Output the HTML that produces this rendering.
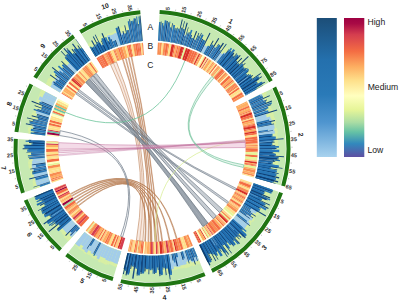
<!DOCTYPE html>
<html><head><meta charset="utf-8"><style>
html,body{margin:0;padding:0;background:#fff;width:400px;height:303px;overflow:hidden}
svg{display:block}
text{font-family:"Liberation Sans",sans-serif}
.tk{font-size:5.6px;font-weight:bold;fill:#333;dominant-baseline:central}
.cl{font-size:6.8px;font-weight:bold;fill:#222;text-anchor:middle;dominant-baseline:central}
.cb{font-size:8.6px;fill:#222}
.tl{font-size:8.5px;fill:#222}
</style></head><body>
<svg width="400" height="303" viewBox="0 0 400 303">
<defs>
<linearGradient id="gb" x1="0" y1="0" x2="0" y2="1">
<stop offset="0" stop-color="#1c4e78"/>
<stop offset="0.3" stop-color="#2470ad"/>
<stop offset="0.55" stop-color="#2a7ab8"/>
<stop offset="0.75" stop-color="#4f95cf"/>
<stop offset="1" stop-color="#a8d2ee"/>
</linearGradient>
<linearGradient id="gs" x1="0" y1="0" x2="0" y2="1">
<stop offset="0" stop-color="#9e0142"/>
<stop offset="0.04" stop-color="#a80a45"/>
<stop offset="0.12" stop-color="#d53e4f"/>
<stop offset="0.24" stop-color="#f46d43"/>
<stop offset="0.35" stop-color="#fdae61"/>
<stop offset="0.45" stop-color="#fee08b"/>
<stop offset="0.56" stop-color="#ffffbf"/>
<stop offset="0.66" stop-color="#e6f598"/>
<stop offset="0.75" stop-color="#abdda4"/>
<stop offset="0.82" stop-color="#66c2a5"/>
<stop offset="0.905" stop-color="#3288bd"/>
<stop offset="1" stop-color="#5e4fa2"/>
</linearGradient>
</defs>
<rect x="316.8" y="18" width="20" height="139" fill="url(#gb)"/>
<rect x="344" y="18" width="20.3" height="139" fill="url(#gs)"/>
<text x="367.5" y="25.4" class="cb">High</text>
<text x="367.7" y="89.5" class="cb">Medium</text>
<text x="367.4" y="153" class="cb">Low</text>
<path d="M159.47,14.51A133.9,133.9 0 0 1 268.66,82.47L245.74,95.38A107.6,107.6 0 0 0 158.01,40.77Z" fill="#c6e9b2"/>
<path d="M159.02,22.6A125.8,125.8 0 0 1 161.92,22.8L160.48,40.93A107.6,107.6 0 0 0 158.01,40.77Z" fill="#d8efa3"/>
<path d="M161.78,23.65A124.93,124.93 0 0 1 164.32,23.88L162.61,41.12A107.6,107.6 0 0 0 160.43,40.93Z" fill="#d8efa3"/>
<path d="M164.25,23.88A124.92,124.92 0 0 1 167.75,24.28L165.57,41.46A107.6,107.6 0 0 0 162.55,41.12Z" fill="#d8efa3"/>
<path d="M167.64,24.64A124.55,124.55 0 0 1 170,24.96L167.55,41.73A107.6,107.6 0 0 0 165.51,41.45Z" fill="#d8efa3"/>
<path d="M170.1,23.82A125.69,125.69 0 0 1 173.37,24.34L170.3,42.17A107.6,107.6 0 0 0 167.49,41.72Z" fill="#d8efa3"/>
<path d="M173.42,23.67A126.36,126.36 0 0 1 176.37,24.21L172.75,42.62A107.6,107.6 0 0 0 170.24,42.16Z" fill="#d8efa3"/>
<path d="M176.15,24.97A125.58,125.58 0 0 1 178.48,25.44L174.69,43.02A107.6,107.6 0 0 0 172.7,42.61Z" fill="#d8efa3"/>
<path d="M178.24,26.25A124.74,124.74 0 0 1 181.39,26.97L177.35,43.63A107.6,107.6 0 0 0 174.63,43.01Z" fill="#d8efa3"/>
<path d="M181.54,26.07A125.65,125.65 0 0 1 183.81,26.64L179.24,44.1A107.6,107.6 0 0 0 177.3,43.62Z" fill="#d8efa3"/>
<path d="M183.86,26.18A126.11,126.11 0 0 1 186.87,27L181.75,44.8A107.6,107.6 0 0 0 179.18,44.09Z" fill="#d8efa3"/>
<path d="M186.5,28.08A124.98,124.98 0 0 1 188.78,28.76L183.67,45.37A107.6,107.6 0 0 0 181.7,44.78Z" fill="#d8efa3"/>
<path d="M188.6,29.12A124.58,124.58 0 0 1 190.91,29.85L185.6,45.98A107.6,107.6 0 0 0 183.61,45.35Z" fill="#d8efa3"/>
<path d="M190.45,31.04A123.31,123.31 0 0 1 193.32,32.02L188.06,46.82A107.6,107.6 0 0 0 185.55,45.96Z" fill="#d8efa3"/>
<path d="M193.29,31.92A123.39,123.39 0 0 1 196.87,33.25L191.13,47.97A107.6,107.6 0 0 0 188,46.8Z" fill="#d8efa3"/>
<path d="M196.64,33.65A122.94,122.94 0 0 1 198.92,34.57L193.06,48.74A107.6,107.6 0 0 0 191.07,47.95Z" fill="#d8efa3"/>
<path d="M198.93,34.36A123.14,123.14 0 0 1 201.37,35.39L195.14,49.63A107.6,107.6 0 0 0 193.01,48.72Z" fill="#d8efa3"/>
<path d="M201.33,35.31A123.2,123.2 0 0 1 204.46,36.73L197.81,50.84A107.6,107.6 0 0 0 195.09,49.6Z" fill="#d8efa3"/>
<path d="M204.53,36.41A123.52,123.52 0 0 1 208.18,38.2L200.94,52.37A107.6,107.6 0 0 0 197.76,50.82Z" fill="#d8efa3"/>
<path d="M207.89,38.63A123,123 0 0 1 210.83,40.18L203.46,53.7A107.6,107.6 0 0 0 200.89,52.35Z" fill="#d8efa3"/>
<path d="M211.02,39.7A123.51,123.51 0 0 1 213.62,41.16L205.69,54.95A107.6,107.6 0 0 0 203.41,53.68Z" fill="#d8efa3"/>
<path d="M214.05,40.29A124.47,124.47 0 0 1 217.61,42.42L208.71,56.76A107.6,107.6 0 0 0 205.64,54.92Z" fill="#d8efa3"/>
<path d="M217.44,42.57A124.26,124.26 0 0 1 219.4,43.81L210.37,57.81A107.6,107.6 0 0 0 208.67,56.73Z" fill="#d8efa3"/>
<path d="M219.66,43.3A124.82,124.82 0 0 1 222.92,45.48L213.14,59.65A107.6,107.6 0 0 0 210.32,57.78Z" fill="#d8efa3"/>
<path d="M222.43,46.07A124.06,124.06 0 0 1 224.72,47.68L215.07,61.02A107.6,107.6 0 0 0 213.09,59.62Z" fill="#d8efa3"/>
<path d="M225.18,46.93A124.94,124.94 0 0 1 227.22,48.43L216.78,62.28A107.6,107.6 0 0 0 215.02,60.99Z" fill="#d8efa3"/>
<path d="M227.47,47.99A125.45,125.45 0 0 1 229.44,49.5L218.42,63.55A107.6,107.6 0 0 0 216.73,62.25Z" fill="#d8efa3"/>
<path d="M229.02,49.94A124.85,124.85 0 0 1 231.24,51.72L220.29,65.05A107.6,107.6 0 0 0 218.38,63.51Z" fill="#d8efa3"/>
<path d="M231.79,50.95A125.8,125.8 0 0 1 234.75,53.45L222.78,67.16A107.6,107.6 0 0 0 220.25,65.01Z" fill="#d8efa3"/>
<path d="M234.56,53.56A125.59,125.59 0 0 1 236.52,55.3L224.41,68.61A107.6,107.6 0 0 0 222.74,67.12Z" fill="#d8efa3"/>
<path d="M236.28,55.46A125.32,125.32 0 0 1 238.77,57.78L226.5,70.56A107.6,107.6 0 0 0 224.37,68.57Z" fill="#d8efa3"/>
<path d="M238.27,58.2A124.67,124.67 0 0 1 240.76,60.65L228.6,72.64A107.6,107.6 0 0 0 226.46,70.52Z" fill="#d8efa3"/>
<path d="M241.24,60.09A125.41,125.41 0 0 1 243.31,62.24L230.34,74.44A107.6,107.6 0 0 0 228.56,72.6Z" fill="#d8efa3"/>
<path d="M243.52,61.95A125.76,125.76 0 0 1 245.78,64.41L232.24,76.51A107.6,107.6 0 0 0 230.31,74.4Z" fill="#d8efa3"/>
<path d="M245.18,64.86A125.01,125.01 0 0 1 246.75,66.64L233.55,78A107.6,107.6 0 0 0 232.2,76.47Z" fill="#d8efa3"/>
<path d="M246.75,66.55A125.08,125.08 0 0 1 248.28,68.36L234.82,79.51A107.6,107.6 0 0 0 233.51,77.96Z" fill="#d8efa3"/>
<path d="M249.05,67.63A126.13,126.13 0 0 1 250.73,69.71L236.23,81.24A107.6,107.6 0 0 0 234.79,79.47Z" fill="#d8efa3"/>
<path d="M249.65,70.49A124.8,124.8 0 0 1 251.83,73.32L238.08,83.64A107.6,107.6 0 0 0 236.19,81.2Z" fill="#d8efa3"/>
<path d="M252.03,73.09A125.08,125.08 0 0 1 253.85,75.59L239.61,85.74A107.6,107.6 0 0 0 238.04,83.59Z" fill="#d8efa3"/>
<path d="M254.46,75.07A125.88,125.88 0 0 1 256.11,77.44L240.99,87.71A107.6,107.6 0 0 0 239.58,85.69Z" fill="#d8efa3"/>
<path d="M255.92,77.49A125.7,125.7 0 0 1 257.8,80.34L242.57,90.11A107.6,107.6 0 0 0 240.96,87.67Z" fill="#d8efa3"/>
<path d="M257.69,80.33A125.6,125.6 0 0 1 259.36,83L243.97,92.35A107.6,107.6 0 0 0 242.54,90.06Z" fill="#d8efa3"/>
<path d="M260.07,82.5A126.47,126.47 0 0 1 261.53,84.97L245.19,94.4A107.6,107.6 0 0 0 243.94,92.3Z" fill="#d8efa3"/>
<path d="M261.88,84.69A126.91,126.91 0 0 1 262.6,85.96L245.77,95.43A107.6,107.6 0 0 0 245.16,94.35Z" fill="#d8efa3"/>
<path d="M158.9,24.73A123.66,123.66 0 0 1 161.75,24.92L160.48,40.93A107.6,107.6 0 0 0 158.01,40.77Z" fill="#a3cdea"/>
<path d="M161.51,27.13A121.45,121.45 0 0 1 163.97,27.35L162.61,41.12A107.6,107.6 0 0 0 160.43,40.93Z" fill="#a3cdea"/>
<path d="M164.26,23.79A125.01,125.01 0 0 1 167.76,24.19L165.57,41.46A107.6,107.6 0 0 0 162.55,41.12Z" fill="#a3cdea"/>
<path d="M167.58,25.1A124.08,124.08 0 0 1 169.93,25.42L167.55,41.73A107.6,107.6 0 0 0 165.51,41.45Z" fill="#a3cdea"/>
<path d="M169.3,29.32A120.13,120.13 0 0 1 172.43,29.82L170.3,42.17A107.6,107.6 0 0 0 167.49,41.72Z" fill="#a3cdea"/>
<path d="M172.46,29.25A120.7,120.7 0 0 1 175.28,29.77L172.75,42.62A107.6,107.6 0 0 0 170.24,42.16Z" fill="#a3cdea"/>
<path d="M175.1,30.32A120.12,120.12 0 0 1 177.33,30.78L174.69,43.02A107.6,107.6 0 0 0 172.7,42.61Z" fill="#a3cdea"/>
<path d="M177.3,30.61A120.28,120.28 0 0 1 180.34,31.3L177.35,43.63A107.6,107.6 0 0 0 174.63,43.01Z" fill="#a3cdea"/>
<path d="M180.63,29.83A121.79,121.79 0 0 1 182.83,30.38L179.24,44.1A107.6,107.6 0 0 0 177.3,43.62Z" fill="#a3cdea"/>
<path d="M182.65,30.8A121.34,121.34 0 0 1 185.55,31.59L181.75,44.8A107.6,107.6 0 0 0 179.18,44.09Z" fill="#a3cdea"/>
<path d="M184.65,34.52A118.28,118.28 0 0 1 186.81,35.16L183.67,45.37A107.6,107.6 0 0 0 181.7,44.78Z" fill="#a3cdea"/>
<path d="M187.26,33.49A120,120 0 0 1 189.48,34.2L185.6,45.98A107.6,107.6 0 0 0 183.61,45.35Z" fill="#a3cdea"/>
<path d="M189.34,34.42A119.75,119.75 0 0 1 192.13,35.38L188.06,46.82A107.6,107.6 0 0 0 185.55,45.96Z" fill="#a3cdea"/>
<path d="M190.81,38.91A115.98,115.98 0 0 1 194.17,40.16L191.13,47.97A107.6,107.6 0 0 0 188,46.8Z" fill="#a3cdea"/>
<path d="M194.52,39.09A117.1,117.1 0 0 1 196.69,39.96L193.06,48.74A107.6,107.6 0 0 0 191.07,47.95Z" fill="#a3cdea"/>
<path d="M197.77,37.17A120.09,120.09 0 0 1 200.15,38.18L195.14,49.63A107.6,107.6 0 0 0 193.01,48.72Z" fill="#a3cdea"/>
<path d="M199.44,39.64A118.48,118.48 0 0 1 202.45,41L197.81,50.84A107.6,107.6 0 0 0 195.09,49.6Z" fill="#a3cdea"/>
<path d="M202.2,41.38A118.03,118.03 0 0 1 205.68,43.09L200.94,52.37A107.6,107.6 0 0 0 197.76,50.82Z" fill="#a3cdea"/>
<path d="M204.52,45.22A115.6,115.6 0 0 1 207.29,46.68L203.46,53.7A107.6,107.6 0 0 0 200.89,52.35Z" fill="#a3cdea"/>
<path d="M207.51,46.14A116.18,116.18 0 0 1 209.97,47.51L205.69,54.95A107.6,107.6 0 0 0 203.41,53.68Z" fill="#a3cdea"/>
<path d="M211.21,45.22A118.79,118.79 0 0 1 214.61,47.25L208.71,56.76A107.6,107.6 0 0 0 205.64,54.92Z" fill="#a3cdea"/>
<path d="M214.76,46.89A119.18,119.18 0 0 1 216.65,48.08L210.37,57.81A107.6,107.6 0 0 0 208.67,56.73Z" fill="#a3cdea"/>
<path d="M217.61,46.47A121.05,121.05 0 0 1 220.78,48.59L213.14,59.65A107.6,107.6 0 0 0 210.32,57.78Z" fill="#a3cdea"/>
<path d="M218.74,51.43A117.55,117.55 0 0 1 220.9,52.96L215.07,61.02A107.6,107.6 0 0 0 213.09,59.62Z" fill="#a3cdea"/>
<path d="M220.88,52.88A117.61,117.61 0 0 1 222.8,54.29L216.78,62.28A107.6,107.6 0 0 0 215.02,60.99Z" fill="#a3cdea"/>
<path d="M224.2,52.33A120.01,120.01 0 0 1 226.08,53.78L218.42,63.55A107.6,107.6 0 0 0 216.73,62.25Z" fill="#a3cdea"/>
<path d="M224.26,56.01A117.13,117.13 0 0 1 226.34,57.69L220.29,65.05A107.6,107.6 0 0 0 218.38,63.51Z" fill="#a3cdea"/>
<path d="M224.67,59.62A114.58,114.58 0 0 1 227.37,61.9L222.78,67.16A107.6,107.6 0 0 0 220.25,65.01Z" fill="#a3cdea"/>
<path d="M227.61,61.53A115.02,115.02 0 0 1 229.4,63.12L224.41,68.61A107.6,107.6 0 0 0 222.74,67.12Z" fill="#a3cdea"/>
<path d="M230.07,62.3A116.08,116.08 0 0 1 232.37,64.45L226.5,70.56A107.6,107.6 0 0 0 224.37,68.57Z" fill="#a3cdea"/>
<path d="M233.97,62.68A118.46,118.46 0 0 1 236.33,65.01L228.6,72.64A107.6,107.6 0 0 0 226.46,70.52Z" fill="#a3cdea"/>
<path d="M234.42,66.81A115.83,115.83 0 0 1 236.34,68.8L230.34,74.44A107.6,107.6 0 0 0 228.56,72.6Z" fill="#a3cdea"/>
<path d="M236.9,68.18A116.67,116.67 0 0 1 239,70.47L232.24,76.51A107.6,107.6 0 0 0 230.31,74.4Z" fill="#a3cdea"/>
<path d="M237.99,71.29A115.37,115.37 0 0 1 239.43,72.93L233.55,78A107.6,107.6 0 0 0 232.2,76.47Z" fill="#a3cdea"/>
<path d="M238.96,73.26A114.8,114.8 0 0 1 240.36,74.92L234.82,79.51A107.6,107.6 0 0 0 233.51,77.96Z" fill="#a3cdea"/>
<path d="M241.38,74A116.17,116.17 0 0 1 242.93,75.91L236.23,81.24A107.6,107.6 0 0 0 234.79,79.47Z" fill="#a3cdea"/>
<path d="M242.97,75.81A116.26,116.26 0 0 1 245.01,78.44L238.08,83.64A107.6,107.6 0 0 0 236.19,81.2Z" fill="#a3cdea"/>
<path d="M246.05,77.58A117.61,117.61 0 0 1 247.76,79.93L239.61,85.74A107.6,107.6 0 0 0 238.04,83.59Z" fill="#a3cdea"/>
<path d="M245.34,81.58A114.68,114.68 0 0 1 246.84,83.74L240.99,87.71A107.6,107.6 0 0 0 239.58,85.69Z" fill="#a3cdea"/>
<path d="M248.59,82.47A116.83,116.83 0 0 1 250.34,85.12L242.57,90.11A107.6,107.6 0 0 0 240.96,87.67Z" fill="#a3cdea"/>
<path d="M250.11,85.2A116.6,116.6 0 0 1 251.66,87.68L243.97,92.35A107.6,107.6 0 0 0 242.54,90.06Z" fill="#a3cdea"/>
<path d="M252.39,87.17A117.49,117.49 0 0 1 253.75,89.46L245.19,94.4A107.6,107.6 0 0 0 243.94,92.3Z" fill="#a3cdea"/>
<path d="M254.29,89.07A118.15,118.15 0 0 1 254.97,90.25L245.77,95.43A107.6,107.6 0 0 0 245.16,94.35Z" fill="#a3cdea"/>
<path d="M159.15,21.9A126.5,126.5 0 0 1 160.61,21.99L159.32,40.85A107.6,107.6 0 0 0 158.08,40.77Z" fill="#2472b3"/>
<path d="M160.82,21.38A127.12,127.12 0 0 1 161.57,21.44L160.1,40.91A107.6,107.6 0 0 0 159.47,40.86Z" fill="#123f70"/>
<path d="M161.91,23.05A125.54,125.54 0 0 1 163.42,23.18L161.79,41.05A107.6,107.6 0 0 0 160.49,40.94Z" fill="#2675b5"/>
<path d="M163.37,25.4A123.33,123.33 0 0 1 164.04,25.46L162.51,41.11A107.6,107.6 0 0 0 161.92,41.06Z" fill="#123f70"/>
<path d="M164.72,20.19A128.64,128.64 0 0 1 166.48,20.38L164.11,41.28A107.6,107.6 0 0 0 162.64,41.13Z" fill="#2675b5"/>
<path d="M166.62,20.95A128.08,128.08 0 0 1 167.81,21.1L165.28,41.42A107.6,107.6 0 0 0 164.29,41.3Z" fill="#0f447c"/>
<path d="M168.01,22.23A126.99,126.99 0 0 1 169.43,22.41L166.77,41.62A107.6,107.6 0 0 0 165.57,41.46Z" fill="#2472b3"/>
<path d="M169.69,21.58A127.85,127.85 0 0 1 170.35,21.67L167.44,41.71A107.6,107.6 0 0 0 166.89,41.63Z" fill="#174a82"/>
<path d="M169.71,27.14A122.34,122.34 0 0 1 171.27,27.38L168.95,41.94A107.6,107.6 0 0 0 167.57,41.73Z" fill="#2675b5"/>
<path d="M172.13,23.23A126.58,126.58 0 0 1 172.96,23.36L169.82,42.09A107.6,107.6 0 0 0 169.11,41.97Z" fill="#174a82"/>
<path d="M173.32,24.78A125.25,125.25 0 0 1 175.18,25.11L171.91,42.46A107.6,107.6 0 0 0 170.32,42.17Z" fill="#2a7abb"/>
<path d="M174.83,27.87A122.48,122.48 0 0 1 175.5,28L172.65,42.6A107.6,107.6 0 0 0 172.06,42.49Z" fill="#0f447c"/>
<path d="M175.6,28.17A122.33,122.33 0 0 1 176.77,28.41L173.79,42.83A107.6,107.6 0 0 0 172.75,42.62Z" fill="#2472b3"/>
<path d="M177.08,27.6A123.18,123.18 0 0 1 177.77,27.75L174.51,42.98A107.6,107.6 0 0 0 173.91,42.85Z" fill="#0d3f75"/>
<path d="M177.86,28.44A122.52,122.52 0 0 1 179.48,28.8L176.13,43.34A107.6,107.6 0 0 0 174.71,43.02Z" fill="#2a7abb"/>
<path d="M181.85,19.39A132.23,132.23 0 0 1 182.78,19.61L177.05,43.56A107.6,107.6 0 0 0 176.29,43.38Z" fill="#0d3f75"/>
<path d="M181.29,27.41A124.29,124.29 0 0 1 182.46,27.7L178.37,43.88A107.6,107.6 0 0 0 177.36,43.63Z" fill="#216eb0"/>
<path d="M184.26,21.16A131.07,131.07 0 0 1 184.93,21.33L179.03,44.05A107.6,107.6 0 0 0 178.48,43.91Z" fill="#0d3f75"/>
<path d="M183.25,28.85A123.38,123.38 0 0 1 184.67,29.23L180.49,44.44A107.6,107.6 0 0 0 179.26,44.11Z" fill="#2675b5"/>
<path d="M186.69,22.59A130.31,130.31 0 0 1 187.72,22.88L181.49,44.72A107.6,107.6 0 0 0 180.64,44.48Z" fill="#0d3f75"/>
<path d="M184.31,35.92A116.84,116.84 0 0 1 185.32,36.21L182.69,45.07A107.6,107.6 0 0 0 181.76,44.8Z" fill="#216eb0"/>
<path d="M188.11,27.34A126.14,126.14 0 0 1 188.65,27.5L183.27,45.24A107.6,107.6 0 0 0 182.8,45.1Z" fill="#0f447c"/>
<path d="M187.74,32.16A121.41,121.41 0 0 1 188.87,32.52L184.68,45.68A107.6,107.6 0 0 0 183.67,45.37Z" fill="#2675b5"/>
<path d="M189.11,32.22A121.78,121.78 0 0 1 189.82,32.44L185.41,45.92A107.6,107.6 0 0 0 184.79,45.72Z" fill="#123f70"/>
<path d="M190.94,29.82A124.62,124.62 0 0 1 192.49,30.34L186.96,46.44A107.6,107.6 0 0 0 185.62,45.99Z" fill="#2a7abb"/>
<path d="M191.12,34.85A119.91,119.91 0 0 1 191.97,35.15L187.87,46.75A107.6,107.6 0 0 0 187.11,46.49Z" fill="#0d3f75"/>
<path d="M191.37,37.64A117.36,117.36 0 0 1 193.12,38.28L189.7,47.42A107.6,107.6 0 0 0 188.1,46.84Z" fill="#2675b5"/>
<path d="M196.07,31.04A125.17,125.17 0 0 1 197.07,31.43L190.75,47.82A107.6,107.6 0 0 0 189.88,47.49Z" fill="#0d3f75"/>
<path d="M194.48,39.39A116.81,116.81 0 0 1 195.57,39.82L192.14,48.37A107.6,107.6 0 0 0 191.13,47.97Z" fill="#2472b3"/>
<path d="M198.58,32.72A124.52,124.52 0 0 1 199.26,33L192.84,48.65A107.6,107.6 0 0 0 192.25,48.41Z" fill="#123f70"/>
<path d="M198.68,35.16A122.3,122.3 0 0 1 199.83,35.65L194.08,49.17A107.6,107.6 0 0 0 193.07,48.75Z" fill="#2675b5"/>
<path d="M201.2,32.82A125.43,125.43 0 0 1 201.8,33.08L194.72,49.44A107.6,107.6 0 0 0 194.21,49.22Z" fill="#0d3f75"/>
<path d="M201.91,34.25A124.4,124.4 0 0 1 203.62,35.02L196.65,50.3A107.6,107.6 0 0 0 195.17,49.64Z" fill="#216eb0"/>
<path d="M202.14,38.74A120.39,120.39 0 0 1 203.15,39.21L197.71,50.79A107.6,107.6 0 0 0 196.81,50.37Z" fill="#174a82"/>
<path d="M203.09,39.76A119.87,119.87 0 0 1 205.31,40.84L199.85,51.83A107.6,107.6 0 0 0 197.86,50.86Z" fill="#216eb0"/>
<path d="M209.56,32.84A128.92,128.92 0 0 1 210.5,33.32L200.83,52.32A107.6,107.6 0 0 0 200.04,51.92Z" fill="#0d3f75"/>
<path d="M208,45.42A117.05,117.05 0 0 1 209.37,46.18L204.74,54.41A107.6,107.6 0 0 0 203.48,53.71Z" fill="#2675b5"/>
<path d="M212.82,40.41A123.76,123.76 0 0 1 213.64,40.88L205.59,54.9A107.6,107.6 0 0 0 204.87,54.49Z" fill="#0f447c"/>
<path d="M211.96,44.16A120.08,120.08 0 0 1 213.72,45.19L207.3,55.9A107.6,107.6 0 0 0 205.73,54.97Z" fill="#2675b5"/>
<path d="M218.3,38.04A128.58,128.58 0 0 1 219.24,38.61L208.27,56.48A107.6,107.6 0 0 0 207.48,56.01Z" fill="#123f70"/>
<path d="M214.62,47.24A118.8,118.8 0 0 1 215.69,47.91L209.68,57.37A107.6,107.6 0 0 0 208.72,56.76Z" fill="#2675b5"/>
<path d="M218.48,43.76A123.81,123.81 0 0 1 218.99,44.09L210.22,57.71A107.6,107.6 0 0 0 209.78,57.43Z" fill="#0f447c"/>
<path d="M218.99,44.54A123.42,123.42 0 0 1 220.65,45.63L211.85,58.78A107.6,107.6 0 0 0 210.4,57.83Z" fill="#2472b3"/>
<path d="M222.85,42.76A127.04,127.04 0 0 1 223.96,43.51L212.95,59.53A107.6,107.6 0 0 0 212.01,58.89Z" fill="#0d3f75"/>
<path d="M219.8,50.03A119.3,119.3 0 0 1 220.82,50.74L214.07,60.3A107.6,107.6 0 0 0 213.15,59.66Z" fill="#2675b5"/>
<path d="M226.02,43.66A128.1,128.1 0 0 1 226.69,44.14L214.74,60.79A107.6,107.6 0 0 0 214.18,60.39Z" fill="#0f447c"/>
<path d="M223.51,53.36A118.78,118.78 0 0 1 224.67,54.25L217.83,63.09A107.6,107.6 0 0 0 216.78,62.29Z" fill="#2472b3"/>
<path d="M228.65,49.34A125.1,125.1 0 0 1 229.13,49.71L218.34,63.49A107.6,107.6 0 0 0 217.93,63.17Z" fill="#174a82"/>
<path d="M228.33,50.82A123.73,123.73 0 0 1 230.53,52.59L220.29,65.05A107.6,107.6 0 0 0 218.38,63.51Z" fill="#0f447c"/>
<path d="M230.87,47.72A127.74,127.74 0 0 1 232.11,48.71L219.48,64.39A107.6,107.6 0 0 0 218.43,63.56Z" fill="#2a7abb"/>
<path d="M230.55,50.91A125.04,125.04 0 0 1 231.27,51.49L220.21,64.98A107.6,107.6 0 0 0 219.6,64.48Z" fill="#123f70"/>
<path d="M230.88,52.05A124.37,124.37 0 0 1 233.81,54.53L222.78,67.16A107.6,107.6 0 0 0 220.25,65.01Z" fill="#2675b5"/>
<path d="M233.51,49.04A128.36,128.36 0 0 1 235.09,50.36L221.65,66.19A107.6,107.6 0 0 0 220.32,65.08Z" fill="#2675b5"/>
<path d="M233.53,52.55A125.68,125.68 0 0 1 234.34,53.25L222.5,66.91A107.6,107.6 0 0 0 221.8,66.31Z" fill="#123f70"/>
<path d="M232.12,56.36A121.88,121.88 0 0 1 234.02,58.04L224.41,68.61A107.6,107.6 0 0 0 222.74,67.12Z" fill="#2675b5"/>
<path d="M233.05,55.41A123.2,123.2 0 0 1 233.93,56.2L223.56,67.84A107.6,107.6 0 0 0 222.79,67.16Z" fill="#216eb0"/>
<path d="M236.67,53.36A127.14,127.14 0 0 1 237.21,53.84L224.12,68.34A107.6,107.6 0 0 0 223.66,67.93Z" fill="#0d3f75"/>
<path d="M232.7,58.27A120.83,120.83 0 0 1 233.01,58.55L224.14,68.37A107.6,107.6 0 0 0 223.86,68.12Z" fill="#93c2e3"/>
<path d="M236.33,55.4A125.39,125.39 0 0 1 238.82,57.73L226.5,70.56A107.6,107.6 0 0 0 224.37,68.57Z" fill="#0f447c"/>
<path d="M237.29,54.5A126.71,126.71 0 0 1 238.88,55.98L225.78,69.88A107.6,107.6 0 0 0 224.43,68.63Z" fill="#2675b5"/>
<path d="M239.98,55.11A128.09,128.09 0 0 1 240.59,55.68L226.42,70.48A107.6,107.6 0 0 0 225.91,70Z" fill="#0d3f75"/>
<path d="M235.19,61.41A120.22,120.22 0 0 1 237.59,63.78L228.6,72.64A107.6,107.6 0 0 0 226.46,70.52Z" fill="#2675b5"/>
<path d="M236.17,60.53A121.53,121.53 0 0 1 237.41,61.74L227.62,71.65A107.6,107.6 0 0 0 226.52,70.58Z" fill="#2472b3"/>
<path d="M241.54,57.86A127.2,127.2 0 0 1 242.2,58.52L228.3,72.34A107.6,107.6 0 0 0 227.75,71.78Z" fill="#123f70"/>
<path d="M237.45,63.83A120.08,120.08 0 0 1 239.43,65.89L230.34,74.44A107.6,107.6 0 0 0 228.56,72.6Z" fill="#0d3f75"/>
<path d="M238.44,62.97A121.4,121.4 0 0 1 239.48,64.04L229.54,73.6A107.6,107.6 0 0 0 228.62,72.65Z" fill="#2472b3"/>
<path d="M248.06,56.05A133.11,133.11 0 0 1 248.77,56.8L230.23,74.32A107.6,107.6 0 0 0 229.65,73.71Z" fill="#123f70"/>
<path d="M241.36,63.99A122.79,122.79 0 0 1 243.57,66.39L232.24,76.51A107.6,107.6 0 0 0 230.31,74.4Z" fill="#2675b5"/>
<path d="M242.38,63.15A124.1,124.1 0 0 1 243.42,64.27L231.26,75.43A107.6,107.6 0 0 0 230.36,74.46Z" fill="#2a7abb"/>
<path d="M245.08,63.01A126.18,126.18 0 0 1 245.63,63.61L231.84,76.07A107.6,107.6 0 0 0 231.37,75.55Z" fill="#123f70"/>
<path d="M242.23,67.5A121.06,121.06 0 0 1 243.75,69.22L233.55,78A107.6,107.6 0 0 0 232.2,76.47Z" fill="#2675b5"/>
<path d="M243.26,66.67A122.37,122.37 0 0 1 244.03,67.54L232.92,77.28A107.6,107.6 0 0 0 232.24,76.51Z" fill="#2472b3"/>
<path d="M244.18,67.59A122.46,122.46 0 0 1 244.55,68.01L233.32,77.74A107.6,107.6 0 0 0 233,77.37Z" fill="#0d3f75"/>
<path d="M244.47,68.51A122.07,122.07 0 0 1 245.96,70.27L234.82,79.51A107.6,107.6 0 0 0 233.51,77.96Z" fill="#0d3f75"/>
<path d="M245.51,67.7A123.39,123.39 0 0 1 246.22,68.53L234.16,78.72A107.6,107.6 0 0 0 233.55,78Z" fill="#2472b3"/>
<path d="M247.22,67.86A124.59,124.59 0 0 1 247.62,68.33L234.58,79.22A107.6,107.6 0 0 0 234.24,78.81Z" fill="#0f447c"/>
<path d="M244.68,70.59A120.88,120.88 0 0 1 244.95,70.92L234.74,79.41A107.6,107.6 0 0 0 234.5,79.12Z" fill="#93c2e3"/>
<path d="M246.54,69.71A122.88,122.88 0 0 1 248.19,71.73L236.23,81.24A107.6,107.6 0 0 0 234.79,79.47Z" fill="#2675b5"/>
<path d="M248,68.6A124.71,124.71 0 0 1 248.96,69.77L235.66,80.53A107.6,107.6 0 0 0 234.83,79.52Z" fill="#2a7abb"/>
<path d="M248.66,70.22A124.19,124.19 0 0 1 249.14,70.83L236.16,81.16A107.6,107.6 0 0 0 235.74,80.64Z" fill="#174a82"/>
<path d="M245.07,74.13A118.94,118.94 0 0 1 247.15,76.83L238.08,83.64A107.6,107.6 0 0 0 236.19,81.2Z" fill="#0f447c"/>
<path d="M246.16,73.39A120.26,120.26 0 0 1 247.37,74.94L237.33,82.66A107.6,107.6 0 0 0 236.25,81.27Z" fill="#2675b5"/>
<path d="M248.79,74.12A121.88,121.88 0 0 1 249.29,74.79L237.89,83.39A107.6,107.6 0 0 0 237.44,82.8Z" fill="#174a82"/>
<path d="M249.42,75.05A121.82,121.82 0 0 1 251.2,77.48L239.61,85.74A107.6,107.6 0 0 0 238.04,83.59Z" fill="#0d3f75"/>
<path d="M250.52,74.33A123.14,123.14 0 0 1 251.4,75.52L238.86,84.69A107.6,107.6 0 0 0 238.09,83.66Z" fill="#2472b3"/>
<path d="M252.53,74.92A124.4,124.4 0 0 1 253.1,75.7L239.44,85.5A107.6,107.6 0 0 0 238.95,84.82Z" fill="#0f447c"/>
<path d="M247.65,76.85A119.33,119.33 0 0 1 247.9,77.18L238.47,84.16A107.6,107.6 0 0 0 238.25,83.86Z" fill="#93c2e3"/>
<path d="M250.59,77.83A121.13,121.13 0 0 1 252.18,80.11L240.99,87.71A107.6,107.6 0 0 0 239.58,85.69Z" fill="#2472b3"/>
<path d="M251.71,77.13A122.45,122.45 0 0 1 252.56,78.34L240.37,86.81A107.6,107.6 0 0 0 239.62,85.75Z" fill="#2a7abb"/>
<path d="M260.51,73.04A132,132 0 0 1 261,73.76L240.85,87.52A107.6,107.6 0 0 0 240.45,86.93Z" fill="#0d3f75"/>
<path d="M257.05,76.71A127.07,127.07 0 0 1 258.96,79.6L242.57,90.11A107.6,107.6 0 0 0 240.96,87.67Z" fill="#0f447c"/>
<path d="M258.2,76.06A128.38,128.38 0 0 1 259.18,77.52L241.83,88.96A107.6,107.6 0 0 0 241.01,87.74Z" fill="#216eb0"/>
<path d="M261.5,76.24A131.03,131.03 0 0 1 261.96,76.94L242.3,89.68A107.6,107.6 0 0 0 241.92,89.11Z" fill="#0d3f75"/>
<path d="M255.14,81.97A122.58,122.58 0 0 1 256.77,84.58L243.97,92.35A107.6,107.6 0 0 0 242.54,90.06Z" fill="#0d3f75"/>
<path d="M256.62,81.13A124.27,124.27 0 0 1 257.64,82.76L243.47,91.54A107.6,107.6 0 0 0 242.58,90.13Z" fill="#2472b3"/>
<path d="M257.42,83.11A123.89,123.89 0 0 1 257.83,83.79L243.91,92.26A107.6,107.6 0 0 0 243.56,91.67Z" fill="#0d3f75"/>
<path d="M260.8,82.05A127.33,127.33 0 0 1 262.28,84.53L245.19,94.4A107.6,107.6 0 0 0 243.94,92.3Z" fill="#2a7abb"/>
<path d="M261.97,81.44A128.65,128.65 0 0 1 262.73,82.7L244.61,93.42A107.6,107.6 0 0 0 243.98,92.36Z" fill="#2472b3"/>
<path d="M264.59,81.8A130.71,130.71 0 0 1 265.06,82.61L245.07,94.21A107.6,107.6 0 0 0 244.68,93.54Z" fill="#0f447c"/>
<path d="M255.89,88.15A120,120 0 0 1 256.57,89.35L245.77,95.43A107.6,107.6 0 0 0 245.16,94.35Z" fill="#2675b5"/>
<path d="M257.05,87.53A121.31,121.31 0 0 1 257.39,88.12L245.48,94.91A107.6,107.6 0 0 0 245.17,94.38Z" fill="#2a7abb"/>
<path d="M263.03,84.99A127.76,127.76 0 0 1 263.23,85.35L245.68,95.27A107.6,107.6 0 0 0 245.51,94.97Z" fill="#174a82"/>
<path d="M252.92,90.95A116.03,116.03 0 0 1 253.12,91.3L245.77,95.44A107.6,107.6 0 0 0 245.59,95.11Z" fill="#93c2e3"/>
<path d="M271.94,88.66A133.9,133.9 0 0 1 280.65,185.33L255.38,178.04A107.6,107.6 0 0 0 248.38,100.36Z" fill="#c6e9b2"/>
<path d="M265.97,91.63A127.24,127.24 0 0 1 267.01,93.77L249.26,102.17A107.6,107.6 0 0 0 248.38,100.36Z" fill="#d8efa3"/>
<path d="M265.92,94.21A126.06,126.06 0 0 1 267.38,97.41L250.48,104.85A107.6,107.6 0 0 0 249.23,102.12Z" fill="#d8efa3"/>
<path d="M267.08,97.47A125.77,125.77 0 0 1 268.13,99.91L251.35,106.88A107.6,107.6 0 0 0 250.46,104.8Z" fill="#d8efa3"/>
<path d="M267.79,99.98A125.43,125.43 0 0 1 269.07,103.17L252.43,109.57A107.6,107.6 0 0 0 251.33,106.83Z" fill="#d8efa3"/>
<path d="M268.72,103.23A125.09,125.09 0 0 1 269.73,105.95L253.28,111.85A107.6,107.6 0 0 0 252.41,109.52Z" fill="#d8efa3"/>
<path d="M270.37,105.65A125.79,125.79 0 0 1 271.53,109L254.24,114.67A107.6,107.6 0 0 0 253.26,111.8Z" fill="#d8efa3"/>
<path d="M272.21,108.71A126.53,126.53 0 0 1 273.3,112.2L255.15,117.58A107.6,107.6 0 0 0 254.23,114.62Z" fill="#d8efa3"/>
<path d="M273.05,112.2A126.29,126.29 0 0 1 274,115.57L255.95,120.4A107.6,107.6 0 0 0 255.14,117.53Z" fill="#d8efa3"/>
<path d="M273.72,115.58A126.02,126.02 0 0 1 274.35,118.03L256.47,122.44A107.6,107.6 0 0 0 255.93,120.35Z" fill="#d8efa3"/>
<path d="M274.91,117.82A126.61,126.61 0 0 1 275.65,120.97L257.08,125.06A107.6,107.6 0 0 0 256.46,122.38Z" fill="#d8efa3"/>
<path d="M275.45,120.95A126.43,126.43 0 0 1 276.11,124.12L257.63,127.7A107.6,107.6 0 0 0 257.07,125.01Z" fill="#d8efa3"/>
<path d="M275.15,124.24A125.46,125.46 0 0 1 275.88,128.35L258.24,131.17A107.6,107.6 0 0 0 257.62,127.65Z" fill="#d8efa3"/>
<path d="M276.99,128.1A126.6,126.6 0 0 1 277.36,130.54L258.55,133.19A107.6,107.6 0 0 0 258.24,131.12Z" fill="#d8efa3"/>
<path d="M277.56,130.45A126.81,126.81 0 0 1 277.91,133.14L258.84,135.42A107.6,107.6 0 0 0 258.54,133.14Z" fill="#d8efa3"/>
<path d="M277.22,133.16A126.12,126.12 0 0 1 277.57,136.38L259.13,138.11A107.6,107.6 0 0 0 258.83,135.37Z" fill="#d8efa3"/>
<path d="M277.77,136.29A126.33,126.33 0 0 1 278.06,139.96L259.37,141.18A107.6,107.6 0 0 0 259.12,138.06Z" fill="#d8efa3"/>
<path d="M278.01,139.89A126.28,126.28 0 0 1 278.16,142.73L259.5,143.54A107.6,107.6 0 0 0 259.37,141.12Z" fill="#d8efa3"/>
<path d="M278.01,142.67A126.13,126.13 0 0 1 278.11,145.85L259.58,146.2A107.6,107.6 0 0 0 259.5,143.48Z" fill="#d8efa3"/>
<path d="M278.83,145.77A126.85,126.85 0 0 1 278.84,149.58L259.59,149.37A107.6,107.6 0 0 0 259.58,146.14Z" fill="#d8efa3"/>
<path d="M278.39,149.51A126.4,126.4 0 0 1 278.28,153.76L259.5,152.93A107.6,107.6 0 0 0 259.59,149.32Z" fill="#d8efa3"/>
<path d="M279.18,153.73A127.3,127.3 0 0 1 278.99,157.11L259.34,155.73A107.6,107.6 0 0 0 259.5,152.87Z" fill="#d8efa3"/>
<path d="M279.6,157.08A127.9,127.9 0 0 1 279.36,160L259.14,158.13A107.6,107.6 0 0 0 259.34,155.67Z" fill="#d8efa3"/>
<path d="M278.66,159.87A127.2,127.2 0 0 1 278.41,162.31L258.94,160.14A107.6,107.6 0 0 0 259.15,158.07Z" fill="#d8efa3"/>
<path d="M277.98,162.2A126.76,126.76 0 0 1 277.59,165.4L258.61,162.8A107.6,107.6 0 0 0 258.94,160.08Z" fill="#d8efa3"/>
<path d="M278.16,165.41A127.33,127.33 0 0 1 277.74,168.24L258.26,165.14A107.6,107.6 0 0 0 258.61,162.74Z" fill="#d8efa3"/>
<path d="M276.33,167.95A125.89,125.89 0 0 1 275.92,170.33L257.92,167.12A107.6,107.6 0 0 0 258.27,165.08Z" fill="#d8efa3"/>
<path d="M276.52,170.37A126.48,126.48 0 0 1 275.9,173.59L257.41,169.8A107.6,107.6 0 0 0 257.93,167.06Z" fill="#d8efa3"/>
<path d="M276.86,173.72A127.44,127.44 0 0 1 275.93,177.9L256.64,173.28A107.6,107.6 0 0 0 257.42,169.75Z" fill="#d8efa3"/>
<path d="M276.52,177.97A128.03,128.03 0 0 1 275.45,182.14L255.75,176.72A107.6,107.6 0 0 0 256.65,173.22Z" fill="#d8efa3"/>
<path d="M274.84,181.9A127.38,127.38 0 0 1 274.37,183.59L255.36,178.09A107.6,107.6 0 0 0 255.77,176.67Z" fill="#d8efa3"/>
<path d="M261.75,93.72A122.53,122.53 0 0 1 262.75,95.78L249.26,102.17A107.6,107.6 0 0 0 248.38,100.36Z" fill="#a3cdea"/>
<path d="M261.32,96.39A120.98,120.98 0 0 1 262.72,99.46L250.48,104.85A107.6,107.6 0 0 0 249.23,102.12Z" fill="#a3cdea"/>
<path d="M263.88,98.88A122.27,122.27 0 0 1 264.9,101.25L251.35,106.88A107.6,107.6 0 0 0 250.46,104.8Z" fill="#a3cdea"/>
<path d="M264.22,101.46A121.56,121.56 0 0 1 265.46,104.56L252.43,109.57A107.6,107.6 0 0 0 251.33,106.83Z" fill="#a3cdea"/>
<path d="M267.69,103.63A123.98,123.98 0 0 1 268.69,106.32L253.28,111.85A107.6,107.6 0 0 0 252.41,109.52Z" fill="#a3cdea"/>
<path d="M264.28,107.84A119.32,119.32 0 0 1 265.38,111.02L254.24,114.67A107.6,107.6 0 0 0 253.26,111.8Z" fill="#a3cdea"/>
<path d="M267.62,110.22A121.7,121.7 0 0 1 268.67,113.57L255.15,117.58A107.6,107.6 0 0 0 254.23,114.62Z" fill="#a3cdea"/>
<path d="M265.9,114.33A118.82,118.82 0 0 1 266.79,117.5L255.95,120.4A107.6,107.6 0 0 0 255.14,117.53Z" fill="#a3cdea"/>
<path d="M270.08,116.56A122.24,122.24 0 0 1 270.69,118.93L256.47,122.44A107.6,107.6 0 0 0 255.93,120.35Z" fill="#a3cdea"/>
<path d="M271.19,118.74A122.77,122.77 0 0 1 271.9,121.8L257.08,125.06A107.6,107.6 0 0 0 256.46,122.38Z" fill="#a3cdea"/>
<path d="M270.85,121.96A121.71,121.71 0 0 1 271.48,125.02L257.63,127.7A107.6,107.6 0 0 0 257.07,125.01Z" fill="#a3cdea"/>
<path d="M274.12,124.44A124.41,124.41 0 0 1 274.84,128.51L258.24,131.17A107.6,107.6 0 0 0 257.62,127.65Z" fill="#a3cdea"/>
<path d="M273.79,128.61A123.35,123.35 0 0 1 274.15,131L258.55,133.19A107.6,107.6 0 0 0 258.24,131.12Z" fill="#a3cdea"/>
<path d="M274.62,130.87A123.84,123.84 0 0 1 274.96,133.49L258.84,135.42A107.6,107.6 0 0 0 258.54,133.14Z" fill="#a3cdea"/>
<path d="M268.94,134.15A117.78,117.78 0 0 1 269.26,137.16L259.13,138.11A107.6,107.6 0 0 0 258.83,135.37Z" fill="#a3cdea"/>
<path d="M270.8,136.95A119.33,119.33 0 0 1 271.08,140.41L259.37,141.18A107.6,107.6 0 0 0 259.12,138.06Z" fill="#a3cdea"/>
<path d="M269.83,140.43A118.08,118.08 0 0 1 269.97,143.08L259.5,143.54A107.6,107.6 0 0 0 259.37,141.12Z" fill="#a3cdea"/>
<path d="M271.21,142.96A119.32,119.32 0 0 1 271.3,145.98L259.58,146.2A107.6,107.6 0 0 0 259.5,143.48Z" fill="#a3cdea"/>
<path d="M268.46,145.97A116.48,116.48 0 0 1 268.48,149.47L259.59,149.37A107.6,107.6 0 0 0 259.58,146.14Z" fill="#a3cdea"/>
<path d="M270.73,149.43A118.74,118.74 0 0 1 270.63,153.42L259.5,152.93A107.6,107.6 0 0 0 259.59,149.32Z" fill="#a3cdea"/>
<path d="M269.2,153.29A117.31,117.31 0 0 1 269.02,156.41L259.34,155.73A107.6,107.6 0 0 0 259.5,152.87Z" fill="#a3cdea"/>
<path d="M267.81,156.26A116.09,116.09 0 0 1 267.6,158.91L259.14,158.13A107.6,107.6 0 0 0 259.34,155.67Z" fill="#a3cdea"/>
<path d="M267.35,158.83A115.84,115.84 0 0 1 267.12,161.05L258.94,160.14A107.6,107.6 0 0 0 259.15,158.07Z" fill="#a3cdea"/>
<path d="M270.47,161.36A119.2,119.2 0 0 1 270.1,164.37L258.61,162.8A107.6,107.6 0 0 0 258.94,160.08Z" fill="#a3cdea"/>
<path d="M269.72,164.26A118.81,118.81 0 0 1 269.33,166.9L258.26,165.14A107.6,107.6 0 0 0 258.61,162.74Z" fill="#a3cdea"/>
<path d="M266.65,166.41A116.08,116.08 0 0 1 266.28,168.61L257.92,167.12A107.6,107.6 0 0 0 258.27,165.08Z" fill="#a3cdea"/>
<path d="M268.16,168.88A117.99,117.99 0 0 1 267.59,171.89L257.41,169.8A107.6,107.6 0 0 0 257.93,167.06Z" fill="#a3cdea"/>
<path d="M266.04,171.51A116.4,116.4 0 0 1 265.19,175.33L256.64,173.28A107.6,107.6 0 0 0 257.42,169.75Z" fill="#a3cdea"/>
<path d="M265.61,175.36A116.81,116.81 0 0 1 264.63,179.16L255.75,176.72A107.6,107.6 0 0 0 256.65,173.22Z" fill="#a3cdea"/>
<path d="M263.51,178.79A115.63,115.63 0 0 1 263.08,180.32L255.36,178.09A107.6,107.6 0 0 0 255.77,176.67Z" fill="#a3cdea"/>
<path d="M259.97,94.68A120.51,120.51 0 0 1 260.57,95.92L248.95,101.52A107.6,107.6 0 0 0 248.4,100.41Z" fill="#2a7abb"/>
<path d="M261.93,95.41A121.95,121.95 0 0 1 262.16,95.91L249.21,102.06A107.6,107.6 0 0 0 249,101.62Z" fill="#0f447c"/>
<path d="M262.47,95.96A122.2,122.2 0 0 1 263.3,97.75L250,103.78A107.6,107.6 0 0 0 249.27,102.2Z" fill="#216eb0"/>
<path d="M269.59,95.13A129.01,129.01 0 0 1 269.97,95.98L250.39,104.64A107.6,107.6 0 0 0 250.07,103.94Z" fill="#0d3f75"/>
<path d="M262.86,99.41A121.12,121.12 0 0 1 263.45,100.77L251.01,106.07A107.6,107.6 0 0 0 250.49,104.86Z" fill="#2a7abb"/>
<path d="M266.81,99.51A124.71,124.71 0 0 1 267.08,100.17L251.3,106.75A107.6,107.6 0 0 0 251.06,106.19Z" fill="#174a82"/>
<path d="M265.64,100.98A123.06,123.06 0 0 1 266.27,102.53L251.92,108.27A107.6,107.6 0 0 0 251.36,106.91Z" fill="#216eb0"/>
<path d="M271.68,100.59A128.8,128.8 0 0 1 272.08,101.6L252.31,109.27A107.6,107.6 0 0 0 251.98,108.43Z" fill="#0d3f75"/>
<path d="M271.57,102.23A128.1,128.1 0 0 1 272.09,103.6L252.87,110.74A107.6,107.6 0 0 0 252.43,109.58Z" fill="#2675b5"/>
<path d="M270.99,104.19A126.87,126.87 0 0 1 271.26,104.93L253.15,111.5A107.6,107.6 0 0 0 252.92,110.88Z" fill="#0f447c"/>
<path d="M267.96,106.63A123.19,123.19 0 0 1 268.54,108.27L253.79,113.32A107.6,107.6 0 0 0 253.29,111.89Z" fill="#2675b5"/>
<path d="M266.27,109.26A120.73,120.73 0 0 1 266.56,110.1L254.1,114.25A107.6,107.6 0 0 0 253.85,113.49Z" fill="#123f70"/>
<path d="M268.14,110.16A122.21,122.21 0 0 1 268.65,111.77L254.71,116.13A107.6,107.6 0 0 0 254.25,114.71Z" fill="#2a7abb"/>
<path d="M276.92,109.42A130.8,130.8 0 0 1 277.25,110.49L255.03,117.18A107.6,107.6 0 0 0 254.76,116.3Z" fill="#0f447c"/>
<path d="M268.96,119.39A120.46,120.46 0 0 1 269.35,121.02L256.83,123.92A107.6,107.6 0 0 0 256.48,122.46Z" fill="#2472b3"/>
<path d="M274.84,119.94A126.05,126.05 0 0 1 275.07,120.97L257.06,124.95A107.6,107.6 0 0 0 256.86,124.08Z" fill="#0f447c"/>
<path d="M271.15,121.99A122,122 0 0 1 271.55,123.9L257.44,126.76A107.6,107.6 0 0 0 257.09,125.08Z" fill="#2472b3"/>
<path d="M274.01,123.59A124.47,124.47 0 0 1 274.17,124.37L257.61,127.6A107.6,107.6 0 0 0 257.48,126.92Z" fill="#0f447c"/>
<path d="M267.88,129.63A117.36,117.36 0 0 1 268.07,130.83L258.42,132.28A107.6,107.6 0 0 0 258.24,131.18Z" fill="#2472b3"/>
<path d="M272.97,130.24A122.3,122.3 0 0 1 273.06,130.84L258.51,132.92A107.6,107.6 0 0 0 258.43,132.4Z" fill="#174a82"/>
<path d="M271.07,133.9A119.93,119.93 0 0 1 271.4,136.96L259.13,138.11A107.6,107.6 0 0 0 258.83,135.37Z" fill="#0f447c"/>
<path d="M272.44,133.82A121.29,121.29 0 0 1 272.65,135.73L259.03,137.14A107.6,107.6 0 0 0 258.84,135.45Z" fill="#2472b3"/>
<path d="M272.62,135.92A121.24,121.24 0 0 1 272.7,136.71L259.12,138A107.6,107.6 0 0 0 259.05,137.3Z" fill="#0f447c"/>
<path d="M274.41,136.61A122.96,122.96 0 0 1 274.7,140.18L259.37,141.18A107.6,107.6 0 0 0 259.12,138.06Z" fill="#2675b5"/>
<path d="M275.73,136.59A124.27,124.27 0 0 1 275.91,138.67L259.28,139.95A107.6,107.6 0 0 0 259.13,138.15Z" fill="#2a7abb"/>
<path d="M283.55,138.31A131.92,131.92 0 0 1 283.61,139.22L259.35,140.88A107.6,107.6 0 0 0 259.3,140.13Z" fill="#174a82"/>
<path d="M272.21,140.28A120.47,120.47 0 0 1 272.36,142.98L259.5,143.54A107.6,107.6 0 0 0 259.37,141.12Z" fill="#216eb0"/>
<path d="M273.53,140.27A121.79,121.79 0 0 1 273.61,141.73L259.45,142.49A107.6,107.6 0 0 0 259.37,141.19Z" fill="#2472b3"/>
<path d="M274.68,141.84A122.85,122.85 0 0 1 274.72,142.49L259.48,143.2A107.6,107.6 0 0 0 259.46,142.63Z" fill="#123f70"/>
<path d="M271.52,141.36A119.72,119.72 0 0 1 271.54,141.78L259.44,142.43A107.6,107.6 0 0 0 259.42,142.05Z" fill="#93c2e3"/>
<path d="M270.97,142.97A119.09,119.09 0 0 1 271.07,145.99L259.58,146.2A107.6,107.6 0 0 0 259.5,143.48Z" fill="#0d3f75"/>
<path d="M272.29,143.01A120.4,120.4 0 0 1 272.36,144.92L259.56,145.27A107.6,107.6 0 0 0 259.5,143.56Z" fill="#2675b5"/>
<path d="M275.23,145.03A123.27,123.27 0 0 1 275.24,145.78L259.58,146.09A107.6,107.6 0 0 0 259.56,145.43Z" fill="#123f70"/>
<path d="M275.19,145.84A123.21,123.21 0 0 1 275.2,149.54L259.59,149.37A107.6,107.6 0 0 0 259.58,146.14Z" fill="#2a7abb"/>
<path d="M278.93,145.89A126.95,126.95 0 0 1 278.95,147.7L259.6,147.78A107.6,107.6 0 0 0 259.58,146.24Z" fill="#2a7abb"/>
<path d="M276.53,147.93A124.53,124.53 0 0 1 276.52,148.89L259.6,148.79A107.6,107.6 0 0 0 259.6,147.97Z" fill="#174a82"/>
<path d="M272.04,149.45A120.04,120.04 0 0 1 271.93,153.48L259.5,152.93A107.6,107.6 0 0 0 259.59,149.32Z" fill="#216eb0"/>
<path d="M279.28,149.65A127.29,127.29 0 0 1 279.23,152.18L259.55,151.57A107.6,107.6 0 0 0 259.59,149.42Z" fill="#2a7abb"/>
<path d="M273.29,152.24A121.36,121.36 0 0 1 273.26,153.21L259.51,152.64A107.6,107.6 0 0 0 259.54,151.78Z" fill="#174a82"/>
<path d="M274.65,153.53A122.77,122.77 0 0 1 274.47,156.79L259.34,155.73A107.6,107.6 0 0 0 259.5,152.87Z" fill="#0f447c"/>
<path d="M275.96,153.69A124.09,124.09 0 0 1 275.86,155.65L259.41,154.66A107.6,107.6 0 0 0 259.49,152.96Z" fill="#2472b3"/>
<path d="M284,156.35A132.25,132.25 0 0 1 283.94,157.3L259.34,155.61A107.6,107.6 0 0 0 259.4,154.83Z" fill="#174a82"/>
<path d="M269.31,155.58A117.54,117.54 0 0 1 269.28,155.99L259.36,155.33A107.6,107.6 0 0 0 259.39,154.96Z" fill="#93c2e3"/>
<path d="M277.43,156.93A125.74,125.74 0 0 1 277.2,159.8L259.14,158.13A107.6,107.6 0 0 0 259.34,155.67Z" fill="#0f447c"/>
<path d="M278.74,157.11A127.05,127.05 0 0 1 278.64,158.47L259.25,156.9A107.6,107.6 0 0 0 259.34,155.75Z" fill="#216eb0"/>
<path d="M278.69,158.65A127.12,127.12 0 0 1 278.62,159.43L259.18,157.71A107.6,107.6 0 0 0 259.24,157.04Z" fill="#123f70"/>
<path d="M274,159.44A122.51,122.51 0 0 1 273.76,161.79L258.94,160.14A107.6,107.6 0 0 0 259.15,158.07Z" fill="#0d3f75"/>
<path d="M279.97,160.06A128.52,128.52 0 0 1 279.86,161.21L259.05,159.09A107.6,107.6 0 0 0 259.14,158.13Z" fill="#216eb0"/>
<path d="M275.18,160.88A123.83,123.83 0 0 1 275.1,161.65L258.96,159.88A107.6,107.6 0 0 0 259.03,159.21Z" fill="#123f70"/>
<path d="M273.01,160.79A121.66,121.66 0 0 1 272.96,161.22L258.98,159.71A107.6,107.6 0 0 0 259.02,159.34Z" fill="#93c2e3"/>
<path d="M271.42,161.47A120.15,120.15 0 0 1 271.04,164.5L258.61,162.8A107.6,107.6 0 0 0 258.94,160.08Z" fill="#0f447c"/>
<path d="M272.83,161.72A121.58,121.58 0 0 1 272.6,163.64L258.73,161.87A107.6,107.6 0 0 0 258.93,160.16Z" fill="#2472b3"/>
<path d="M272.46,163.81A121.47,121.47 0 0 1 272.36,164.53L258.62,162.67A107.6,107.6 0 0 0 258.71,162.03Z" fill="#0f447c"/>
<path d="M268.19,162.87A117.12,117.12 0 0 1 268.14,163.28L258.7,162.05A107.6,107.6 0 0 0 258.75,161.68Z" fill="#93c2e3"/>
<path d="M277.75,165.35A126.91,126.91 0 0 1 277.33,168.18L258.26,165.14A107.6,107.6 0 0 0 258.61,162.74Z" fill="#2a7abb"/>
<path d="M279.04,165.61A128.23,128.23 0 0 1 278.79,167.32L258.4,164.25A107.6,107.6 0 0 0 258.6,162.81Z" fill="#2a7abb"/>
<path d="M282.52,168.06A132.02,132.02 0 0 1 282.4,168.86L258.27,165.04A107.6,107.6 0 0 0 258.38,164.39Z" fill="#0f447c"/>
<path d="M269.77,166.91A119.25,119.25 0 0 1 269.39,169.16L257.92,167.12A107.6,107.6 0 0 0 258.27,165.08Z" fill="#2675b5"/>
<path d="M271.06,167.18A120.56,120.56 0 0 1 270.88,168.23L258.1,166.08A107.6,107.6 0 0 0 258.26,165.14Z" fill="#216eb0"/>
<path d="M277.29,169.45A127.08,127.08 0 0 1 277.16,170.21L257.97,166.83A107.6,107.6 0 0 0 258.08,166.2Z" fill="#0f447c"/>
<path d="M275.79,170.24A125.74,125.74 0 0 1 275.18,173.44L257.41,169.8A107.6,107.6 0 0 0 257.93,167.06Z" fill="#216eb0"/>
<path d="M277.07,170.57A127.05,127.05 0 0 1 276.7,172.55L257.61,168.82A107.6,107.6 0 0 0 257.92,167.14Z" fill="#2a7abb"/>
<path d="M278.71,173.14A129.14,129.14 0 0 1 278.54,174L257.43,169.69A107.6,107.6 0 0 0 257.57,168.98Z" fill="#0d3f75"/>
<path d="M275.43,173.43A125.98,125.98 0 0 1 274.51,177.56L256.64,173.28A107.6,107.6 0 0 0 257.42,169.75Z" fill="#2a7abb"/>
<path d="M276.69,173.81A127.29,127.29 0 0 1 276.15,176.31L256.94,171.96A107.6,107.6 0 0 0 257.4,169.85Z" fill="#2675b5"/>
<path d="M279.3,177.28A130.58,130.58 0 0 1 279.02,178.47L256.67,173.14A107.6,107.6 0 0 0 256.9,172.17Z" fill="#0d3f75"/>
<path d="M274.95,177.6A126.42,126.42 0 0 1 273.89,181.71L255.75,176.72A107.6,107.6 0 0 0 256.65,173.22Z" fill="#0d3f75"/>
<path d="M276.2,178.03A127.73,127.73 0 0 1 275.66,180.19L256.17,175.15A107.6,107.6 0 0 0 256.63,173.33Z" fill="#2a7abb"/>
<path d="M278.28,181.14A130.51,130.51 0 0 1 277.92,182.51L255.82,176.49A107.6,107.6 0 0 0 256.12,175.36Z" fill="#0d3f75"/>
<path d="M272.27,181.2A124.72,124.72 0 0 1 271.81,182.85L255.36,178.09A107.6,107.6 0 0 0 255.77,176.67Z" fill="#2472b3"/>
<path d="M273.53,181.59A126.03,126.03 0 0 1 273.3,182.41L255.56,177.41A107.6,107.6 0 0 0 255.75,176.71Z" fill="#2a7abb"/>
<path d="M275.65,183.18A128.5,128.5 0 0 1 275.51,183.65L255.42,177.88A107.6,107.6 0 0 0 255.54,177.49Z" fill="#174a82"/>
<path d="M278.6,191.79A133.9,133.9 0 0 1 210.7,268.55L199.17,244.91A107.6,107.6 0 0 0 253.74,183.23Z" fill="#c6e9b2"/>
<path d="M270.08,188.86A124.89,124.89 0 0 1 269.24,191.22L253.01,185.27A107.6,107.6 0 0 0 253.74,183.23Z" fill="#d8efa3"/>
<path d="M269.82,191.36A125.47,125.47 0 0 1 268.69,194.32L252.07,187.75A107.6,107.6 0 0 0 253.03,185.21Z" fill="#d8efa3"/>
<path d="M269.23,194.46A126.03,126.03 0 0 1 267.7,198.19L250.78,190.88A107.6,107.6 0 0 0 252.09,187.7Z" fill="#d8efa3"/>
<path d="M268.68,198.54A127.07,127.07 0 0 1 267.56,201.05L249.85,192.95A107.6,107.6 0 0 0 250.8,190.82Z" fill="#d8efa3"/>
<path d="M266.93,200.69A126.35,126.35 0 0 1 265.5,203.71L248.66,195.47A107.6,107.6 0 0 0 249.87,192.9Z" fill="#d8efa3"/>
<path d="M265.35,203.56A126.15,126.15 0 0 1 263.63,206.95L247.22,198.32A107.6,107.6 0 0 0 248.68,195.42Z" fill="#d8efa3"/>
<path d="M263.88,207.01A126.4,126.4 0 0 1 262.07,210.33L245.7,201.09A107.6,107.6 0 0 0 247.24,198.27Z" fill="#d8efa3"/>
<path d="M261.12,209.72A125.26,125.26 0 0 1 259.21,212.98L244.09,203.85A107.6,107.6 0 0 0 245.73,201.04Z" fill="#d8efa3"/>
<path d="M259.54,213.11A125.61,125.61 0 0 1 258.05,215.52L242.84,205.87A107.6,107.6 0 0 0 244.12,203.8Z" fill="#d8efa3"/>
<path d="M257.09,214.84A124.43,124.43 0 0 1 255.57,217.17L241.56,207.84A107.6,107.6 0 0 0 242.87,205.82Z" fill="#d8efa3"/>
<path d="M255.07,216.76A123.78,123.78 0 0 1 253.52,219.03L240.25,209.77A107.6,107.6 0 0 0 241.59,207.79Z" fill="#d8efa3"/>
<path d="M254.67,219.75A125.14,125.14 0 0 1 253.07,221.98L238.91,211.64A107.6,107.6 0 0 0 240.28,209.72Z" fill="#d8efa3"/>
<path d="M252.2,221.26A124.01,124.01 0 0 1 250.56,223.46L237.52,213.5A107.6,107.6 0 0 0 238.94,211.6Z" fill="#d8efa3"/>
<path d="M251.36,223.99A124.97,124.97 0 0 1 249.44,226.44L235.9,215.56A107.6,107.6 0 0 0 237.55,213.46Z" fill="#d8efa3"/>
<path d="M249.08,226.06A124.44,124.44 0 0 1 247.43,228.07L234.51,217.26A107.6,107.6 0 0 0 235.94,215.52Z" fill="#d8efa3"/>
<path d="M246.9,227.54A123.7,123.7 0 0 1 245.16,229.58L233.04,218.99A107.6,107.6 0 0 0 234.55,217.22Z" fill="#d8efa3"/>
<path d="M246.69,230.83A125.68,125.68 0 0 1 244.82,232.93L231.47,220.74A107.6,107.6 0 0 0 233.07,218.95Z" fill="#d8efa3"/>
<path d="M244.94,232.96A125.79,125.79 0 0 1 242.16,235.91L229.13,223.23A107.6,107.6 0 0 0 231.51,220.7Z" fill="#d8efa3"/>
<path d="M241.76,235.42A125.16,125.16 0 0 1 239.92,237.28L227.58,224.79A107.6,107.6 0 0 0 229.17,223.19Z" fill="#d8efa3"/>
<path d="M240.52,237.8A125.95,125.95 0 0 1 238.8,239.46L226.15,226.17A107.6,107.6 0 0 0 227.62,224.75Z" fill="#d8efa3"/>
<path d="M239.27,239.86A126.56,126.56 0 0 1 237.24,241.76L224.47,227.74A107.6,107.6 0 0 0 226.19,226.13Z" fill="#d8efa3"/>
<path d="M237.11,241.51A126.29,126.29 0 0 1 235.05,243.35L222.76,229.26A107.6,107.6 0 0 0 224.51,227.7Z" fill="#d8efa3"/>
<path d="M235.17,243.39A126.4,126.4 0 0 1 232.64,245.54L220.65,231.06A107.6,107.6 0 0 0 222.8,229.23Z" fill="#d8efa3"/>
<path d="M232.38,245.11A125.91,125.91 0 0 1 229.62,247.34L218.33,232.92A107.6,107.6 0 0 0 220.69,231.02Z" fill="#d8efa3"/>
<path d="M229.22,246.73A125.18,125.18 0 0 1 227.28,248.22L216.71,234.17A107.6,107.6 0 0 0 218.37,232.89Z" fill="#d8efa3"/>
<path d="M228.08,249.17A126.43,126.43 0 0 1 225.5,251.06L214.56,235.75A107.6,107.6 0 0 0 216.75,234.14Z" fill="#d8efa3"/>
<path d="M225.67,251.18A126.62,126.62 0 0 1 223.75,252.53L212.97,236.86A107.6,107.6 0 0 0 214.6,235.71Z" fill="#d8efa3"/>
<path d="M223.98,252.76A126.94,126.94 0 0 1 222.08,254.04L211.41,237.91A107.6,107.6 0 0 0 213.02,236.83Z" fill="#d8efa3"/>
<path d="M221.59,253.18A125.95,125.95 0 0 1 218.22,255.34L208.57,239.73A107.6,107.6 0 0 0 211.45,237.88Z" fill="#d8efa3"/>
<path d="M218.8,256.16A126.96,126.96 0 0 1 216.45,257.58L206.63,240.9A107.6,107.6 0 0 0 208.62,239.7Z" fill="#d8efa3"/>
<path d="M215.95,256.59A125.85,125.85 0 0 1 213.22,258.16L204.34,242.21A107.6,107.6 0 0 0 206.67,240.87Z" fill="#d8efa3"/>
<path d="M213.61,258.73A126.54,126.54 0 0 1 210.96,260.17L202.13,243.41A107.6,107.6 0 0 0 204.39,242.19Z" fill="#d8efa3"/>
<path d="M210.85,259.82A126.18,126.18 0 0 1 207.25,261.64L199.12,244.93A107.6,107.6 0 0 0 202.18,243.38Z" fill="#d8efa3"/>
<path d="M262.67,186.31A117.04,117.04 0 0 1 261.88,188.52L253.01,185.27A107.6,107.6 0 0 0 253.74,183.23Z" fill="#a3cdea"/>
<path d="M262.47,188.67A117.65,117.65 0 0 1 261.41,191.44L252.07,187.75A107.6,107.6 0 0 0 253.03,185.21Z" fill="#a3cdea"/>
<path d="M263.78,192.31A120.16,120.16 0 0 1 262.31,195.86L250.78,190.88A107.6,107.6 0 0 0 252.09,187.7Z" fill="#a3cdea"/>
<path d="M259.42,194.54A116.99,116.99 0 0 1 258.39,196.86L249.85,192.95A107.6,107.6 0 0 0 250.8,190.82Z" fill="#a3cdea"/>
<path d="M259.85,197.46A118.57,118.57 0 0 1 258.51,200.29L248.66,195.47A107.6,107.6 0 0 0 249.87,192.9Z" fill="#a3cdea"/>
<path d="M258.69,200.31A118.74,118.74 0 0 1 257.07,203.5L247.22,198.32A107.6,107.6 0 0 0 248.68,195.42Z" fill="#a3cdea"/>
<path d="M257.06,203.42A118.69,118.69 0 0 1 255.36,206.54L245.7,201.09A107.6,107.6 0 0 0 247.24,198.27Z" fill="#a3cdea"/>
<path d="M256.82,207.3A120.33,120.33 0 0 1 254.99,210.44L244.09,203.85A107.6,107.6 0 0 0 245.73,201.04Z" fill="#a3cdea"/>
<path d="M256.86,211.49A122.49,122.49 0 0 1 255.41,213.85L242.84,205.87A107.6,107.6 0 0 0 244.12,203.8Z" fill="#a3cdea"/>
<path d="M253.32,212.45A119.97,119.97 0 0 1 251.86,214.7L241.56,207.84A107.6,107.6 0 0 0 242.87,205.82Z" fill="#a3cdea"/>
<path d="M251.65,214.48A119.68,119.68 0 0 1 250.15,216.68L240.25,209.77A107.6,107.6 0 0 0 241.59,207.79Z" fill="#a3cdea"/>
<path d="M252.85,218.48A122.93,122.93 0 0 1 251.28,220.68L238.91,211.64A107.6,107.6 0 0 0 240.28,209.72Z" fill="#a3cdea"/>
<path d="M249.97,219.64A121.25,121.25 0 0 1 248.37,221.79L237.52,213.5A107.6,107.6 0 0 0 238.94,211.6Z" fill="#a3cdea"/>
<path d="M249.99,222.94A123.24,123.24 0 0 1 248.1,225.36L235.9,215.56A107.6,107.6 0 0 0 237.55,213.46Z" fill="#a3cdea"/>
<path d="M247.42,224.72A122.31,122.31 0 0 1 245.8,226.7L234.51,217.26A107.6,107.6 0 0 0 235.94,215.52Z" fill="#a3cdea"/>
<path d="M246.09,226.87A122.64,122.64 0 0 1 244.37,228.89L233.04,218.99A107.6,107.6 0 0 0 234.55,217.22Z" fill="#a3cdea"/>
<path d="M242.29,226.99A119.84,119.84 0 0 1 240.5,228.99L231.47,220.74A107.6,107.6 0 0 0 233.07,218.95Z" fill="#a3cdea"/>
<path d="M240.28,228.71A119.48,119.48 0 0 1 237.64,231.51L229.13,223.23A107.6,107.6 0 0 0 231.51,220.7Z" fill="#a3cdea"/>
<path d="M239.06,232.8A121.4,121.4 0 0 1 237.27,234.61L227.58,224.79A107.6,107.6 0 0 0 229.17,223.19Z" fill="#a3cdea"/>
<path d="M236.31,233.54A119.97,119.97 0 0 1 234.68,235.13L226.15,226.17A107.6,107.6 0 0 0 227.62,224.75Z" fill="#a3cdea"/>
<path d="M234.66,235.02A119.88,119.88 0 0 1 232.74,236.81L224.47,227.74A107.6,107.6 0 0 0 226.19,226.13Z" fill="#a3cdea"/>
<path d="M231.28,235.13A117.65,117.65 0 0 1 229.36,236.84L222.76,229.26A107.6,107.6 0 0 0 224.51,227.7Z" fill="#a3cdea"/>
<path d="M231.41,239.08A120.68,120.68 0 0 1 228.99,241.13L220.65,231.06A107.6,107.6 0 0 0 222.8,229.23Z" fill="#a3cdea"/>
<path d="M227.67,239.44A118.53,118.53 0 0 1 225.07,241.53L218.33,232.92A107.6,107.6 0 0 0 220.69,231.02Z" fill="#a3cdea"/>
<path d="M226.74,243.57A121.17,121.17 0 0 1 224.87,245.01L216.71,234.17A107.6,107.6 0 0 0 218.37,232.89Z" fill="#a3cdea"/>
<path d="M224.15,243.96A119.9,119.9 0 0 1 221.71,245.75L214.56,235.75A107.6,107.6 0 0 0 216.75,234.14Z" fill="#a3cdea"/>
<path d="M220.26,243.62A117.32,117.32 0 0 1 218.48,244.87L212.97,236.86A107.6,107.6 0 0 0 214.6,235.71Z" fill="#a3cdea"/>
<path d="M220.08,247.08A120.05,120.05 0 0 1 218.28,248.3L211.41,237.91A107.6,107.6 0 0 0 213.02,236.83Z" fill="#a3cdea"/>
<path d="M217.39,246.83A118.34,118.34 0 0 1 214.21,248.86L208.57,239.73A107.6,107.6 0 0 0 211.45,237.88Z" fill="#a3cdea"/>
<path d="M214.66,249.46A119.08,119.08 0 0 1 212.45,250.79L206.63,240.9A107.6,107.6 0 0 0 208.62,239.7Z" fill="#a3cdea"/>
<path d="M212.32,250.45A118.72,118.72 0 0 1 209.75,251.92L204.34,242.21A107.6,107.6 0 0 0 206.67,240.87Z" fill="#a3cdea"/>
<path d="M209.48,251.32A118.06,118.06 0 0 1 207,252.66L202.13,243.41A107.6,107.6 0 0 0 204.39,242.19Z" fill="#a3cdea"/>
<path d="M207.63,253.71A119.27,119.27 0 0 1 204.23,255.43L199.12,244.93A107.6,107.6 0 0 0 202.18,243.38Z" fill="#a3cdea"/>
<path d="M271.93,189.49A126.84,126.84 0 0 1 271.08,191.89L253.01,185.27A107.6,107.6 0 0 0 253.74,183.23Z" fill="#2a7abb"/>
<path d="M273.15,189.99A128.15,128.15 0 0 1 272.65,191.42L253.3,184.49A107.6,107.6 0 0 0 253.72,183.29Z" fill="#216eb0"/>
<path d="M272.74,191.61A128.31,128.31 0 0 1 272.51,192.24L253.06,185.13A107.6,107.6 0 0 0 253.25,184.61Z" fill="#123f70"/>
<path d="M264.68,189.48A120,120 0 0 1 263.6,192.31L252.07,187.75A107.6,107.6 0 0 0 253.03,185.21Z" fill="#216eb0"/>
<path d="M271.86,192.21A127.68,127.68 0 0 1 271.27,193.77L252.51,186.6A107.6,107.6 0 0 0 253.01,185.29Z" fill="#2472b3"/>
<path d="M265.26,191.67A121.32,121.32 0 0 1 264.95,192.46L252.18,187.46A107.6,107.6 0 0 0 252.46,186.75Z" fill="#0f447c"/>
<path d="M263.41,192.16A119.77,119.77 0 0 1 261.95,195.7L250.78,190.88A107.6,107.6 0 0 0 252.09,187.7Z" fill="#2472b3"/>
<path d="M264.59,192.75A121.08,121.08 0 0 1 263.84,194.6L251.39,189.43A107.6,107.6 0 0 0 252.05,187.79Z" fill="#216eb0"/>
<path d="M270.25,197.52A128.12,128.12 0 0 1 269.82,198.52L250.95,190.46A107.6,107.6 0 0 0 251.31,189.62Z" fill="#123f70"/>
<path d="M267.09,197.85A125.34,125.34 0 0 1 265.99,200.33L249.85,192.95A107.6,107.6 0 0 0 250.8,190.82Z" fill="#0f447c"/>
<path d="M270.34,199.35A128.92,128.92 0 0 1 269.82,200.53L250.34,191.88A107.6,107.6 0 0 0 250.77,190.89Z" fill="#2675b5"/>
<path d="M267.69,199.76A126.66,126.66 0 0 1 267.39,200.42L250.03,192.56A107.6,107.6 0 0 0 250.28,192Z" fill="#174a82"/>
<path d="M261.27,198.11A120.13,120.13 0 0 1 259.92,200.98L248.66,195.47A107.6,107.6 0 0 0 249.87,192.9Z" fill="#216eb0"/>
<path d="M262.43,198.74A121.45,121.45 0 0 1 261.59,200.54L249.09,194.57A107.6,107.6 0 0 0 249.84,192.98Z" fill="#2675b5"/>
<path d="M269.99,204.78A130.85,130.85 0 0 1 269.6,205.57L248.71,195.37A107.6,107.6 0 0 0 249.02,194.72Z" fill="#0d3f75"/>
<path d="M257.83,196.88A116.49,116.49 0 0 1 257.66,197.24L249.6,193.5A107.6,107.6 0 0 0 249.76,193.16Z" fill="#93c2e3"/>
<path d="M264.65,203.22A125.37,125.37 0 0 1 262.94,206.59L247.22,198.32A107.6,107.6 0 0 0 248.68,195.42Z" fill="#2472b3"/>
<path d="M265.78,203.9A126.69,126.69 0 0 1 264.84,205.8L247.84,197.12A107.6,107.6 0 0 0 248.64,195.51Z" fill="#2675b5"/>
<path d="M268.65,208A131.08,131.08 0 0 1 268.14,208.97L247.34,198.08A107.6,107.6 0 0 0 247.75,197.29Z" fill="#123f70"/>
<path d="M260.62,205.3A122.71,122.71 0 0 1 258.86,208.52L245.7,201.09A107.6,107.6 0 0 0 247.24,198.27Z" fill="#2675b5"/>
<path d="M266.65,208.6A129.59,129.59 0 0 1 265.69,210.39L246.4,199.84A107.6,107.6 0 0 0 247.2,198.35Z" fill="#2a7abb"/>
<path d="M260.7,207.92A124.02,124.02 0 0 1 260.25,208.73L245.91,200.72A107.6,107.6 0 0 0 246.31,200.01Z" fill="#0d3f75"/>
<path d="M259.27,208.67A123.14,123.14 0 0 1 257.39,211.89L244.09,203.85A107.6,107.6 0 0 0 245.73,201.04Z" fill="#2675b5"/>
<path d="M260.36,209.42A124.45,124.45 0 0 1 259.25,211.33L244.73,202.78A107.6,107.6 0 0 0 245.68,201.13Z" fill="#2a7abb"/>
<path d="M266.06,215.61A132.49,132.49 0 0 1 265.56,216.45L244.22,203.63A107.6,107.6 0 0 0 244.63,202.94Z" fill="#0f447c"/>
<path d="M251.23,208.19A115.96,115.96 0 0 1 250.42,209.52L243.32,205.1A107.6,107.6 0 0 0 244.08,203.86Z" fill="#2a7abb"/>
<path d="M250.13,209.52A115.71,115.71 0 0 1 249.75,210.12L242.9,205.78A107.6,107.6 0 0 0 243.25,205.22Z" fill="#0d3f75"/>
<path d="M251.19,211.19A117.5,117.5 0 0 1 250.52,212.23L242.22,206.83A107.6,107.6 0 0 0 242.83,205.88Z" fill="#216eb0"/>
<path d="M255.98,215.96A124.11,124.11 0 0 1 255.53,216.64L241.76,207.54A107.6,107.6 0 0 0 242.15,206.95Z" fill="#174a82"/>
<path d="M251.49,214.47A119.55,119.55 0 0 1 250.66,215.71L240.8,208.97A107.6,107.6 0 0 0 241.55,207.85Z" fill="#2a7abb"/>
<path d="M253.33,217.74A122.9,122.9 0 0 1 252.93,218.32L240.37,209.59A107.6,107.6 0 0 0 240.72,209.08Z" fill="#0d3f75"/>
<path d="M246.67,214.27A115.45,115.45 0 0 1 245.99,215.23L239.6,210.68A107.6,107.6 0 0 0 240.24,209.78Z" fill="#2472b3"/>
<path d="M250,218.28A120.47,120.47 0 0 1 249.57,218.87L239.15,211.32A107.6,107.6 0 0 0 239.52,210.79Z" fill="#0f447c"/>
<path d="M247.22,220.94A119.82,119.82 0 0 1 246.33,222.09L236.71,214.55A107.6,107.6 0 0 0 237.51,213.52Z" fill="#2472b3"/>
<path d="M250.26,225.4A124.96,124.96 0 0 1 249.8,225.97L236.22,215.17A107.6,107.6 0 0 0 236.61,214.68Z" fill="#0f447c"/>
<path d="M242.96,227.58A120.72,120.72 0 0 1 241.16,229.59L231.47,220.74A107.6,107.6 0 0 0 233.07,218.95Z" fill="#2675b5"/>
<path d="M246.71,230.96A125.78,125.78 0 0 1 245.72,232.08L232.18,219.96A107.6,107.6 0 0 0 233.03,219Z" fill="#2a7abb"/>
<path d="M242.83,229.71A122.04,122.04 0 0 1 242.25,230.34L231.58,220.63A107.6,107.6 0 0 0 232.08,220.06Z" fill="#0f447c"/>
<path d="M246.06,233.98A127.3,127.3 0 0 1 243.25,236.96L229.13,223.23A107.6,107.6 0 0 0 231.51,220.7Z" fill="#2472b3"/>
<path d="M246.95,234.95A128.62,128.62 0 0 1 245.5,236.52L230.22,222.09A107.6,107.6 0 0 0 231.44,220.78Z" fill="#2472b3"/>
<path d="M245.97,237.3A129.5,129.5 0 0 1 245,238.31L229.28,223.07A107.6,107.6 0 0 0 230.08,222.24Z" fill="#174a82"/>
<path d="M238.51,232.27A120.63,120.63 0 0 1 236.73,234.06L227.58,224.79A107.6,107.6 0 0 0 229.17,223.19Z" fill="#2472b3"/>
<path d="M239.4,233.24A121.95,121.95 0 0 1 238.47,234.19L228.29,224.08A107.6,107.6 0 0 0 229.12,223.23Z" fill="#2a7abb"/>
<path d="M241.44,237.36A126.29,126.29 0 0 1 240.86,237.94L227.71,224.66A107.6,107.6 0 0 0 228.2,224.17Z" fill="#174a82"/>
<path d="M234.11,229.83A115.78,115.78 0 0 1 233.82,230.12L228.04,224.33A107.6,107.6 0 0 0 228.31,224.06Z" fill="#93c2e3"/>
<path d="M238.02,235.27A122.39,122.39 0 0 1 236.35,236.89L226.15,226.17A107.6,107.6 0 0 0 227.62,224.75Z" fill="#2472b3"/>
<path d="M238.89,236.25A123.71,123.71 0 0 1 238.05,237.08L226.84,225.51A107.6,107.6 0 0 0 227.58,224.79Z" fill="#2472b3"/>
<path d="M239.77,239.06A126.33,126.33 0 0 1 239.35,239.47L226.4,225.94A107.6,107.6 0 0 0 226.76,225.59Z" fill="#123f70"/>
<path d="M235.53,235.93A121.14,121.14 0 0 1 233.58,237.75L224.47,227.74A107.6,107.6 0 0 0 226.19,226.13Z" fill="#216eb0"/>
<path d="M236.38,236.94A122.45,122.45 0 0 1 235.26,237.99L225.16,227.1A107.6,107.6 0 0 0 226.14,226.18Z" fill="#2a7abb"/>
<path d="M239.96,243.31A129.55,129.55 0 0 1 239.34,243.88L224.54,227.67A107.6,107.6 0 0 0 225.06,227.19Z" fill="#123f70"/>
<path d="M234.46,238.61A122.37,122.37 0 0 1 232.47,240.39L222.76,229.26A107.6,107.6 0 0 0 224.51,227.7Z" fill="#2675b5"/>
<path d="M238.9,243.6A129.04,129.04 0 0 1 237.91,244.49L223.63,228.49A107.6,107.6 0 0 0 224.46,227.75Z" fill="#2472b3"/>
<path d="M234.22,240.6A123.69,123.69 0 0 1 233.72,241.05L223.09,228.97A107.6,107.6 0 0 0 223.53,228.58Z" fill="#0f447c"/>
<path d="M235.01,243.2A126.16,126.16 0 0 1 232.49,245.35L220.65,231.06A107.6,107.6 0 0 0 222.8,229.23Z" fill="#2675b5"/>
<path d="M235.8,244.26A127.47,127.47 0 0 1 234.21,245.62L221.39,230.44A107.6,107.6 0 0 0 222.74,229.28Z" fill="#216eb0"/>
<path d="M234.22,245.95A127.73,127.73 0 0 1 233.59,246.47L220.73,230.99A107.6,107.6 0 0 0 221.26,230.54Z" fill="#174a82"/>
<path d="M228.42,240.34A119.7,119.7 0 0 1 225.79,242.45L218.33,232.92A107.6,107.6 0 0 0 220.69,231.02Z" fill="#2675b5"/>
<path d="M231.55,244.28A124.73,124.73 0 0 1 230.11,245.45L219.38,232.09A107.6,107.6 0 0 0 220.62,231.08Z" fill="#2a7abb"/>
<path d="M227.63,242.68A121.02,121.02 0 0 1 226.87,243.28L218.57,232.73A107.6,107.6 0 0 0 219.24,232.2Z" fill="#0d3f75"/>
<path d="M229.32,246.86A125.35,125.35 0 0 1 227.38,248.35L216.71,234.17A107.6,107.6 0 0 0 218.37,232.89Z" fill="#2a7abb"/>
<path d="M230.08,247.94A126.67,126.67 0 0 1 228.85,248.89L217.29,233.73A107.6,107.6 0 0 0 218.33,232.93Z" fill="#2675b5"/>
<path d="M231.89,253.12A131.87,131.87 0 0 1 231.4,253.49L216.78,234.11A107.6,107.6 0 0 0 217.19,233.81Z" fill="#123f70"/>
<path d="M223.69,243.35A119.14,119.14 0 0 1 221.27,245.13L214.56,235.75A107.6,107.6 0 0 0 216.75,234.14Z" fill="#2a7abb"/>
<path d="M224.41,244.46A120.46,120.46 0 0 1 223.02,245.49L215.44,235.11A107.6,107.6 0 0 0 216.69,234.19Z" fill="#2472b3"/>
<path d="M229.1,254.15A131.04,131.04 0 0 1 228.32,254.72L214.67,235.66A107.6,107.6 0 0 0 215.31,235.2Z" fill="#0f447c"/>
<path d="M225.79,251.35A126.83,126.83 0 0 1 223.87,252.7L212.97,236.86A107.6,107.6 0 0 0 214.6,235.71Z" fill="#2472b3"/>
<path d="M226.5,252.46A128.14,128.14 0 0 1 225.58,253.12L213.78,236.3A107.6,107.6 0 0 0 214.56,235.75Z" fill="#2675b5"/>
<path d="M227.81,256.54A132.23,132.23 0 0 1 227.27,256.92L213.25,236.67A107.6,107.6 0 0 0 213.69,236.36Z" fill="#0f447c"/>
<path d="M220.55,247.77A120.89,120.89 0 0 1 218.74,248.99L211.41,237.91A107.6,107.6 0 0 0 213.02,236.83Z" fill="#2472b3"/>
<path d="M221.24,248.89A122.2,122.2 0 0 1 220.4,249.47L212.23,237.37A107.6,107.6 0 0 0 212.97,236.86Z" fill="#2472b3"/>
<path d="M221.72,251.66A124.76,124.76 0 0 1 221.16,252.04L211.65,237.75A107.6,107.6 0 0 0 212.13,237.43Z" fill="#0d3f75"/>
<path d="M217.49,245.18A117.02,117.02 0 0 1 217.15,245.41L211.9,237.58A107.6,107.6 0 0 0 212.22,237.37Z" fill="#93c2e3"/>
<path d="M218.92,249.14A121.11,121.11 0 0 1 215.67,251.22L208.57,239.73A107.6,107.6 0 0 0 211.45,237.88Z" fill="#0d3f75"/>
<path d="M222.8,255.22A128.32,128.32 0 0 1 220.67,256.59L209.59,239.09A107.6,107.6 0 0 0 211.37,237.94Z" fill="#2472b3"/>
<path d="M217.32,251.74A122.42,122.42 0 0 1 216.48,252.26L208.67,239.67A107.6,107.6 0 0 0 209.41,239.2Z" fill="#174a82"/>
<path d="M215.18,245.1A115.67,115.67 0 0 1 214.84,245.32L210.45,238.54A107.6,107.6 0 0 0 210.77,238.33Z" fill="#93c2e3"/>
<path d="M217.46,254A124.42,124.42 0 0 1 215.16,255.39L206.63,240.9A107.6,107.6 0 0 0 208.62,239.7Z" fill="#2472b3"/>
<path d="M218.09,255.16A125.73,125.73 0 0 1 216.64,256.04L207.32,240.49A107.6,107.6 0 0 0 208.56,239.74Z" fill="#2472b3"/>
<path d="M218.47,259.43A129.58,129.58 0 0 1 217.89,259.77L206.71,240.85A107.6,107.6 0 0 0 207.2,240.56Z" fill="#123f70"/>
<path d="M213.68,252.76A121.4,121.4 0 0 1 211.05,254.27L204.34,242.21A107.6,107.6 0 0 0 206.67,240.87Z" fill="#2675b5"/>
<path d="M214.28,253.94A122.71,122.71 0 0 1 213.01,254.67L205.49,241.56A107.6,107.6 0 0 0 206.61,240.91Z" fill="#2675b5"/>
<path d="M216.27,260.75A129.6,129.6 0 0 1 215.53,261.17L204.74,241.99A107.6,107.6 0 0 0 205.36,241.64Z" fill="#123f70"/>
<path d="M210.11,252.44A119.34,119.34 0 0 1 207.6,253.8L202.13,243.41A107.6,107.6 0 0 0 204.39,242.19Z" fill="#2472b3"/>
<path d="M210.67,253.63A120.66,120.66 0 0 1 209.36,254.35L203.15,242.87A107.6,107.6 0 0 0 204.32,242.22Z" fill="#216eb0"/>
<path d="M212.26,260.11A127.1,127.1 0 0 1 211.62,260.45L202.47,243.23A107.6,107.6 0 0 0 203.02,242.94Z" fill="#123f70"/>
<path d="M211.19,260.47A126.92,126.92 0 0 1 207.58,262.31L199.12,244.93A107.6,107.6 0 0 0 202.18,243.38Z" fill="#0d3f75"/>
<path d="M211.7,261.69A128.24,128.24 0 0 1 209.69,262.73L200.41,244.3A107.6,107.6 0 0 0 202.09,243.43Z" fill="#216eb0"/>
<path d="M210.52,264.92A130.57,130.57 0 0 1 209.41,265.47L199.31,244.84A107.6,107.6 0 0 0 200.23,244.39Z" fill="#0d3f75"/>
<path d="M203.78,271.68A133.9,133.9 0 0 1 121.42,278.56L127.43,252.96A107.6,107.6 0 0 0 193.61,247.43Z" fill="#c6e9b2"/>
<path d="M200.43,263.69A125.23,125.23 0 0 1 198.29,264.56L191.77,248.18A107.6,107.6 0 0 0 193.61,247.43Z" fill="#d8efa3"/>
<path d="M198.1,263.9A124.55,124.55 0 0 1 195.06,265.07L189.2,249.17A107.6,107.6 0 0 0 191.82,248.16Z" fill="#d8efa3"/>
<path d="M195.32,265.59A125.13,125.13 0 0 1 193.02,266.41L187.27,249.85A107.6,107.6 0 0 0 189.25,249.15Z" fill="#d8efa3"/>
<path d="M192.75,265.42A124.1,124.1 0 0 1 189.76,266.42L184.74,250.7A107.6,107.6 0 0 0 187.33,249.84Z" fill="#d8efa3"/>
<path d="M190,266.94A124.68,124.68 0 0 1 187.77,267.64L182.87,251.28A107.6,107.6 0 0 0 184.79,250.68Z" fill="#d8efa3"/>
<path d="M187.76,267.38A124.43,124.43 0 0 1 184.54,268.29L180.14,252.05A107.6,107.6 0 0 0 182.92,251.26Z" fill="#d8efa3"/>
<path d="M184.44,267.67A123.8,123.8 0 0 1 180.94,268.57L177.15,252.82A107.6,107.6 0 0 0 180.2,252.04Z" fill="#d8efa3"/>
<path d="M180.94,268.27A123.51,123.51 0 0 1 177.2,269.11L173.96,253.54A107.6,107.6 0 0 0 177.21,252.81Z" fill="#d8efa3"/>
<path d="M177.34,269.44A123.86,123.86 0 0 1 174.05,270.08L171.16,254.08A107.6,107.6 0 0 0 174.01,253.52Z" fill="#d8efa3"/>
<path d="M174.16,270.3A124.09,124.09 0 0 1 171.41,270.76L168.83,254.48A107.6,107.6 0 0 0 171.21,254.07Z" fill="#d8efa3"/>
<path d="M171.55,271.27A124.61,124.61 0 0 1 168.49,271.71L166.24,254.85A107.6,107.6 0 0 0 168.88,254.47Z" fill="#d8efa3"/>
<path d="M168.7,272.78A125.69,125.69 0 0 1 165.43,273.17L163.5,255.18A107.6,107.6 0 0 0 166.3,254.85Z" fill="#d8efa3"/>
<path d="M165.4,272.26A124.78,124.78 0 0 1 162.6,272.53L161.14,255.41A107.6,107.6 0 0 0 163.55,255.18Z" fill="#d8efa3"/>
<path d="M162.74,273.29A125.55,125.55 0 0 1 159.01,273.55L158.01,255.63A107.6,107.6 0 0 0 161.2,255.41Z" fill="#d8efa3"/>
<path d="M159.11,274.13A126.13,126.13 0 0 1 156.73,274.24L156.04,255.72A107.6,107.6 0 0 0 158.06,255.63Z" fill="#d8efa3"/>
<path d="M156.75,272.98A124.87,124.87 0 0 1 153.83,273.06L153.57,255.79A107.6,107.6 0 0 0 156.1,255.72Z" fill="#d8efa3"/>
<path d="M153.9,273.32A125.14,125.14 0 0 1 151.46,273.34L151.53,255.8A107.6,107.6 0 0 0 153.63,255.79Z" fill="#d8efa3"/>
<path d="M151.53,272.44A124.25,124.25 0 0 1 147.94,272.38L148.48,255.74A107.6,107.6 0 0 0 151.59,255.8Z" fill="#d8efa3"/>
<path d="M148.01,272.06A123.93,123.93 0 0 1 144.18,271.88L145.21,255.59A107.6,107.6 0 0 0 148.54,255.74Z" fill="#d8efa3"/>
<path d="M144.29,271.26A123.3,123.3 0 0 1 140.21,270.94L141.71,255.31A107.6,107.6 0 0 0 145.27,255.59Z" fill="#d8efa3"/>
<path d="M140.24,271.28A123.64,123.64 0 0 1 136.89,270.91L138.85,254.99A107.6,107.6 0 0 0 141.77,255.31Z" fill="#d8efa3"/>
<path d="M136.96,270.85A123.57,123.57 0 0 1 132.92,270.29L135.39,254.51A107.6,107.6 0 0 0 138.91,255Z" fill="#d8efa3"/>
<path d="M132.91,270.77A124.04,124.04 0 0 1 129.72,270.23L132.68,254.05A107.6,107.6 0 0 0 135.44,254.52Z" fill="#d8efa3"/>
<path d="M129.79,270.23A124.04,124.04 0 0 1 126.5,269.59L129.88,253.5A107.6,107.6 0 0 0 132.73,254.06Z" fill="#d8efa3"/>
<path d="M126.31,270.81A125.28,125.28 0 0 1 123.33,270.15L127.37,252.94A107.6,107.6 0 0 0 129.93,253.51Z" fill="#d8efa3"/>
<path d="M198.89,260.01A121.25,121.25 0 0 1 196.81,260.86L191.77,248.18A107.6,107.6 0 0 0 193.61,247.43Z" fill="#a3cdea"/>
<path d="M196.97,261.07A121.5,121.5 0 0 1 194,262.21L189.2,249.17A107.6,107.6 0 0 0 191.82,248.16Z" fill="#a3cdea"/>
<path d="M193.9,261.74A121.03,121.03 0 0 1 191.68,262.54L187.27,249.85A107.6,107.6 0 0 0 189.25,249.15Z" fill="#a3cdea"/>
<path d="M191.01,260.44A118.83,118.83 0 0 1 188.16,261.4L184.74,250.7A107.6,107.6 0 0 0 187.33,249.84Z" fill="#a3cdea"/>
<path d="M188.18,261.27A118.72,118.72 0 0 1 186.06,261.93L182.87,251.28A107.6,107.6 0 0 0 184.79,250.68Z" fill="#a3cdea"/>
<path d="M186.77,264.08A120.99,120.99 0 0 1 183.64,264.97L180.14,252.05A107.6,107.6 0 0 0 182.92,251.26Z" fill="#a3cdea"/>
<path d="M183.64,264.72A120.74,120.74 0 0 1 180.23,265.6L177.15,252.82A107.6,107.6 0 0 0 180.2,252.04Z" fill="#a3cdea"/>
<path d="M180.44,266.2A121.38,121.38 0 0 1 176.77,267.03L173.96,253.54A107.6,107.6 0 0 0 177.21,252.81Z" fill="#a3cdea"/>
<path d="M176.65,266.17A120.52,120.52 0 0 1 173.46,266.8L171.16,254.08A107.6,107.6 0 0 0 174.01,253.52Z" fill="#a3cdea"/>
<path d="M173.92,268.96A122.73,122.73 0 0 1 171.2,269.42L168.83,254.48A107.6,107.6 0 0 0 171.21,254.07Z" fill="#a3cdea"/>
<path d="M170.38,263.89A117.14,117.14 0 0 1 167.5,264.31L166.24,254.85A107.6,107.6 0 0 0 168.88,254.47Z" fill="#a3cdea"/>
<path d="M167.45,263.44A116.27,116.27 0 0 1 164.43,263.8L163.5,255.18A107.6,107.6 0 0 0 166.3,254.85Z" fill="#a3cdea"/>
<path d="M164.55,264.42A116.9,116.9 0 0 1 161.93,264.68L161.14,255.41A107.6,107.6 0 0 0 163.55,255.18Z" fill="#a3cdea"/>
<path d="M162.06,265.46A117.69,117.69 0 0 1 158.57,265.7L158.01,255.63A107.6,107.6 0 0 0 161.2,255.41Z" fill="#a3cdea"/>
<path d="M158.59,264.91A116.89,116.89 0 0 1 156.39,265.01L156.04,255.72A107.6,107.6 0 0 0 158.06,255.63Z" fill="#a3cdea"/>
<path d="M156.55,267.64A119.53,119.53 0 0 1 153.75,267.71L153.57,255.79A107.6,107.6 0 0 0 156.1,255.72Z" fill="#a3cdea"/>
<path d="M153.8,266.77A118.58,118.58 0 0 1 151.49,266.78L151.53,255.8A107.6,107.6 0 0 0 153.63,255.79Z" fill="#a3cdea"/>
<path d="M151.56,264.28A116.08,116.08 0 0 1 148.2,264.22L148.48,255.74A107.6,107.6 0 0 0 151.59,255.8Z" fill="#a3cdea"/>
<path d="M148.22,265.52A117.38,117.38 0 0 1 144.6,265.35L145.21,255.59A107.6,107.6 0 0 0 148.54,255.74Z" fill="#a3cdea"/>
<path d="M144.52,267.52A119.55,119.55 0 0 1 140.57,267.21L141.71,255.31A107.6,107.6 0 0 0 145.27,255.59Z" fill="#a3cdea"/>
<path d="M141.01,263.22A115.54,115.54 0 0 1 137.88,262.87L138.85,254.99A107.6,107.6 0 0 0 141.77,255.31Z" fill="#a3cdea"/>
<path d="M137.53,266.2A118.88,118.88 0 0 1 133.65,265.66L135.39,254.51A107.6,107.6 0 0 0 138.91,255Z" fill="#a3cdea"/>
<path d="M134.08,263.27A116.46,116.46 0 0 1 131.09,262.77L132.68,254.05A107.6,107.6 0 0 0 135.44,254.52Z" fill="#a3cdea"/>
<path d="M130.69,265.28A119,119 0 0 1 127.53,264.66L129.88,253.5A107.6,107.6 0 0 0 132.73,254.06Z" fill="#a3cdea"/>
<path d="M127.6,264.61A118.94,118.94 0 0 1 124.78,263.98L127.37,252.94A107.6,107.6 0 0 0 129.93,253.51Z" fill="#a3cdea"/>
<path d="M197.48,256.82A117.76,117.76 0 0 1 196.54,257.21L192.7,247.81A107.6,107.6 0 0 0 193.56,247.45Z" fill="#2472b3"/>
<path d="M197.97,261.04A121.85,121.85 0 0 1 197.39,261.28L192.09,248.05A107.6,107.6 0 0 0 192.59,247.85Z" fill="#174a82"/>
<path d="M195.3,257.12A117.21,117.21 0 0 1 193.67,257.76L190.25,248.77A107.6,107.6 0 0 0 191.75,248.19Z" fill="#216eb0"/>
<path d="M195.89,264.13A123.96,123.96 0 0 1 195,264.46L189.33,249.12A107.6,107.6 0 0 0 190.09,248.83Z" fill="#0d3f75"/>
<path d="M193.5,260.85A120.05,120.05 0 0 1 192.4,261.25L188.21,249.52A107.6,107.6 0 0 0 189.19,249.17Z" fill="#2a7abb"/>
<path d="M192.01,260.54A119.25,119.25 0 0 1 191.29,260.79L187.45,249.79A107.6,107.6 0 0 0 188.1,249.56Z" fill="#0f447c"/>
<path d="M190.6,259.51A117.81,117.81 0 0 1 188.8,260.11L185.61,250.42A107.6,107.6 0 0 0 187.25,249.86Z" fill="#2a7abb"/>
<path d="M189.61,263.16A120.95,120.95 0 0 1 188.92,263.38L184.84,250.66A107.6,107.6 0 0 0 185.46,250.47Z" fill="#0f447c"/>
<path d="M184.93,258.28A114.9,114.9 0 0 1 183.5,258.7L181.5,251.68A107.6,107.6 0 0 0 182.84,251.29Z" fill="#2472b3"/>
<path d="M183.61,259.75A115.94,115.94 0 0 1 182.66,260.01L180.46,251.97A107.6,107.6 0 0 0 181.34,251.72Z" fill="#0f447c"/>
<path d="M178.09,256.88A111.77,111.77 0 0 1 176.25,257.31L175.34,253.24A107.6,107.6 0 0 0 177.11,252.83Z" fill="#2675b5"/>
<path d="M177.97,266.07A120.69,120.69 0 0 1 176.81,266.31L174.12,253.5A107.6,107.6 0 0 0 175.15,253.28Z" fill="#0f447c"/>
<path d="M175.73,262.21A116.45,116.45 0 0 1 174.12,262.53L172.44,253.84A107.6,107.6 0 0 0 173.93,253.54Z" fill="#2a7abb"/>
<path d="M173.53,260.44A114.29,114.29 0 0 1 172.68,260.6L171.47,254.02A107.6,107.6 0 0 0 172.27,253.87Z" fill="#123f70"/>
<path d="M171.92,273.56A126.93,126.93 0 0 1 168.8,274.01L166.24,254.85A107.6,107.6 0 0 0 168.88,254.47Z" fill="#0d3f75"/>
<path d="M172.03,274.87A128.24,128.24 0 0 1 170.22,275.14L167.29,254.71A107.6,107.6 0 0 0 168.81,254.48Z" fill="#2a7abb"/>
<path d="M170.65,279.46A132.58,132.58 0 0 1 169.77,279.58L166.42,254.83A107.6,107.6 0 0 0 167.13,254.73Z" fill="#0f447c"/>
<path d="M167.96,267.27A120.13,120.13 0 0 1 164.84,267.64L163.5,255.18A107.6,107.6 0 0 0 166.3,254.85Z" fill="#2a7abb"/>
<path d="M168.04,268.58A121.45,121.45 0 0 1 166.21,268.81L164.59,255.06A107.6,107.6 0 0 0 166.22,254.86Z" fill="#2a7abb"/>
<path d="M166.74,275.04A127.7,127.7 0 0 1 165.78,275.15L163.61,255.17A107.6,107.6 0 0 0 164.42,255.08Z" fill="#174a82"/>
<path d="M165.63,263.48A116.08,116.08 0 0 1 165.23,263.52L164.27,255.1A107.6,107.6 0 0 0 164.64,255.06Z" fill="#93c2e3"/>
<path d="M164.82,266.87A119.36,119.36 0 0 1 162.14,267.13L161.14,255.41A107.6,107.6 0 0 0 163.55,255.18Z" fill="#2675b5"/>
<path d="M164.88,268.19A120.68,120.68 0 0 1 163.33,268.34L162.1,255.32A107.6,107.6 0 0 0 163.48,255.19Z" fill="#216eb0"/>
<path d="M163.3,269.75A122.07,122.07 0 0 1 162.53,269.82L161.28,255.4A107.6,107.6 0 0 0 161.96,255.34Z" fill="#174a82"/>
<path d="M162.78,273.76A126.02,126.02 0 0 1 159.03,274.03L158.01,255.63A107.6,107.6 0 0 0 161.2,255.41Z" fill="#2472b3"/>
<path d="M162.78,275.08A127.34,127.34 0 0 1 160.59,275.25L159.26,255.55A107.6,107.6 0 0 0 161.11,255.41Z" fill="#216eb0"/>
<path d="M160.42,276.07A128.14,128.14 0 0 1 159.47,276.13L158.27,255.62A107.6,107.6 0 0 0 159.07,255.57Z" fill="#123f70"/>
<path d="M158.7,266.96A118.95,118.95 0 0 1 156.46,267.06L156.04,255.72A107.6,107.6 0 0 0 158.06,255.63Z" fill="#2472b3"/>
<path d="M158.81,270.01A122,122 0 0 1 157.72,270.06L157.05,255.68A107.6,107.6 0 0 0 158,255.63Z" fill="#216eb0"/>
<path d="M157.51,268.33A120.26,120.26 0 0 1 156.81,268.36L156.3,255.71A107.6,107.6 0 0 0 156.93,255.69Z" fill="#0f447c"/>
<path d="M156.71,271.75A123.64,123.64 0 0 1 153.81,271.82L153.57,255.79A107.6,107.6 0 0 0 156.1,255.72Z" fill="#216eb0"/>
<path d="M156.67,273.06A124.95,124.95 0 0 1 155,273.11L154.58,255.77A107.6,107.6 0 0 0 156.02,255.72Z" fill="#2472b3"/>
<path d="M154.85,273.95A125.79,125.79 0 0 1 153.96,273.97L153.68,255.79A107.6,107.6 0 0 0 154.43,255.77Z" fill="#0f447c"/>
<path d="M153.82,268.6A120.41,120.41 0 0 1 151.48,268.61L151.53,255.8A107.6,107.6 0 0 0 153.63,255.79Z" fill="#0f447c"/>
<path d="M153.83,273.62A125.44,125.44 0 0 1 152.59,273.63L152.5,255.8A107.6,107.6 0 0 0 153.57,255.79Z" fill="#2472b3"/>
<path d="M152.43,269.93A121.73,121.73 0 0 1 151.74,269.93L151.77,255.8A107.6,107.6 0 0 0 152.38,255.8Z" fill="#0f447c"/>
<path d="M151.54,268.91A120.71,120.71 0 0 1 148.05,268.84L148.48,255.74A107.6,107.6 0 0 0 151.59,255.8Z" fill="#2a7abb"/>
<path d="M151.43,270.22A122.02,122.02 0 0 1 149.59,270.2L149.87,255.78A107.6,107.6 0 0 0 151.5,255.8Z" fill="#2675b5"/>
<path d="M149.29,274.28A126.11,126.11 0 0 1 148.36,274.25L148.89,255.76A107.6,107.6 0 0 0 149.69,255.78Z" fill="#174a82"/>
<path d="M148.15,267.92A119.78,119.78 0 0 1 144.44,267.74L145.21,255.59A107.6,107.6 0 0 0 148.54,255.74Z" fill="#2675b5"/>
<path d="M147.99,269.23A121.1,121.1 0 0 1 145.86,269.14L146.54,255.66A107.6,107.6 0 0 0 148.44,255.74Z" fill="#2472b3"/>
<path d="M145.52,271.43A123.4,123.4 0 0 1 144.37,271.36L145.35,255.59A107.6,107.6 0 0 0 146.35,255.65Z" fill="#123f70"/>
<path d="M144.22,272.25A124.29,124.29 0 0 1 140.12,271.93L141.71,255.31A107.6,107.6 0 0 0 145.27,255.59Z" fill="#0f447c"/>
<path d="M144.02,273.56A125.61,125.61 0 0 1 141.94,273.41L143.38,255.45A107.6,107.6 0 0 0 145.16,255.58Z" fill="#2472b3"/>
<path d="M141.65,273.88A126.11,126.11 0 0 1 140.37,273.77L142.07,255.34A107.6,107.6 0 0 0 143.17,255.44Z" fill="#174a82"/>
<path d="M139.97,274.13A126.5,126.5 0 0 1 136.54,273.76L138.85,254.99A107.6,107.6 0 0 0 141.77,255.31Z" fill="#2472b3"/>
<path d="M139.74,275.43A127.82,127.82 0 0 1 137.8,275.23L140.05,255.13A107.6,107.6 0 0 0 141.68,255.3Z" fill="#216eb0"/>
<path d="M137.54,275.7A128.32,128.32 0 0 1 136.58,275.59L139.07,255.02A107.6,107.6 0 0 0 139.88,255.11Z" fill="#0f447c"/>
<path d="M137.38,267.48A120.17,120.17 0 0 1 133.45,266.93L135.39,254.51A107.6,107.6 0 0 0 138.91,255Z" fill="#0d3f75"/>
<path d="M137.1,268.77A121.48,121.48 0 0 1 135.22,268.52L137.14,254.77A107.6,107.6 0 0 0 138.8,254.99Z" fill="#2a7abb"/>
<path d="M133.52,278.82A131.92,131.92 0 0 1 132.12,278.62L135.78,254.57A107.6,107.6 0 0 0 136.93,254.74Z" fill="#174a82"/>
<path d="M133.76,265.32A118.53,118.53 0 0 1 130.71,264.8L132.68,254.05A107.6,107.6 0 0 0 135.44,254.52Z" fill="#2675b5"/>
<path d="M133.47,266.6A119.84,119.84 0 0 1 131.75,266.32L133.82,254.25A107.6,107.6 0 0 0 135.36,254.51Z" fill="#2472b3"/>
<path d="M131.09,269.06A122.66,122.66 0 0 1 130.3,268.92L132.97,254.1A107.6,107.6 0 0 0 133.66,254.23Z" fill="#123f70"/>
<path d="M129.22,273.38A127.24,127.24 0 0 1 125.84,272.72L129.88,253.5A107.6,107.6 0 0 0 132.73,254.06Z" fill="#0d3f75"/>
<path d="M128.88,274.66A128.55,128.55 0 0 1 127.01,274.3L131.08,253.75A107.6,107.6 0 0 0 132.65,254.05Z" fill="#216eb0"/>
<path d="M126.54,275.59A129.91,129.91 0 0 1 125.44,275.36L130,253.53A107.6,107.6 0 0 0 130.91,253.71Z" fill="#123f70"/>
<path d="M126.55,269.65A124.08,124.08 0 0 1 123.6,268.99L127.37,252.94A107.6,107.6 0 0 0 129.93,253.51Z" fill="#0f447c"/>
<path d="M126.19,270.91A125.4,125.4 0 0 1 124.78,270.61L128.64,253.23A107.6,107.6 0 0 0 129.86,253.5Z" fill="#216eb0"/>
<path d="M123.8,274.19A129.11,129.11 0 0 1 122.89,273.98L127.74,253.03A107.6,107.6 0 0 0 128.49,253.2Z" fill="#0d3f75"/>
<path d="M126.66,267.28A121.74,121.74 0 0 1 126.24,267.19L129.23,253.36A107.6,107.6 0 0 0 129.6,253.44Z" fill="#93c2e3"/>
<path d="M113.75,276.52A133.9,133.9 0 0 1 68.1,252.55L84.58,232.06A107.6,107.6 0 0 0 121.26,251.32Z" fill="#c6e9b2"/>
<path d="M116.56,267.08A124.05,124.05 0 0 1 112.58,265.82L117.81,250.22A107.6,107.6 0 0 0 121.26,251.32Z" fill="#d8efa3"/>
<path d="M112.79,265.38A123.56,123.56 0 0 1 109.22,264.12L114.75,249.14A107.6,107.6 0 0 0 117.86,250.24Z" fill="#d8efa3"/>
<path d="M109.04,264.79A124.25,124.25 0 0 1 106.78,263.93L112.84,248.42A107.6,107.6 0 0 0 114.8,249.16Z" fill="#d8efa3"/>
<path d="M106.43,265.01A125.39,125.39 0 0 1 103.46,263.81L110.34,247.41A107.6,107.6 0 0 0 112.89,248.44Z" fill="#d8efa3"/>
<path d="M103.61,263.62A125.16,125.16 0 0 1 100.18,262.12L107.45,246.14A107.6,107.6 0 0 0 110.39,247.43Z" fill="#d8efa3"/>
<path d="M100.1,262.47A125.51,125.51 0 0 1 97.79,261.4L105.53,245.25A107.6,107.6 0 0 0 107.5,246.17Z" fill="#d8efa3"/>
<path d="M98.34,260.39A124.36,124.36 0 0 1 95.96,259.22L103.52,244.26A107.6,107.6 0 0 0 105.58,245.27Z" fill="#d8efa3"/>
<path d="M95.84,259.62A124.78,124.78 0 0 1 93.12,258.21L101.23,243.07A107.6,107.6 0 0 0 103.57,244.28Z" fill="#d8efa3"/>
<path d="M93.24,258.13A124.65,124.65 0 0 1 91.06,256.94L99.39,242.06A107.6,107.6 0 0 0 101.28,243.09Z" fill="#d8efa3"/>
<path d="M91.49,256.3A123.88,123.88 0 0 1 89.4,255.1L97.63,241.05A107.6,107.6 0 0 0 99.44,242.09Z" fill="#d8efa3"/>
<path d="M89.31,255.37A124.16,124.16 0 0 1 86.3,253.55L95.07,239.5A107.6,107.6 0 0 0 97.67,241.08Z" fill="#d8efa3"/>
<path d="M85.94,254.26A124.96,124.96 0 0 1 83.48,252.69L93,238.18A107.6,107.6 0 0 0 95.11,239.53Z" fill="#d8efa3"/>
<path d="M83.91,252.16A124.27,124.27 0 0 1 80.8,250.05L90.35,236.39A107.6,107.6 0 0 0 93.04,238.21Z" fill="#d8efa3"/>
<path d="M80.75,250.24A124.45,124.45 0 0 1 78.06,248.3L88.07,234.75A107.6,107.6 0 0 0 90.4,236.42Z" fill="#d8efa3"/>
<path d="M78.56,247.72A123.68,123.68 0 0 1 74.45,244.55L84.53,232.02A107.6,107.6 0 0 0 88.11,234.78Z" fill="#d8efa3"/>
<path d="M117.49,263.96A120.79,120.79 0 0 1 113.61,262.73L117.81,250.22A107.6,107.6 0 0 0 121.26,251.32Z" fill="#a3cdea"/>
<path d="M113.75,262.51A120.54,120.54 0 0 1 110.27,261.29L114.75,249.14A107.6,107.6 0 0 0 117.86,250.24Z" fill="#a3cdea"/>
<path d="M110.25,261.51A120.75,120.75 0 0 1 108.06,260.67L112.84,248.42A107.6,107.6 0 0 0 114.8,249.16Z" fill="#a3cdea"/>
<path d="M108.1,260.74A120.8,120.8 0 0 1 105.23,259.58L110.34,247.41A107.6,107.6 0 0 0 112.89,248.44Z" fill="#a3cdea"/>
<path d="M105.7,258.62A119.73,119.73 0 0 1 102.43,257.19L107.45,246.14A107.6,107.6 0 0 0 110.39,247.43Z" fill="#a3cdea"/>
<path d="M102.47,257.25A119.78,119.78 0 0 1 100.27,256.23L105.53,245.25A107.6,107.6 0 0 0 107.5,246.17Z" fill="#a3cdea"/>
<path d="M98.8,259.45A123.31,123.31 0 0 1 96.44,258.29L103.52,244.26A107.6,107.6 0 0 0 105.58,245.27Z" fill="#a3cdea"/>
<path d="M97.49,256.33A121.09,121.09 0 0 1 94.86,254.97L101.23,243.07A107.6,107.6 0 0 0 103.57,244.28Z" fill="#a3cdea"/>
<path d="M95.58,253.75A119.69,119.69 0 0 1 93.48,252.61L99.39,242.06A107.6,107.6 0 0 0 101.28,243.09Z" fill="#a3cdea"/>
<path d="M92.63,254.26A121.54,121.54 0 0 1 90.58,253.08L97.63,241.05A107.6,107.6 0 0 0 99.44,242.09Z" fill="#a3cdea"/>
<path d="M91.48,251.67A119.87,119.87 0 0 1 88.57,249.91L95.07,239.5A107.6,107.6 0 0 0 97.67,241.08Z" fill="#a3cdea"/>
<path d="M86.8,252.88A123.32,123.32 0 0 1 84.38,251.33L93,238.18A107.6,107.6 0 0 0 95.11,239.53Z" fill="#a3cdea"/>
<path d="M84.98,250.52A122.31,122.31 0 0 1 81.92,248.45L90.35,236.39A107.6,107.6 0 0 0 93.04,238.21Z" fill="#a3cdea"/>
<path d="M83.5,246.3A119.65,119.65 0 0 1 80.91,244.44L88.07,234.75A107.6,107.6 0 0 0 90.4,236.42Z" fill="#a3cdea"/>
<path d="M79.19,246.87A122.63,122.63 0 0 1 75.11,243.73L84.53,232.02A107.6,107.6 0 0 0 88.11,234.78Z" fill="#a3cdea"/>
<path d="M94.28,256.04A122.31,122.31 0 0 1 93.18,255.44L100.26,242.54A107.6,107.6 0 0 0 101.22,243.07Z" fill="#216eb0"/>
<path d="M93.92,253.81A120.53,120.53 0 0 1 93.25,253.44L99.55,242.15A107.6,107.6 0 0 0 100.15,242.48Z" fill="#0f447c"/>
<path d="M90.97,246.04A115.32,115.32 0 0 1 89.75,245.27L93.92,238.78A107.6,107.6 0 0 0 95.05,239.49Z" fill="#216eb0"/>
<path d="M87.3,248.79A119.6,119.6 0 0 1 86.75,248.43L93.29,238.37A107.6,107.6 0 0 0 93.79,238.7Z" fill="#0d3f75"/>
<path d="M62.4,247.71A133.9,133.9 0 0 1 28.11,199.01L52.45,189.03A107.6,107.6 0 0 0 80,228.16Z" fill="#c6e9b2"/>
<path d="M68.33,241.13A125.05,125.05 0 0 1 65.96,238.94L77.96,226.28A107.6,107.6 0 0 0 80,228.16Z" fill="#d8efa3"/>
<path d="M66.06,238.93A124.97,124.97 0 0 1 63.72,236.65L75.98,224.35A107.6,107.6 0 0 0 78,226.32Z" fill="#d8efa3"/>
<path d="M64.4,236.06A124.07,124.07 0 0 1 61.72,233.3L73.7,222.01A107.6,107.6 0 0 0 76.02,224.39Z" fill="#d8efa3"/>
<path d="M62.22,232.92A123.44,123.44 0 0 1 59.71,230.18L71.55,219.66A107.6,107.6 0 0 0 73.74,222.05Z" fill="#d8efa3"/>
<path d="M59.35,230.58A123.98,123.98 0 0 1 57.35,228.28L69.86,217.7A107.6,107.6 0 0 0 71.59,219.7Z" fill="#d8efa3"/>
<path d="M55.99,229.52A125.82,125.82 0 0 1 53.68,226.71L67.92,215.34A107.6,107.6 0 0 0 69.89,217.74Z" fill="#d8efa3"/>
<path d="M53.34,227.07A126.31,126.31 0 0 1 51.45,224.64L66.34,213.32A107.6,107.6 0 0 0 67.95,215.39Z" fill="#d8efa3"/>
<path d="M51.05,225.03A126.86,126.86 0 0 1 49.61,223.1L65.15,211.72A107.6,107.6 0 0 0 66.38,213.37Z" fill="#d8efa3"/>
<path d="M50.55,222.48A125.73,125.73 0 0 1 48.47,219.55L63.4,209.26A107.6,107.6 0 0 0 65.19,211.77Z" fill="#d8efa3"/>
<path d="M48.43,219.65A125.82,125.82 0 0 1 46.52,216.8L61.8,206.86A107.6,107.6 0 0 0 63.43,209.3Z" fill="#d8efa3"/>
<path d="M46.87,216.65A125.45,125.45 0 0 1 44.63,213.08L59.91,203.85A107.6,107.6 0 0 0 61.83,206.91Z" fill="#d8efa3"/>
<path d="M44.02,213.53A126.21,126.21 0 0 1 42.21,210.44L58.4,201.27A107.6,107.6 0 0 0 59.94,203.9Z" fill="#d8efa3"/>
<path d="M42.79,210.19A125.57,125.57 0 0 1 41.55,207.95L57.36,199.39A107.6,107.6 0 0 0 58.42,201.32Z" fill="#d8efa3"/>
<path d="M41.04,208.3A126.19,126.19 0 0 1 39.28,204.93L55.89,196.58A107.6,107.6 0 0 0 57.39,199.44Z" fill="#d8efa3"/>
<path d="M38.86,205.22A126.7,126.7 0 0 1 37.38,202.19L54.66,194.05A107.6,107.6 0 0 0 55.91,196.63Z" fill="#d8efa3"/>
<path d="M36.82,202.53A127.35,127.35 0 0 1 35.79,200.3L53.82,192.22A107.6,107.6 0 0 0 54.68,194.1Z" fill="#d8efa3"/>
<path d="M36.36,200.12A126.77,126.77 0 0 1 34.69,196.24L52.43,188.98A107.6,107.6 0 0 0 53.84,192.27Z" fill="#d8efa3"/>
<path d="M71.86,237.21A119.77,119.77 0 0 1 69.59,235.11L77.96,226.28A107.6,107.6 0 0 0 80,228.16Z" fill="#a3cdea"/>
<path d="M70.96,233.75A117.84,117.84 0 0 1 68.75,231.6L75.98,224.35A107.6,107.6 0 0 0 78,226.32Z" fill="#a3cdea"/>
<path d="M67.04,233.41A120.33,120.33 0 0 1 64.44,230.74L73.7,222.01A107.6,107.6 0 0 0 76.02,224.39Z" fill="#a3cdea"/>
<path d="M64.48,230.79A120.34,120.34 0 0 1 62.03,228.12L71.55,219.66A107.6,107.6 0 0 0 73.74,222.05Z" fill="#a3cdea"/>
<path d="M63.01,227.33A119.08,119.08 0 0 1 61.09,225.12L69.86,217.7A107.6,107.6 0 0 0 71.59,219.7Z" fill="#a3cdea"/>
<path d="M60.57,225.64A119.81,119.81 0 0 1 58.37,222.96L67.92,215.34A107.6,107.6 0 0 0 69.89,217.74Z" fill="#a3cdea"/>
<path d="M59.5,222.14A118.42,118.42 0 0 1 57.73,219.87L66.34,213.32A107.6,107.6 0 0 0 67.95,215.39Z" fill="#a3cdea"/>
<path d="M57.81,219.89A118.37,118.37 0 0 1 56.46,218.08L65.15,211.72A107.6,107.6 0 0 0 66.38,213.37Z" fill="#a3cdea"/>
<path d="M55.13,219.13A120.06,120.06 0 0 1 53.14,216.33L63.4,209.26A107.6,107.6 0 0 0 65.19,211.77Z" fill="#a3cdea"/>
<path d="M53.91,215.87A119.17,119.17 0 0 1 52.09,213.17L61.8,206.86A107.6,107.6 0 0 0 63.43,209.3Z" fill="#a3cdea"/>
<path d="M52.75,212.82A118.43,118.43 0 0 1 50.64,209.45L59.91,203.85A107.6,107.6 0 0 0 61.83,206.91Z" fill="#a3cdea"/>
<path d="M53.12,208.02A115.56,115.56 0 0 1 51.47,205.19L58.4,201.27A107.6,107.6 0 0 0 59.94,203.9Z" fill="#a3cdea"/>
<path d="M49.97,206.12A117.32,117.32 0 0 1 48.81,204.02L57.36,199.39A107.6,107.6 0 0 0 58.42,201.32Z" fill="#a3cdea"/>
<path d="M49.11,203.93A117.01,117.01 0 0 1 47.48,200.81L55.89,196.58A107.6,107.6 0 0 0 57.39,199.44Z" fill="#a3cdea"/>
<path d="M47.65,200.79A116.86,116.86 0 0 1 46.29,198L54.66,194.05A107.6,107.6 0 0 0 55.91,196.63Z" fill="#a3cdea"/>
<path d="M44.13,199.08A119.26,119.26 0 0 1 43.17,196.99L53.82,192.22A107.6,107.6 0 0 0 54.68,194.1Z" fill="#a3cdea"/>
<path d="M44.55,196.44A117.78,117.78 0 0 1 43,192.84L52.43,188.98A107.6,107.6 0 0 0 53.84,192.27Z" fill="#a3cdea"/>
<path d="M76.71,231.69A112.42,112.42 0 0 1 75.61,230.68L78.89,227.14A107.6,107.6 0 0 0 79.94,228.11Z" fill="#2472b3"/>
<path d="M70.77,235.64A119.35,119.35 0 0 1 70.09,235L78.16,226.46A107.6,107.6 0 0 0 78.77,227.03Z" fill="#174a82"/>
<path d="M71.78,232.76A116.56,116.56 0 0 1 70.49,231.52L76.76,225.12A107.6,107.6 0 0 0 77.94,226.26Z" fill="#216eb0"/>
<path d="M65.94,235.9A122.88,122.88 0 0 1 65.28,235.26L76.06,224.43A107.6,107.6 0 0 0 76.64,225Z" fill="#0d3f75"/>
<path d="M59.46,230.49A123.84,123.84 0 0 1 57.46,228.19L69.86,217.7A107.6,107.6 0 0 0 71.59,219.7Z" fill="#2a7abb"/>
<path d="M58.37,231.33A125.21,125.21 0 0 1 57.27,230.08L70.6,218.56A107.6,107.6 0 0 0 71.54,219.64Z" fill="#2472b3"/>
<path d="M57.2,229.91A125.15,125.15 0 0 1 56.62,229.23L70,217.87A107.6,107.6 0 0 0 70.49,218.45Z" fill="#123f70"/>
<path d="M61.05,225.24A119.19,119.19 0 0 1 58.86,222.58L67.92,215.34A107.6,107.6 0 0 0 69.89,217.74Z" fill="#2675b5"/>
<path d="M59.98,226.01A120.51,120.51 0 0 1 58.79,224.59L68.78,216.4A107.6,107.6 0 0 0 69.83,217.67Z" fill="#216eb0"/>
<path d="M49.24,232.12A132.67,132.67 0 0 1 48.47,231.16L68.03,215.48A107.6,107.6 0 0 0 68.66,216.26Z" fill="#123f70"/>
<path d="M56.94,224.19A121.7,121.7 0 0 1 55.12,221.86L66.34,213.32A107.6,107.6 0 0 0 67.95,215.39Z" fill="#0d3f75"/>
<path d="M55.86,224.94A123.02,123.02 0 0 1 54.94,223.78L67.1,214.31A107.6,107.6 0 0 0 67.91,215.33Z" fill="#2675b5"/>
<path d="M51.65,226.11A127.05,127.05 0 0 1 51.17,225.49L66.6,213.66A107.6,107.6 0 0 0 67.01,214.19Z" fill="#0f447c"/>
<path d="M54.5,222.4A122.52,122.52 0 0 1 53.11,220.54L65.15,211.72A107.6,107.6 0 0 0 66.38,213.37Z" fill="#216eb0"/>
<path d="M49.54,226.09A128.71,128.71 0 0 1 48.77,225.07L65.7,212.47A107.6,107.6 0 0 0 66.34,213.32Z" fill="#216eb0"/>
<path d="M52.59,222.05A123.84,123.84 0 0 1 52.21,221.54L65.3,211.92A107.6,107.6 0 0 0 65.63,212.37Z" fill="#0f447c"/>
<path d="M49.18,223.49A127.44,127.44 0 0 1 47.06,220.51L63.4,209.26A107.6,107.6 0 0 0 65.19,211.77Z" fill="#2a7abb"/>
<path d="M48.05,224.18A128.75,128.75 0 0 1 46.92,222.6L64.18,210.38A107.6,107.6 0 0 0 65.13,211.7Z" fill="#2472b3"/>
<path d="M44,224.39A132.18,132.18 0 0 1 43.41,223.55L63.6,209.54A107.6,107.6 0 0 0 64.08,210.23Z" fill="#174a82"/>
<path d="M52.12,217.11A121.34,121.34 0 0 1 50.28,214.35L61.8,206.86A107.6,107.6 0 0 0 63.43,209.3Z" fill="#2675b5"/>
<path d="M50.98,217.77A122.66,122.66 0 0 1 50.01,216.34L62.53,207.97A107.6,107.6 0 0 0 63.38,209.23Z" fill="#2472b3"/>
<path d="M49.66,216.34A122.95,122.95 0 0 1 49.16,215.58L62,207.17A107.6,107.6 0 0 0 62.43,207.83Z" fill="#0d3f75"/>
<path d="M52.48,215.91A120.37,120.37 0 0 1 52.24,215.56L62.83,208.41A107.6,107.6 0 0 0 63.04,208.72Z" fill="#93c2e3"/>
<path d="M47.12,216.49A125.15,125.15 0 0 1 44.89,212.93L59.91,203.85A107.6,107.6 0 0 0 61.83,206.91Z" fill="#0d3f75"/>
<path d="M45.17,217.6A127.39,127.39 0 0 1 43.91,215.62L60.7,205.15A107.6,107.6 0 0 0 61.77,206.82Z" fill="#2675b5"/>
<path d="M44.56,214.92A126.47,126.47 0 0 1 43.98,213.97L60.1,204.16A107.6,107.6 0 0 0 60.59,204.97Z" fill="#123f70"/>
<path d="M44.32,213.35A125.85,125.85 0 0 1 42.52,210.27L58.4,201.27A107.6,107.6 0 0 0 59.94,203.9Z" fill="#2a7abb"/>
<path d="M42.71,214.19A127.67,127.67 0 0 1 41.61,212.34L58.96,202.25A107.6,107.6 0 0 0 59.89,203.82Z" fill="#2675b5"/>
<path d="M41.94,211.9A127.17,127.17 0 0 1 41.47,211.09L58.48,201.41A107.6,107.6 0 0 0 58.87,202.1Z" fill="#0d3f75"/>
<path d="M42.59,210.3A125.81,125.81 0 0 1 41.34,208.06L57.36,199.39A107.6,107.6 0 0 0 58.42,201.32Z" fill="#2675b5"/>
<path d="M41.41,210.89A127.12,127.12 0 0 1 40.74,209.7L57.83,200.25A107.6,107.6 0 0 0 58.39,201.26Z" fill="#2472b3"/>
<path d="M38.1,210.98A130.05,130.05 0 0 1 37.8,210.43L57.52,199.68A107.6,107.6 0 0 0 57.77,200.14Z" fill="#123f70"/>
<path d="M46.2,205.5A120.32,120.32 0 0 1 44.53,202.29L55.89,196.58A107.6,107.6 0 0 0 57.39,199.44Z" fill="#2a7abb"/>
<path d="M45,206.03A121.63,121.63 0 0 1 44.06,204.26L56.51,197.79A107.6,107.6 0 0 0 57.34,199.36Z" fill="#2472b3"/>
<path d="M40.28,205.97A125.77,125.77 0 0 1 39.73,204.89L55.95,196.7A107.6,107.6 0 0 0 56.42,197.62Z" fill="#174a82"/>
<path d="M44.48,202.39A120.4,120.4 0 0 1 43.08,199.51L54.66,194.05A107.6,107.6 0 0 0 55.91,196.63Z" fill="#0f447c"/>
<path d="M37.48,205.8A128.19,128.19 0 0 1 36.53,203.88L55.08,194.93A107.6,107.6 0 0 0 55.88,196.55Z" fill="#216eb0"/>
<path d="M42.28,200.89A121.72,121.72 0 0 1 41.94,200.18L54.71,194.16A107.6,107.6 0 0 0 55.01,194.78Z" fill="#0f447c"/>
<path d="M40.8,200.65A122.95,122.95 0 0 1 39.81,198.5L53.82,192.22A107.6,107.6 0 0 0 54.68,194.1Z" fill="#0f447c"/>
<path d="M36.95,202.39A127.17,127.17 0 0 1 36.39,201.18L54.18,193.02A107.6,107.6 0 0 0 54.66,194.05Z" fill="#2675b5"/>
<path d="M38.97,199.84A124.26,124.26 0 0 1 38.7,199.23L53.89,192.39A107.6,107.6 0 0 0 54.13,192.91Z" fill="#0f447c"/>
<path d="M37.15,199.76A125.89,125.89 0 0 1 35.5,195.91L52.43,188.98A107.6,107.6 0 0 0 53.84,192.27Z" fill="#2675b5"/>
<path d="M35.85,200.21A127.27,127.27 0 0 1 34.77,197.73L52.88,190.08A107.6,107.6 0 0 0 53.8,192.17Z" fill="#2675b5"/>
<path d="M34.72,197.48A127.21,127.21 0 0 1 34.34,196.55L52.47,189.09A107.6,107.6 0 0 0 52.8,189.88Z" fill="#123f70"/>
<path d="M25.47,192.01A133.9,133.9 0 0 1 18.41,139.09L44.65,140.88A107.6,107.6 0 0 0 50.32,183.41Z" fill="#c6e9b2"/>
<path d="M35.03,188.7A123.78,123.78 0 0 1 34.29,186.49L49.68,181.48A107.6,107.6 0 0 0 50.32,183.41Z" fill="#d8efa3"/>
<path d="M33.63,186.77A124.49,124.49 0 0 1 32.65,183.6L48.84,178.79A107.6,107.6 0 0 0 49.69,181.53Z" fill="#d8efa3"/>
<path d="M33.01,183.56A124.13,124.13 0 0 1 32.38,181.36L48.31,176.94A107.6,107.6 0 0 0 48.86,178.85Z" fill="#d8efa3"/>
<path d="M33.2,181.2A123.3,123.3 0 0 1 32.19,177.33L47.45,173.62A107.6,107.6 0 0 0 48.33,177Z" fill="#d8efa3"/>
<path d="M31.34,177.61A124.19,124.19 0 0 1 30.73,174.94L46.92,171.37A107.6,107.6 0 0 0 47.46,173.68Z" fill="#d8efa3"/>
<path d="M30.86,174.98A124.07,124.07 0 0 1 30.2,171.82L46.37,168.68A107.6,107.6 0 0 0 46.94,171.42Z" fill="#d8efa3"/>
<path d="M30.83,171.76A123.44,123.44 0 0 1 30.18,168.16L45.82,165.6A107.6,107.6 0 0 0 46.38,168.74Z" fill="#d8efa3"/>
<path d="M28.9,168.44A124.76,124.76 0 0 1 28.35,164.75L45.35,162.47A107.6,107.6 0 0 0 45.83,165.66Z" fill="#d8efa3"/>
<path d="M28.37,164.81A124.74,124.74 0 0 1 27.98,161.64L45.03,159.8A107.6,107.6 0 0 0 45.36,162.53Z" fill="#d8efa3"/>
<path d="M28.65,161.64A124.08,124.08 0 0 1 28.41,159.22L44.83,157.76A107.6,107.6 0 0 0 45.03,159.85Z" fill="#d8efa3"/>
<path d="M28.28,159.3A124.22,124.22 0 0 1 28.05,156.45L44.64,155.35A107.6,107.6 0 0 0 44.83,157.81Z" fill="#d8efa3"/>
<path d="M27.83,156.53A124.45,124.45 0 0 1 27.7,154.29L44.53,153.46A107.6,107.6 0 0 0 44.64,155.41Z" fill="#d8efa3"/>
<path d="M28.21,154.33A123.94,123.94 0 0 1 28.11,151.72L44.44,151.25A107.6,107.6 0 0 0 44.53,153.52Z" fill="#d8efa3"/>
<path d="M26.64,151.82A125.41,125.41 0 0 1 26.59,148.1L44.4,148.11A107.6,107.6 0 0 0 44.44,151.31Z" fill="#d8efa3"/>
<path d="M26.53,148.16A125.47,125.47 0 0 1 26.58,144.74L44.44,145.24A107.6,107.6 0 0 0 44.4,148.17Z" fill="#d8efa3"/>
<path d="M27.53,144.83A124.51,124.51 0 0 1 27.66,141.74L44.55,142.61A107.6,107.6 0 0 0 44.44,145.29Z" fill="#d8efa3"/>
<path d="M27.73,141.81A124.43,124.43 0 0 1 27.86,139.67L44.65,140.83A107.6,107.6 0 0 0 44.54,142.67Z" fill="#d8efa3"/>
<path d="M39.96,187A118.56,118.56 0 0 1 39.25,184.87L49.68,181.48A107.6,107.6 0 0 0 50.32,183.41Z" fill="#a3cdea"/>
<path d="M36.83,185.73A121.13,121.13 0 0 1 35.87,182.64L48.84,178.79A107.6,107.6 0 0 0 49.69,181.53Z" fill="#a3cdea"/>
<path d="M35.89,182.7A121.13,121.13 0 0 1 35.28,180.56L48.31,176.94A107.6,107.6 0 0 0 48.86,178.85Z" fill="#a3cdea"/>
<path d="M35.66,180.52A120.75,120.75 0 0 1 34.67,176.73L47.45,173.62A107.6,107.6 0 0 0 48.33,177Z" fill="#a3cdea"/>
<path d="M34.11,176.93A121.34,121.34 0 0 1 33.51,174.33L46.92,171.37A107.6,107.6 0 0 0 47.46,173.68Z" fill="#a3cdea"/>
<path d="M34.85,174.1A119.98,119.98 0 0 1 34.21,171.04L46.37,168.68A107.6,107.6 0 0 0 46.94,171.42Z" fill="#a3cdea"/>
<path d="M33.06,171.33A121.17,121.17 0 0 1 32.43,167.8L45.82,165.6A107.6,107.6 0 0 0 46.38,168.74Z" fill="#a3cdea"/>
<path d="M32.1,167.91A121.51,121.51 0 0 1 31.56,164.32L45.35,162.47A107.6,107.6 0 0 0 45.83,165.66Z" fill="#a3cdea"/>
<path d="M32.24,164.29A120.84,120.84 0 0 1 31.86,161.22L45.03,159.8A107.6,107.6 0 0 0 45.36,162.53Z" fill="#a3cdea"/>
<path d="M32.75,161.19A119.95,119.95 0 0 1 32.52,158.85L44.83,157.76A107.6,107.6 0 0 0 45.03,159.85Z" fill="#a3cdea"/>
<path d="M31.59,159A120.89,120.89 0 0 1 31.38,156.23L44.64,155.35A107.6,107.6 0 0 0 44.83,157.81Z" fill="#a3cdea"/>
<path d="M31.51,156.29A120.76,120.76 0 0 1 31.39,154.11L44.53,153.46A107.6,107.6 0 0 0 44.64,155.41Z" fill="#a3cdea"/>
<path d="M33.09,154.09A119.06,119.06 0 0 1 32.99,151.58L44.44,151.25A107.6,107.6 0 0 0 44.53,153.52Z" fill="#a3cdea"/>
<path d="M31.93,151.67A120.12,120.12 0 0 1 31.88,148.1L44.4,148.11A107.6,107.6 0 0 0 44.44,151.31Z" fill="#a3cdea"/>
<path d="M34.41,148.16A117.59,117.59 0 0 1 34.46,144.96L44.44,145.24A107.6,107.6 0 0 0 44.4,148.17Z" fill="#a3cdea"/>
<path d="M34.62,145.03A117.43,117.43 0 0 1 34.73,142.1L44.55,142.61A107.6,107.6 0 0 0 44.44,145.29Z" fill="#a3cdea"/>
<path d="M35.83,142.22A116.32,116.32 0 0 1 35.95,140.23L44.65,140.83A107.6,107.6 0 0 0 44.54,142.67Z" fill="#a3cdea"/>
<path d="M40.18,186.85A118.32,118.32 0 0 1 39.75,185.6L49.92,182.22A107.6,107.6 0 0 0 50.3,183.35Z" fill="#2675b5"/>
<path d="M33.62,187.5A124.73,124.73 0 0 1 33.43,186.93L49.72,181.61A107.6,107.6 0 0 0 49.88,182.1Z" fill="#0f447c"/>
<path d="M35.87,180.34A120.5,120.5 0 0 1 35.3,178.2L47.79,174.99A107.6,107.6 0 0 0 48.3,176.9Z" fill="#2675b5"/>
<path d="M29.33,179.49A126.6,126.6 0 0 1 29.09,178.54L47.54,173.99A107.6,107.6 0 0 0 47.74,174.79Z" fill="#174a82"/>
<path d="M32.52,174.52A122.34,122.34 0 0 1 32.12,172.62L46.56,169.67A107.6,107.6 0 0 0 46.92,171.34Z" fill="#2472b3"/>
<path d="M32.26,172.4A122.16,122.16 0 0 1 32.09,171.58L46.39,168.79A107.6,107.6 0 0 0 46.53,169.51Z" fill="#123f70"/>
<path d="M33.96,171.04A120.23,120.23 0 0 1 33.62,169.22L46.06,167.01A107.6,107.6 0 0 0 46.36,168.64Z" fill="#2a7abb"/>
<path d="M30.38,169.58A123.48,123.48 0 0 1 30.23,168.7L45.89,166.06A107.6,107.6 0 0 0 46.02,166.83Z" fill="#174a82"/>
<path d="M36.15,167.14A117.39,117.39 0 0 1 35.82,164.98L45.5,163.58A107.6,107.6 0 0 0 45.81,165.56Z" fill="#2a7abb"/>
<path d="M32.31,165.27A120.9,120.9 0 0 1 32.18,164.38L45.37,162.6A107.6,107.6 0 0 0 45.48,163.39Z" fill="#123f70"/>
<path d="M29.25,159.13A123.24,123.24 0 0 1 29.13,157.71L44.72,156.5A107.6,107.6 0 0 0 44.82,157.74Z" fill="#216eb0"/>
<path d="M28.15,157.62A124.2,124.2 0 0 1 28.1,156.94L44.67,155.77A107.6,107.6 0 0 0 44.71,156.36Z" fill="#123f70"/>
<path d="M27.93,156.46A124.34,124.34 0 0 1 27.85,155.21L44.57,154.27A107.6,107.6 0 0 0 44.64,155.35Z" fill="#2472b3"/>
<path d="M31.22,154.89A120.96,120.96 0 0 1 31.19,154.31L44.54,153.64A107.6,107.6 0 0 0 44.56,154.16Z" fill="#174a82"/>
<path d="M31.06,154.11A121.08,121.08 0 0 1 30.99,152.51L44.47,152.03A107.6,107.6 0 0 0 44.53,153.45Z" fill="#2472b3"/>
<path d="M26.4,152.52A125.68,125.68 0 0 1 26.38,151.88L44.45,151.35A107.6,107.6 0 0 0 44.46,151.9Z" fill="#0f447c"/>
<path d="M28.47,151.77A123.58,123.58 0 0 1 28.42,148.1L44.4,148.11A107.6,107.6 0 0 0 44.44,151.31Z" fill="#216eb0"/>
<path d="M27.16,151.7A124.89,124.89 0 0 1 27.11,149.47L44.41,149.3A107.6,107.6 0 0 0 44.44,151.21Z" fill="#2a7abb"/>
<path d="M22.66,149.29A129.34,129.34 0 0 1 22.66,148.24L44.4,148.23A107.6,107.6 0 0 0 44.4,149.11Z" fill="#0d3f75"/>
<path d="M25.7,148.16A126.3,126.3 0 0 1 25.75,144.72L44.44,145.24A107.6,107.6 0 0 0 44.4,148.17Z" fill="#2472b3"/>
<path d="M24.39,148.06A127.61,127.61 0 0 1 24.41,145.87L44.42,146.24A107.6,107.6 0 0 0 44.4,148.08Z" fill="#2a7abb"/>
<path d="M23.57,145.65A128.45,128.45 0 0 1 23.59,144.8L44.44,145.35A107.6,107.6 0 0 0 44.42,146.06Z" fill="#0d3f75"/>
<path d="M32.57,144.97A119.47,119.47 0 0 1 32.69,142L44.55,142.61A107.6,107.6 0 0 0 44.44,145.29Z" fill="#0d3f75"/>
<path d="M31.26,144.85A120.79,120.79 0 0 1 31.31,143.39L44.49,143.92A107.6,107.6 0 0 0 44.44,145.21Z" fill="#2675b5"/>
<path d="M28.98,143.12A123.13,123.13 0 0 1 29.02,142.11L44.53,142.88A107.6,107.6 0 0 0 44.49,143.76Z" fill="#0f447c"/>
<path d="M28.97,141.87A123.19,123.19 0 0 1 29.1,139.76L44.65,140.83A107.6,107.6 0 0 0 44.54,142.67Z" fill="#2675b5"/>
<path d="M25.59,141.63A126.58,126.58 0 0 1 25.64,140.6L44.59,141.74A107.6,107.6 0 0 0 44.54,142.62Z" fill="#216eb0"/>
<path d="M27.73,140.6A124.5,124.5 0 0 1 27.77,139.99L44.63,141.11A107.6,107.6 0 0 0 44.6,141.64Z" fill="#0d3f75"/>
<path d="M31.2,140.47A121.05,121.05 0 0 1 31.23,140.05L44.64,140.96A107.6,107.6 0 0 0 44.62,141.33Z" fill="#93c2e3"/>
<path d="M19.04,132.35A133.9,133.9 0 0 1 33.66,85.54L56.91,97.85A107.6,107.6 0 0 0 45.16,135.46Z" fill="#c6e9b2"/>
<path d="M28.27,133.45A124.61,124.61 0 0 1 28.63,130.72L45.46,133.1A107.6,107.6 0 0 0 45.16,135.46Z" fill="#d8efa3"/>
<path d="M27.77,130.66A125.46,125.46 0 0 1 28.38,126.8L45.98,129.85A107.6,107.6 0 0 0 45.46,133.16Z" fill="#d8efa3"/>
<path d="M29.83,127.12A123.97,123.97 0 0 1 30.47,123.71L46.52,126.95A107.6,107.6 0 0 0 45.97,129.91Z" fill="#d8efa3"/>
<path d="M29.79,123.64A124.66,124.66 0 0 1 30.45,120.56L47.08,124.34A107.6,107.6 0 0 0 46.51,127Z" fill="#d8efa3"/>
<path d="M30.42,120.62A124.67,124.67 0 0 1 31.04,117.99L47.61,122.13A107.6,107.6 0 0 0 47.07,124.4Z" fill="#d8efa3"/>
<path d="M30.81,118A124.9,124.9 0 0 1 31.6,114.98L48.28,119.58A107.6,107.6 0 0 0 47.59,122.18Z" fill="#d8efa3"/>
<path d="M31.47,115.01A125.02,125.02 0 0 1 32.28,112.19L48.96,117.21A107.6,107.6 0 0 0 48.26,119.64Z" fill="#d8efa3"/>
<path d="M33.45,112.61A123.77,123.77 0 0 1 34.17,110.31L49.56,115.26A107.6,107.6 0 0 0 48.94,117.26Z" fill="#d8efa3"/>
<path d="M34.76,110.57A123.13,123.13 0 0 1 35.56,108.14L50.25,113.2A107.6,107.6 0 0 0 49.55,115.32Z" fill="#d8efa3"/>
<path d="M34.32,107.78A124.43,124.43 0 0 1 35.25,105.17L51.04,110.99A107.6,107.6 0 0 0 50.23,113.25Z" fill="#d8efa3"/>
<path d="M36.13,105.57A123.46,123.46 0 0 1 37.25,102.65L51.99,108.5A107.6,107.6 0 0 0 51.02,111.04Z" fill="#d8efa3"/>
<path d="M35.95,102.21A124.83,124.83 0 0 1 37.24,99.07L53.08,105.85A107.6,107.6 0 0 0 51.97,108.56Z" fill="#d8efa3"/>
<path d="M37.38,99.2A124.66,124.66 0 0 1 38.9,95.79L54.37,102.96A107.6,107.6 0 0 0 53.06,105.9Z" fill="#d8efa3"/>
<path d="M38.82,95.83A124.71,124.71 0 0 1 39.88,93.61L55.26,101.1A107.6,107.6 0 0 0 54.35,103.01Z" fill="#d8efa3"/>
<path d="M39.52,93.51A125.08,125.08 0 0 1 40.63,91.28L56.19,99.23A107.6,107.6 0 0 0 55.23,101.15Z" fill="#d8efa3"/>
<path d="M40.52,91.3A125.16,125.16 0 0 1 41.42,89.57L56.93,97.8A107.6,107.6 0 0 0 56.16,99.28Z" fill="#d8efa3"/>
<path d="M34.95,134.24A117.88,117.88 0 0 1 35.28,131.66L45.46,133.1A107.6,107.6 0 0 0 45.16,135.46Z" fill="#a3cdea"/>
<path d="M34.37,131.59A118.79,118.79 0 0 1 34.95,127.94L45.98,129.85A107.6,107.6 0 0 0 45.46,133.16Z" fill="#a3cdea"/>
<path d="M32.37,127.56A121.4,121.4 0 0 1 32.99,124.22L46.52,126.95A107.6,107.6 0 0 0 45.97,129.91Z" fill="#a3cdea"/>
<path d="M31.93,124.07A122.47,122.47 0 0 1 32.58,121.05L47.08,124.34A107.6,107.6 0 0 0 46.51,127Z" fill="#a3cdea"/>
<path d="M34.83,121.62A120.15,120.15 0 0 1 35.43,119.08L47.61,122.13A107.6,107.6 0 0 0 47.07,124.4Z" fill="#a3cdea"/>
<path d="M38.61,119.94A116.86,116.86 0 0 1 39.35,117.12L48.28,119.58A107.6,107.6 0 0 0 47.59,122.18Z" fill="#a3cdea"/>
<path d="M38.27,116.89A117.96,117.96 0 0 1 39.04,114.23L48.96,117.21A107.6,107.6 0 0 0 48.26,119.64Z" fill="#a3cdea"/>
<path d="M35.68,113.28A121.45,121.45 0 0 1 36.38,111.03L49.56,115.26A107.6,107.6 0 0 0 48.94,117.26Z" fill="#a3cdea"/>
<path d="M36.88,111.25A120.9,120.9 0 0 1 37.67,108.87L50.25,113.2A107.6,107.6 0 0 0 49.55,115.32Z" fill="#a3cdea"/>
<path d="M41.37,110.2A116.97,116.97 0 0 1 42.24,107.75L51.04,110.99A107.6,107.6 0 0 0 50.23,113.25Z" fill="#a3cdea"/>
<path d="M41.88,107.68A117.34,117.34 0 0 1 42.94,104.91L51.99,108.5A107.6,107.6 0 0 0 51.02,111.04Z" fill="#a3cdea"/>
<path d="M39.44,103.59A121.07,121.07 0 0 1 40.7,100.55L53.08,105.85A107.6,107.6 0 0 0 51.97,108.56Z" fill="#a3cdea"/>
<path d="M38.35,99.61A123.6,123.6 0 0 1 39.85,96.23L54.37,102.96A107.6,107.6 0 0 0 53.06,105.9Z" fill="#a3cdea"/>
<path d="M42.43,97.5A120.73,120.73 0 0 1 43.45,95.35L55.26,101.1A107.6,107.6 0 0 0 54.35,103.01Z" fill="#a3cdea"/>
<path d="M43.37,95.38A120.79,120.79 0 0 1 44.44,93.23L56.19,99.23A107.6,107.6 0 0 0 55.23,101.15Z" fill="#a3cdea"/>
<path d="M44.69,93.43A120.48,120.48 0 0 1 45.55,91.77L56.93,97.8A107.6,107.6 0 0 0 56.16,99.28Z" fill="#a3cdea"/>
<path d="M30.61,133.65A122.26,122.26 0 0 1 30.8,132.16L45.33,134.08A107.6,107.6 0 0 0 45.17,135.39Z" fill="#216eb0"/>
<path d="M33.64,132.38A119.41,119.41 0 0 1 33.74,131.65L45.44,133.29A107.6,107.6 0 0 0 45.35,133.94Z" fill="#123f70"/>
<path d="M30.73,130.97A122.48,122.48 0 0 1 31.06,128.82L45.76,131.17A107.6,107.6 0 0 0 45.47,133.06Z" fill="#2a7abb"/>
<path d="M32.79,128.87A120.77,120.77 0 0 1 32.98,127.74L45.96,129.97A107.6,107.6 0 0 0 45.79,130.98Z" fill="#0d3f75"/>
<path d="M34.23,127.78A119.53,119.53 0 0 1 34.53,126.12L46.25,128.33A107.6,107.6 0 0 0 45.98,129.82Z" fill="#2675b5"/>
<path d="M25.8,124.27A128.45,128.45 0 0 1 25.97,123.37L46.43,127.4A107.6,107.6 0 0 0 46.28,128.15Z" fill="#174a82"/>
<path d="M29.38,123.46A125.09,125.09 0 0 1 29.79,121.51L46.88,125.24A107.6,107.6 0 0 0 46.52,126.92Z" fill="#2a7abb"/>
<path d="M29.13,121.18A125.8,125.8 0 0 1 29.3,120.45L47.05,124.46A107.6,107.6 0 0 0 46.91,125.09Z" fill="#123f70"/>
<path d="M32.69,121.06A122.36,122.36 0 0 1 32.98,119.8L47.34,123.22A107.6,107.6 0 0 0 47.08,124.33Z" fill="#2675b5"/>
<path d="M26.91,118.18A128.65,128.65 0 0 1 27.08,117.46L47.52,122.49A107.6,107.6 0 0 0 47.37,123.09Z" fill="#123f70"/>
<path d="M37.57,119.59A117.96,117.96 0 0 1 37.97,118.03L47.98,120.68A107.6,107.6 0 0 0 47.61,122.1Z" fill="#216eb0"/>
<path d="M31.6,116.16A124.59,124.59 0 0 1 31.86,115.2L48.24,119.7A107.6,107.6 0 0 0 48.02,120.53Z" fill="#0f447c"/>
<path d="M36.49,116.31A119.83,119.83 0 0 1 36.88,114.93L48.63,118.32A107.6,107.6 0 0 0 48.28,119.57Z" fill="#2472b3"/>
<path d="M36.97,114.78A119.79,119.79 0 0 1 37.17,114.1L48.85,117.57A107.6,107.6 0 0 0 48.67,118.18Z" fill="#0d3f75"/>
<path d="M33.49,110.09A124.49,124.49 0 0 1 33.95,108.7L49.96,114.06A107.6,107.6 0 0 0 49.57,115.26Z" fill="#216eb0"/>
<path d="M37.36,109.68A120.94,120.94 0 0 1 37.58,109.03L50.2,113.35A107.6,107.6 0 0 0 50,113.93Z" fill="#0d3f75"/>
<path d="M41.02,110A117.37,117.37 0 0 1 41.5,108.65L50.69,111.94A107.6,107.6 0 0 0 50.26,113.18Z" fill="#2a7abb"/>
<path d="M34.54,105.99A124.81,124.81 0 0 1 34.8,105.28L50.96,111.2A107.6,107.6 0 0 0 50.74,111.81Z" fill="#0d3f75"/>
<path d="M41.5,107.45A117.77,117.77 0 0 1 42.08,105.91L51.58,109.56A107.6,107.6 0 0 0 51.05,110.97Z" fill="#2675b5"/>
<path d="M31.5,101.64A129.18,129.18 0 0 1 31.83,100.8L51.91,108.72A107.6,107.6 0 0 0 51.63,109.42Z" fill="#123f70"/>
<path d="M39.03,103.32A121.56,121.56 0 0 1 39.63,101.84L52.53,107.16A107.6,107.6 0 0 0 52,108.48Z" fill="#2675b5"/>
<path d="M41.42,102.37A119.7,119.7 0 0 1 41.8,101.48L52.93,106.2A107.6,107.6 0 0 0 52.6,107Z" fill="#123f70"/>
<path d="M37.35,79.04A133.9,133.9 0 0 1 75.39,38.38L90.44,59.95A107.6,107.6 0 0 0 59.87,92.62Z" fill="#c6e9b2"/>
<path d="M45.64,84.04A124.21,124.21 0 0 1 47.68,80.79L61.63,89.8A107.6,107.6 0 0 0 59.87,92.62Z" fill="#d8efa3"/>
<path d="M47.11,80.5A124.84,124.84 0 0 1 48.91,77.79L63.15,87.51A107.6,107.6 0 0 0 61.59,89.85Z" fill="#d8efa3"/>
<path d="M49.62,78.35A123.94,123.94 0 0 1 51.73,75.35L64.95,84.95A107.6,107.6 0 0 0 63.12,87.56Z" fill="#d8efa3"/>
<path d="M51.11,74.98A124.66,124.66 0 0 1 53.33,72.02L66.83,82.45A107.6,107.6 0 0 0 64.92,85Z" fill="#d8efa3"/>
<path d="M53.25,72.05A124.7,124.7 0 0 1 55.57,69.13L68.8,79.97A107.6,107.6 0 0 0 66.79,82.49Z" fill="#d8efa3"/>
<path d="M55.09,68.81A125.28,125.28 0 0 1 57.14,66.37L70.52,77.92A107.6,107.6 0 0 0 68.76,80.02Z" fill="#d8efa3"/>
<path d="M58.14,67.32A123.9,123.9 0 0 1 60.63,64.51L72.65,75.52A107.6,107.6 0 0 0 70.49,77.96Z" fill="#d8efa3"/>
<path d="M59.62,63.67A125.22,125.22 0 0 1 62.12,61.02L74.76,73.29A107.6,107.6 0 0 0 72.61,75.57Z" fill="#d8efa3"/>
<path d="M62.21,61.2A125.02,125.02 0 0 1 65.07,58.34L77.18,70.87A107.6,107.6 0 0 0 74.72,73.33Z" fill="#d8efa3"/>
<path d="M64.24,57.58A126.15,126.15 0 0 1 66.07,55.85L78.7,69.43A107.6,107.6 0 0 0 77.14,70.91Z" fill="#d8efa3"/>
<path d="M65.78,55.64A126.5,126.5 0 0 1 68.75,52.95L81.19,67.18A107.6,107.6 0 0 0 78.66,69.47Z" fill="#d8efa3"/>
<path d="M68,52.2A127.56,127.56 0 0 1 69.75,50.7L82.62,65.96A107.6,107.6 0 0 0 81.15,67.22Z" fill="#d8efa3"/>
<path d="M69.38,50.36A128.06,128.06 0 0 1 72.35,47.93L85.07,63.95A107.6,107.6 0 0 0 82.58,65.99Z" fill="#d8efa3"/>
<path d="M72.35,48.04A127.97,127.97 0 0 1 75.1,45.91L87.34,62.19A107.6,107.6 0 0 0 85.03,63.98Z" fill="#d8efa3"/>
<path d="M75.47,46.5A127.28,127.28 0 0 1 78.12,44.56L89.54,60.59A107.6,107.6 0 0 0 87.3,62.23Z" fill="#d8efa3"/>
<path d="M78.46,45.15A126.6,126.6 0 0 1 79.62,44.33L90.48,59.92A107.6,107.6 0 0 0 89.49,60.62Z" fill="#d8efa3"/>
<path d="M50.29,86.84A118.78,118.78 0 0 1 52.23,83.73L61.63,89.8A107.6,107.6 0 0 0 59.87,92.62Z" fill="#a3cdea"/>
<path d="M51.45,83.3A119.68,119.68 0 0 1 53.17,80.7L63.15,87.51A107.6,107.6 0 0 0 61.59,89.85Z" fill="#a3cdea"/>
<path d="M53.99,81.33A118.65,118.65 0 0 1 56.01,78.46L64.95,84.95A107.6,107.6 0 0 0 63.12,87.56Z" fill="#a3cdea"/>
<path d="M55.55,78.2A119.17,119.17 0 0 1 57.67,75.38L66.83,82.45A107.6,107.6 0 0 0 64.92,85Z" fill="#a3cdea"/>
<path d="M55.41,73.71A121.97,121.97 0 0 1 57.68,70.86L68.8,79.97A107.6,107.6 0 0 0 66.79,82.49Z" fill="#a3cdea"/>
<path d="M58.13,71.31A121.34,121.34 0 0 1 60.12,68.94L70.52,77.92A107.6,107.6 0 0 0 68.76,80.02Z" fill="#a3cdea"/>
<path d="M61.49,70.21A119.48,119.48 0 0 1 63.89,67.5L72.65,75.52A107.6,107.6 0 0 0 70.49,77.96Z" fill="#a3cdea"/>
<path d="M63.33,67.07A120.19,120.19 0 0 1 65.73,64.52L74.76,73.29A107.6,107.6 0 0 0 72.61,75.57Z" fill="#a3cdea"/>
<path d="M66.92,65.77A118.47,118.47 0 0 1 69.63,63.06L77.18,70.87A107.6,107.6 0 0 0 74.72,73.33Z" fill="#a3cdea"/>
<path d="M69.01,62.51A119.29,119.29 0 0 1 70.74,60.87L78.7,69.43A107.6,107.6 0 0 0 77.14,70.91Z" fill="#a3cdea"/>
<path d="M69.55,59.68A120.97,120.97 0 0 1 72.39,57.12L81.19,67.18A107.6,107.6 0 0 0 78.66,69.47Z" fill="#a3cdea"/>
<path d="M74.02,59.07A118.43,118.43 0 0 1 75.64,57.68L82.62,65.96A107.6,107.6 0 0 0 81.15,67.22Z" fill="#a3cdea"/>
<path d="M74.12,55.97A120.72,120.72 0 0 1 76.92,53.68L85.07,63.95A107.6,107.6 0 0 0 82.58,65.99Z" fill="#a3cdea"/>
<path d="M76.38,53.11A121.49,121.49 0 0 1 79,51.09L87.34,62.19A107.6,107.6 0 0 0 85.03,63.98Z" fill="#a3cdea"/>
<path d="M80.33,52.96A119.2,119.2 0 0 1 82.81,51.14L89.54,60.59A107.6,107.6 0 0 0 87.3,62.23Z" fill="#a3cdea"/>
<path d="M81.41,49.3A121.51,121.51 0 0 1 82.53,48.51L90.48,59.92A107.6,107.6 0 0 0 89.49,60.62Z" fill="#a3cdea"/>
<path d="M53.16,84.3A117.69,117.69 0 0 1 54.03,82.98L62.43,88.57A107.6,107.6 0 0 0 61.64,89.78Z" fill="#2472b3"/>
<path d="M53.1,82.14A118.93,118.93 0 0 1 53.67,81.31L63.03,87.68A107.6,107.6 0 0 0 62.52,88.43Z" fill="#174a82"/>
<path d="M55.34,82.13A117.09,117.09 0 0 1 56.55,80.39L64.28,85.88A107.6,107.6 0 0 0 63.17,87.48Z" fill="#2472b3"/>
<path d="M49.81,75.33A125.51,125.51 0 0 1 50.38,74.54L64.88,85.05A107.6,107.6 0 0 0 64.39,85.73Z" fill="#0f447c"/>
<path d="M58.75,80.4A115.3,115.3 0 0 1 59.75,79.04L65.91,83.66A107.6,107.6 0 0 0 64.97,84.92Z" fill="#216eb0"/>
<path d="M54.81,75.08A121.63,121.63 0 0 1 55.51,74.15L66.64,82.69A107.6,107.6 0 0 0 66.02,83.51Z" fill="#0f447c"/>
<path d="M53.47,72.08A124.51,124.51 0 0 1 54.77,70.43L67.97,80.99A107.6,107.6 0 0 0 66.85,82.42Z" fill="#2a7abb"/>
<path d="M51.81,67.77A128.48,128.48 0 0 1 52.52,66.89L68.69,80.1A107.6,107.6 0 0 0 68.09,80.84Z" fill="#0f447c"/>
<path d="M59.15,72.03A120.09,120.09 0 0 1 60.11,70.88L69.67,78.93A107.6,107.6 0 0 0 68.81,79.95Z" fill="#2472b3"/>
<path d="M62.68,72.82A116.88,116.88 0 0 1 63.14,72.28L70.19,78.31A107.6,107.6 0 0 0 69.77,78.8Z" fill="#0d3f75"/>
<path d="M57.75,66.84A124.51,124.51 0 0 1 58.97,65.44L71.61,76.68A107.6,107.6 0 0 0 70.55,77.89Z" fill="#2a7abb"/>
<path d="M62.23,68.05A120.35,120.35 0 0 1 63,67.19L72.43,75.77A107.6,107.6 0 0 0 71.73,76.54Z" fill="#174a82"/>
<path d="M61.76,65.49A122.41,122.41 0 0 1 63.23,63.92L73.97,74.11A107.6,107.6 0 0 0 72.68,75.5Z" fill="#2472b3"/>
<path d="M61.1,61.6A125.54,125.54 0 0 1 61.79,60.89L74.68,73.37A107.6,107.6 0 0 0 74.09,73.98Z" fill="#123f70"/>
<path d="M65.48,58.87A124.36,124.36 0 0 1 67.28,57.16L78.7,69.43A107.6,107.6 0 0 0 77.14,70.91Z" fill="#2675b5"/>
<path d="M64.62,57.87A125.68,125.68 0 0 1 65.68,56.86L78.09,70A107.6,107.6 0 0 0 77.19,70.86Z" fill="#216eb0"/>
<path d="M60.88,51.56A132.82,132.82 0 0 1 61.39,51.08L78.59,69.53A107.6,107.6 0 0 0 78.19,69.91Z" fill="#0d3f75"/>
<path d="M66.55,56.47A125.37,125.37 0 0 1 69.5,53.81L81.19,67.18A107.6,107.6 0 0 0 78.66,69.47Z" fill="#2472b3"/>
<path d="M65.74,55.42A126.68,126.68 0 0 1 67.56,53.76L80.28,67.99A107.6,107.6 0 0 0 78.73,69.4Z" fill="#2472b3"/>
<path d="M63.46,48.8A133.11,133.11 0 0 1 64.29,48.08L81.1,67.26A107.6,107.6 0 0 0 80.43,67.85Z" fill="#174a82"/>
<path d="M67.51,51.64A128.31,128.31 0 0 1 69.27,50.13L82.62,65.96A107.6,107.6 0 0 0 81.15,67.22Z" fill="#2472b3"/>
<path d="M66.7,50.6A129.62,129.62 0 0 1 67.52,49.89L81.87,66.59A107.6,107.6 0 0 0 81.19,67.18Z" fill="#2a7abb"/>
<path d="M66.5,48.49A131.35,131.35 0 0 1 67.02,48.04L82.39,66.15A107.6,107.6 0 0 0 81.96,66.52Z" fill="#0d3f75"/>
<path d="M73.29,54.99A122,122 0 0 1 76.12,52.67L85.07,63.95A107.6,107.6 0 0 0 82.58,65.99Z" fill="#0d3f75"/>
<path d="M72.52,53.91A123.32,123.32 0 0 1 73.96,52.72L83.9,64.89A107.6,107.6 0 0 0 82.65,65.93Z" fill="#2675b5"/>
<path d="M71.55,49.43A127.39,127.39 0 0 1 72.27,48.85L84.65,64.28A107.6,107.6 0 0 0 84.05,64.77Z" fill="#0f447c"/>
<path d="M74.34,50.54A124.78,124.78 0 0 1 77.02,48.46L87.34,62.19A107.6,107.6 0 0 0 85.03,63.98Z" fill="#2a7abb"/>
<path d="M73.6,49.44A126.09,126.09 0 0 1 74.99,48.36L86.28,63A107.6,107.6 0 0 0 85.1,63.93Z" fill="#216eb0"/>
<path d="M72.05,44.2A131.18,131.18 0 0 1 72.98,43.49L87.19,62.31A107.6,107.6 0 0 0 86.42,62.89Z" fill="#174a82"/>
<path d="M78.25,50.21A122.64,122.64 0 0 1 80.81,48.34L89.54,60.59A107.6,107.6 0 0 0 87.3,62.23Z" fill="#2472b3"/>
<path d="M77.54,49.1A123.96,123.96 0 0 1 78.83,48.14L88.49,61.34A107.6,107.6 0 0 0 87.36,62.18Z" fill="#2a7abb"/>
<path d="M77.3,45.72A126.82,126.82 0 0 1 78.1,45.14L89.3,60.76A107.6,107.6 0 0 0 88.62,61.25Z" fill="#0f447c"/>
<path d="M81.48,49.39A121.39,121.39 0 0 1 82.6,48.6L90.48,59.92A107.6,107.6 0 0 0 89.49,60.62Z" fill="#2a7abb"/>
<path d="M80.75,48.3A122.71,122.71 0 0 1 81.42,47.82L90.11,60.18A107.6,107.6 0 0 0 89.52,60.6Z" fill="#2a7abb"/>
<path d="M75.51,39.26A133.11,133.11 0 0 1 75.79,39.06L90.4,59.98A107.6,107.6 0 0 0 90.17,60.14Z" fill="#0f447c"/>
<path d="M84,52.45A117.44,117.44 0 0 1 84.33,52.21L90.01,60.25A107.6,107.6 0 0 0 89.7,60.47Z" fill="#93c2e3"/>
<path d="M81.64,34.28A133.9,133.9 0 0 1 140.56,14.79L142.81,40.99A107.6,107.6 0 0 0 95.46,56.65Z" fill="#c6e9b2"/>
<path d="M87.74,44.15A122.29,122.29 0 0 1 89.63,43.01L97.13,55.64A107.6,107.6 0 0 0 95.46,56.65Z" fill="#d8efa3"/>
<path d="M89.33,42.63A122.77,122.77 0 0 1 92.73,40.69L100.05,53.97A107.6,107.6 0 0 0 97.08,55.67Z" fill="#d8efa3"/>
<path d="M92.39,40.21A123.35,123.35 0 0 1 95.02,38.8L102.29,52.77A107.6,107.6 0 0 0 100,54Z" fill="#d8efa3"/>
<path d="M94.79,38.49A123.73,123.73 0 0 1 97.4,37.17L104.52,51.64A107.6,107.6 0 0 0 102.24,52.79Z" fill="#d8efa3"/>
<path d="M97.39,37.29A123.63,123.63 0 0 1 99.98,36.05L106.72,50.59A107.6,107.6 0 0 0 104.47,51.67Z" fill="#d8efa3"/>
<path d="M100.33,36.97A122.64,122.64 0 0 1 103.88,35.39L109.78,49.23A107.6,107.6 0 0 0 106.67,50.61Z" fill="#d8efa3"/>
<path d="M103.97,35.76A122.27,122.27 0 0 1 106.6,34.68L112.04,48.29A107.6,107.6 0 0 0 109.73,49.25Z" fill="#d8efa3"/>
<path d="M106.48,34.55A122.43,122.43 0 0 1 109.7,33.31L114.83,47.23A107.6,107.6 0 0 0 111.99,48.31Z" fill="#d8efa3"/>
<path d="M109.61,33.25A122.52,122.52 0 0 1 113.43,31.91L118.13,46.07A107.6,107.6 0 0 0 114.77,47.25Z" fill="#d8efa3"/>
<path d="M113.25,31.56A122.91,122.91 0 0 1 116.13,30.64L120.6,45.28A107.6,107.6 0 0 0 118.08,46.09Z" fill="#d8efa3"/>
<path d="M115.77,29.67A123.94,123.94 0 0 1 119.62,28.56L123.89,44.34A107.6,107.6 0 0 0 120.55,45.3Z" fill="#d8efa3"/>
<path d="M119.33,27.74A124.82,124.82 0 0 1 122.55,26.91L126.61,43.64A107.6,107.6 0 0 0 123.83,44.35Z" fill="#d8efa3"/>
<path d="M122.29,26.09A125.68,125.68 0 0 1 125.23,25.41L129.08,43.07A107.6,107.6 0 0 0 126.56,43.65Z" fill="#d8efa3"/>
<path d="M125.25,25.81A125.28,125.28 0 0 1 128.36,25.17L131.69,42.53A107.6,107.6 0 0 0 129.03,43.08Z" fill="#d8efa3"/>
<path d="M128.12,24.29A126.19,126.19 0 0 1 131.03,23.77L134.12,42.1A107.6,107.6 0 0 0 131.64,42.54Z" fill="#d8efa3"/>
<path d="M130.95,23.73A126.23,126.23 0 0 1 134.05,23.25L136.7,41.69A107.6,107.6 0 0 0 134.06,42.11Z" fill="#d8efa3"/>
<path d="M133.98,23.21A126.28,126.28 0 0 1 136.78,22.84L139.03,41.38A107.6,107.6 0 0 0 136.64,41.7Z" fill="#d8efa3"/>
<path d="M136.63,22.2A126.93,126.93 0 0 1 138.95,21.94L140.94,41.17A107.6,107.6 0 0 0 138.97,41.39Z" fill="#d8efa3"/>
<path d="M138.97,22.78A126.09,126.09 0 0 1 141.3,22.56L142.87,40.99A107.6,107.6 0 0 0 140.88,41.18Z" fill="#d8efa3"/>
<path d="M92.37,51.65A113.47,113.47 0 0 1 94.13,50.59L97.13,55.64A107.6,107.6 0 0 0 95.46,56.65Z" fill="#a3cdea"/>
<path d="M92.47,47.91A116.62,116.62 0 0 1 95.69,46.07L100.05,53.97A107.6,107.6 0 0 0 97.08,55.67Z" fill="#a3cdea"/>
<path d="M96.13,46.99A115.61,115.61 0 0 1 98.59,45.67L102.29,52.77A107.6,107.6 0 0 0 100,54Z" fill="#a3cdea"/>
<path d="M97.75,44.18A117.32,117.32 0 0 1 100.23,42.92L104.52,51.64A107.6,107.6 0 0 0 102.24,52.79Z" fill="#a3cdea"/>
<path d="M101.3,45.23A114.77,114.77 0 0 1 103.7,44.08L106.72,50.59A107.6,107.6 0 0 0 104.47,51.67Z" fill="#a3cdea"/>
<path d="M102.76,42.19A116.89,116.89 0 0 1 106.14,40.68L109.78,49.23A107.6,107.6 0 0 0 106.67,50.61Z" fill="#a3cdea"/>
<path d="M107.64,44.35A112.93,112.93 0 0 1 110.06,43.34L112.04,48.29A107.6,107.6 0 0 0 109.73,49.25Z" fill="#a3cdea"/>
<path d="M107,35.85A121.02,121.02 0 0 1 110.19,34.63L114.83,47.23A107.6,107.6 0 0 0 111.99,48.31Z" fill="#a3cdea"/>
<path d="M110.41,35.42A120.21,120.21 0 0 1 114.16,34.1L118.13,46.07A107.6,107.6 0 0 0 114.77,47.25Z" fill="#a3cdea"/>
<path d="M113.92,33.56A120.8,120.8 0 0 1 116.75,32.66L120.6,45.28A107.6,107.6 0 0 0 118.08,46.09Z" fill="#a3cdea"/>
<path d="M116.11,30.79A122.77,122.77 0 0 1 119.93,29.7L123.89,44.34A107.6,107.6 0 0 0 120.55,45.3Z" fill="#a3cdea"/>
<path d="M120.91,33.58A118.76,118.76 0 0 1 123.98,32.79L126.61,43.64A107.6,107.6 0 0 0 123.83,44.35Z" fill="#a3cdea"/>
<path d="M124.25,34.14A117.39,117.39 0 0 1 127,33.51L129.08,43.07A107.6,107.6 0 0 0 126.56,43.65Z" fill="#a3cdea"/>
<path d="M126.7,32.43A118.5,118.5 0 0 1 129.64,31.83L131.69,42.53A107.6,107.6 0 0 0 129.03,43.08Z" fill="#a3cdea"/>
<path d="M128.18,24.59A125.88,125.88 0 0 1 131.08,24.07L134.12,42.1A107.6,107.6 0 0 0 131.64,42.54Z" fill="#a3cdea"/>
<path d="M131.05,24.32A125.64,125.64 0 0 1 134.13,23.83L136.7,41.69A107.6,107.6 0 0 0 134.06,42.11Z" fill="#a3cdea"/>
<path d="M133.85,22.34A127.17,127.17 0 0 1 136.67,21.96L139.03,41.38A107.6,107.6 0 0 0 136.64,41.7Z" fill="#a3cdea"/>
<path d="M137.19,26.76A122.34,122.34 0 0 1 139.42,26.51L140.94,41.17A107.6,107.6 0 0 0 138.97,41.39Z" fill="#a3cdea"/>
<path d="M138.71,20.26A128.63,128.63 0 0 1 141.08,20.04L142.87,40.99A107.6,107.6 0 0 0 140.88,41.18Z" fill="#a3cdea"/>
<path d="M90.64,48.85A116.77,116.77 0 0 1 92.45,47.76L97.13,55.64A107.6,107.6 0 0 0 95.46,56.65Z" fill="#0f447c"/>
<path d="M89.64,47.1A118.78,118.78 0 0 1 90.67,46.47L96.45,56.05A107.6,107.6 0 0 0 95.51,56.62Z" fill="#2675b5"/>
<path d="M91.14,47.01A118.09,118.09 0 0 1 91.61,46.72L96.98,55.73A107.6,107.6 0 0 0 96.54,55.99Z" fill="#0d3f75"/>
<path d="M92.85,48.55A115.89,115.89 0 0 1 96.05,46.71L100.05,53.97A107.6,107.6 0 0 0 97.08,55.67Z" fill="#2a7abb"/>
<path d="M92.27,47.36A117.2,117.2 0 0 1 94.01,46.35L98.77,54.69A107.6,107.6 0 0 0 97.16,55.62Z" fill="#216eb0"/>
<path d="M91.12,40.79A123.46,123.46 0 0 1 92.16,40.21L99.85,54.08A107.6,107.6 0 0 0 98.94,54.59Z" fill="#174a82"/>
<path d="M95.53,45.9A116.85,116.85 0 0 1 98.02,44.56L102.29,52.77A107.6,107.6 0 0 0 100,54Z" fill="#0f447c"/>
<path d="M94.97,44.71A118.17,118.17 0 0 1 96.43,43.91L101.4,53.24A107.6,107.6 0 0 0 100.07,53.96Z" fill="#2a7abb"/>
<path d="M92.81,36.74A126.21,126.21 0 0 1 93.59,36.33L102.2,52.82A107.6,107.6 0 0 0 101.54,53.17Z" fill="#0f447c"/>
<path d="M97.47,43.64A117.93,117.93 0 0 1 99.96,42.38L104.52,51.64A107.6,107.6 0 0 0 102.24,52.79Z" fill="#2675b5"/>
<path d="M96.94,42.43A119.24,119.24 0 0 1 98.11,41.83L103.37,52.22A107.6,107.6 0 0 0 102.31,52.76Z" fill="#216eb0"/>
<path d="M94.76,34.83A127,127 0 0 1 95.44,34.49L104.08,51.86A107.6,107.6 0 0 0 103.5,52.15Z" fill="#0f447c"/>
<path d="M101.76,46.18A113.72,113.72 0 0 1 104.15,45.04L106.72,50.59A107.6,107.6 0 0 0 104.47,51.67Z" fill="#0f447c"/>
<path d="M101.25,44.96A115.03,115.03 0 0 1 102.46,44.38L105.66,51.09A107.6,107.6 0 0 0 104.53,51.64Z" fill="#216eb0"/>
<path d="M100.94,40.83A118.89,118.89 0 0 1 101.59,40.52L106.38,50.75A107.6,107.6 0 0 0 105.79,51.03Z" fill="#0d3f75"/>
<path d="M101.69,39.88A119.44,119.44 0 0 1 105.14,38.34L109.78,49.23A107.6,107.6 0 0 0 106.67,50.61Z" fill="#216eb0"/>
<path d="M101.23,38.64A120.75,120.75 0 0 1 103.1,37.79L108.42,49.82A107.6,107.6 0 0 0 106.76,50.57Z" fill="#2675b5"/>
<path d="M101.45,33.49A125.36,125.36 0 0 1 102.53,33.02L109.54,49.33A107.6,107.6 0 0 0 108.61,49.74Z" fill="#0f447c"/>
<path d="M106.96,42.77A114.65,114.65 0 0 1 109.43,41.75L112.04,48.29A107.6,107.6 0 0 0 109.73,49.25Z" fill="#0f447c"/>
<path d="M104.89,37.7A120.12,120.12 0 0 1 106.29,37.11L111.06,48.69A107.6,107.6 0 0 0 109.8,49.22Z" fill="#2a7abb"/>
<path d="M108.02,40.9A115.96,115.96 0 0 1 108.67,40.64L111.79,48.4A107.6,107.6 0 0 0 111.19,48.64Z" fill="#0f447c"/>
<path d="M109.29,44.42A112.23,112.23 0 0 1 109.65,44.27L111.4,48.55A107.6,107.6 0 0 0 111.05,48.7Z" fill="#93c2e3"/>
<path d="M107.77,37.52A119.19,119.19 0 0 1 109.57,36.82L113.7,47.65A107.6,107.6 0 0 0 112.08,48.28Z" fill="#216eb0"/>
<path d="M110.7,39.23A116.53,116.53 0 0 1 111.47,38.94L114.57,47.32A107.6,107.6 0 0 0 113.87,47.58Z" fill="#0f447c"/>
<path d="M112.8,41.58A113.6,113.6 0 0 1 114.81,40.86L116.77,46.53A107.6,107.6 0 0 0 114.87,47.21Z" fill="#2675b5"/>
<path d="M114.83,40.25A114.17,114.17 0 0 1 115.79,39.93L117.88,46.15A107.6,107.6 0 0 0 116.97,46.46Z" fill="#0d3f75"/>
<path d="M115.45,28.2A125.44,125.44 0 0 1 117.62,27.56L122.51,44.72A107.6,107.6 0 0 0 120.65,45.27Z" fill="#2675b5"/>
<path d="M117.59,26.59A126.39,126.39 0 0 1 118.79,26.26L123.72,44.38A107.6,107.6 0 0 0 122.71,44.66Z" fill="#0f447c"/>
<path d="M121.39,34.97A117.29,117.29 0 0 1 123.1,34.52L125.49,43.92A107.6,107.6 0 0 0 123.92,44.33Z" fill="#2a7abb"/>
<path d="M122.46,31.24A120.64,120.64 0 0 1 123.42,31L126.5,43.66A107.6,107.6 0 0 0 125.65,43.88Z" fill="#174a82"/>
<path d="M124.2,33.58A117.94,117.94 0 0 1 125.87,33.19L128.16,43.27A107.6,107.6 0 0 0 126.63,43.63Z" fill="#2472b3"/>
<path d="M124.3,25.48A125.81,125.81 0 0 1 125.08,25.31L128.98,43.09A107.6,107.6 0 0 0 128.31,43.24Z" fill="#0d3f75"/>
<path d="M126.32,30.28A120.69,120.69 0 0 1 127.89,29.95L130.5,42.77A107.6,107.6 0 0 0 129.11,43.06Z" fill="#2675b5"/>
<path d="M128.11,30.17A120.43,120.43 0 0 1 128.83,30.02L131.3,42.61A107.6,107.6 0 0 0 130.66,42.74Z" fill="#123f70"/>
<path d="M127.66,21.41A129.11,129.11 0 0 1 129.18,21.12L132.98,42.29A107.6,107.6 0 0 0 131.71,42.53Z" fill="#2472b3"/>
<path d="M129.04,19.34A130.89,130.89 0 0 1 129.96,19.18L133.88,42.14A107.6,107.6 0 0 0 133.13,42.27Z" fill="#174a82"/>
<path d="M130.61,21.16A128.83,128.83 0 0 1 132.6,20.84L135.8,41.83A107.6,107.6 0 0 0 134.14,42.09Z" fill="#2675b5"/>
<path d="M132.75,20.54A129.1,129.1 0 0 1 133.51,20.43L136.59,41.71A107.6,107.6 0 0 0 135.95,41.8Z" fill="#174a82"/>
<path d="M133.39,18.53A131,131 0 0 1 135.01,18.31L138.05,41.51A107.6,107.6 0 0 0 136.71,41.69Z" fill="#216eb0"/>
<path d="M135.23,18.66A130.62,130.62 0 0 1 135.96,18.57L138.78,41.41A107.6,107.6 0 0 0 138.19,41.49Z" fill="#0d3f75"/>
<path d="M136.02,16.58A132.59,132.59 0 0 1 137.14,16.45L139.94,41.28A107.6,107.6 0 0 0 139.03,41.38Z" fill="#2a7abb"/>
<path d="M138.13,24.03A124.94,124.94 0 0 1 138.88,23.95L140.7,41.19A107.6,107.6 0 0 0 140.06,41.26Z" fill="#174a82"/>
<path d="M138.4,16.56A132.34,132.34 0 0 1 139.55,16.45L141.87,41.08A107.6,107.6 0 0 0 140.94,41.17Z" fill="#216eb0"/>
<path d="M139.62,15.67A133.11,133.11 0 0 1 140.42,15.59L142.64,41.01A107.6,107.6 0 0 0 141.99,41.07Z" fill="#123f70"/>
<path d="M157.91,42.56A105.8,105.8 0 0 1 159.8,42.69L158.9,54.85A93.6,93.6 0 0 0 157.22,54.75Z" fill="#f88d52"/>
<path d="M159.75,42.68A105.8,105.8 0 0 1 162.01,42.87L160.86,55.02A93.6,93.6 0 0 0 158.86,54.85Z" fill="#f88d52"/>
<path d="M161.96,42.87A105.8,105.8 0 0 1 163.85,43.07L162.48,55.19A93.6,93.6 0 0 0 160.81,55.02Z" fill="#fee08b"/>
<path d="M163.79,43.06A105.8,105.8 0 0 1 166.05,43.34L164.43,55.43A93.6,93.6 0 0 0 162.43,55.18Z" fill="#f88d52"/>
<path d="M165.99,43.33A105.8,105.8 0 0 1 168.24,43.65L166.37,55.71A93.6,93.6 0 0 0 164.38,55.42Z" fill="#f46d43"/>
<path d="M168.19,43.65A105.8,105.8 0 0 1 169.52,43.86L167.5,55.89A93.6,93.6 0 0 0 166.32,55.7Z" fill="#f88d52"/>
<path d="M169.46,43.85A105.8,105.8 0 0 1 171.7,44.25L169.43,56.24A93.6,93.6 0 0 0 167.45,55.88Z" fill="#fee08b"/>
<path d="M171.64,44.24A105.8,105.8 0 0 1 174.41,44.8L171.83,56.72A93.6,93.6 0 0 0 169.38,56.23Z" fill="#d73027"/>
<path d="M174.36,44.79A105.8,105.8 0 0 1 175.67,45.08L172.94,56.97A93.6,93.6 0 0 0 171.78,56.71Z" fill="#f46d43"/>
<path d="M175.62,45.07A105.8,105.8 0 0 1 177.47,45.51L174.53,57.35A93.6,93.6 0 0 0 172.9,56.96Z" fill="#fdae61"/>
<path d="M177.42,45.5A105.8,105.8 0 0 1 178.72,45.83L175.64,57.63A93.6,93.6 0 0 0 174.49,57.34Z" fill="#f46d43"/>
<path d="M178.67,45.82A105.8,105.8 0 0 1 180.86,46.41L177.53,58.15A93.6,93.6 0 0 0 175.59,57.62Z" fill="#f88d52"/>
<path d="M180.81,46.4A105.8,105.8 0 0 1 183.52,47.2L179.88,58.85A93.6,93.6 0 0 0 177.49,58.14Z" fill="#d73027"/>
<path d="M183.46,47.19A105.8,105.8 0 0 1 184.4,47.48L180.66,59.1A93.6,93.6 0 0 0 179.83,58.83Z" fill="#d73027"/>
<path d="M184.34,47.46A105.8,105.8 0 0 1 186.15,48.06L182.21,59.61A93.6,93.6 0 0 0 180.61,59.08Z" fill="#e6f598"/>
<path d="M186.1,48.04A105.8,105.8 0 0 1 187.89,48.67L183.75,60.15A93.6,93.6 0 0 0 182.16,59.59Z" fill="#d73027"/>
<path d="M187.84,48.65A105.8,105.8 0 0 1 190.48,49.65L186.05,61.01A93.6,93.6 0 0 0 183.71,60.13Z" fill="#d73027"/>
<path d="M190.43,49.63A105.8,105.8 0 0 1 193.05,50.69L188.32,61.93A93.6,93.6 0 0 0 186,60.99Z" fill="#f46d43"/>
<path d="M193,50.67A105.8,105.8 0 0 1 195.08,51.57L190.12,62.71A93.6,93.6 0 0 0 188.27,61.91Z" fill="#f46d43"/>
<path d="M195.03,51.55A105.8,105.8 0 0 1 197.1,52.49L191.9,63.53A93.6,93.6 0 0 0 190.07,62.69Z" fill="#f46d43"/>
<path d="M197.05,52.47A105.8,105.8 0 0 1 197.93,52.89L192.63,63.88A93.6,93.6 0 0 0 191.85,63.51Z" fill="#f46d43"/>
<path d="M197.88,52.87A105.8,105.8 0 0 1 199.09,53.46L193.66,64.38A93.6,93.6 0 0 0 192.59,63.86Z" fill="#fec980"/>
<path d="M199.04,53.43A105.8,105.8 0 0 1 200.25,54.04L194.68,64.9A93.6,93.6 0 0 0 193.62,64.36Z" fill="#d73027"/>
<path d="M200.2,54.02A105.8,105.8 0 0 1 201.07,54.47L195.41,65.27A93.6,93.6 0 0 0 194.64,64.88Z" fill="#f88d52"/>
<path d="M201.02,54.44A105.8,105.8 0 0 1 202.69,55.34L196.85,66.04A93.6,93.6 0 0 0 195.36,65.25Z" fill="#fdae61"/>
<path d="M202.65,55.31A105.8,105.8 0 0 1 204.31,56.23L198.28,66.84A93.6,93.6 0 0 0 196.81,66.02Z" fill="#ffffbf"/>
<path d="M204.26,56.21A105.8,105.8 0 0 1 205.43,56.88L199.27,67.41A93.6,93.6 0 0 0 198.23,66.82Z" fill="#fee08b"/>
<path d="M205.38,56.85A105.8,105.8 0 0 1 206.54,57.54L200.25,67.99A93.6,93.6 0 0 0 199.22,67.39Z" fill="#d73027"/>
<path d="M206.49,57.51A105.8,105.8 0 0 1 207.8,58.31L201.36,68.68A93.6,93.6 0 0 0 200.21,67.97Z" fill="#fee08b"/>
<path d="M207.75,58.28A105.8,105.8 0 0 1 208.58,58.8L202.06,69.11A93.6,93.6 0 0 0 201.32,68.65Z" fill="#d53e4f"/>
<path d="M208.53,58.77A105.8,105.8 0 0 1 209.36,59.3L202.75,69.55A93.6,93.6 0 0 0 202.02,69.08Z" fill="#fee08b"/>
<path d="M209.31,59.27A105.8,105.8 0 0 1 211.67,60.83L204.79,70.9A93.6,93.6 0 0 0 202.7,69.52Z" fill="#fdae61"/>
<path d="M211.62,60.8A105.8,105.8 0 0 1 213.18,61.88L206.13,71.84A93.6,93.6 0 0 0 204.75,70.88Z" fill="#fee08b"/>
<path d="M213.14,61.85A105.8,105.8 0 0 1 213.93,62.42L206.79,72.31A93.6,93.6 0 0 0 206.09,71.81Z" fill="#f88d52"/>
<path d="M213.89,62.39A105.8,105.8 0 0 1 215.13,63.29L207.85,73.09A93.6,93.6 0 0 0 206.75,72.28Z" fill="#fdae61"/>
<path d="M215.08,63.26A105.8,105.8 0 0 1 216.16,64.07L208.76,73.77A93.6,93.6 0 0 0 207.81,73.06Z" fill="#fee08b"/>
<path d="M216.11,64.04A105.8,105.8 0 0 1 217.33,64.98L209.79,74.57A93.6,93.6 0 0 0 208.72,73.74Z" fill="#f46d43"/>
<path d="M217.28,64.94A105.8,105.8 0 0 1 218.05,65.55L210.43,75.08A93.6,93.6 0 0 0 209.75,74.54Z" fill="#ffffbf"/>
<path d="M218.01,65.52A105.8,105.8 0 0 1 218.77,66.13L211.07,75.59A93.6,93.6 0 0 0 210.4,75.05Z" fill="#fdae61"/>
<path d="M218.73,66.09A105.8,105.8 0 0 1 219.48,66.72L211.7,76.11A93.6,93.6 0 0 0 211.03,75.56Z" fill="#f88d52"/>
<path d="M219.44,66.68A105.8,105.8 0 0 1 220.61,67.67L212.7,76.95A93.6,93.6 0 0 0 211.66,76.08Z" fill="#fdae61"/>
<path d="M220.57,67.63A105.8,105.8 0 0 1 221.31,68.27L213.32,77.48A93.6,93.6 0 0 0 212.66,76.92Z" fill="#e6f598"/>
<path d="M221.27,68.23A105.8,105.8 0 0 1 222.01,68.87L213.94,78.02A93.6,93.6 0 0 0 213.28,77.45Z" fill="#f88d52"/>
<path d="M221.97,68.84A105.8,105.8 0 0 1 224.06,70.73L215.75,79.67A93.6,93.6 0 0 0 213.9,77.99Z" fill="#f46d43"/>
<path d="M224.02,70.7A105.8,105.8 0 0 1 225,71.62L216.58,80.45A93.6,93.6 0 0 0 215.72,79.63Z" fill="#f46d43"/>
<path d="M224.96,71.58A105.8,105.8 0 0 1 225.67,72.26L217.17,81.02A93.6,93.6 0 0 0 216.55,80.42Z" fill="#fee08b"/>
<path d="M225.63,72.22A105.8,105.8 0 0 1 226.98,73.56L218.34,82.17A93.6,93.6 0 0 0 217.14,80.98Z" fill="#f88d52"/>
<path d="M226.94,73.52A105.8,105.8 0 0 1 228.27,74.88L219.48,83.33A93.6,93.6 0 0 0 218.3,82.13Z" fill="#fdae61"/>
<path d="M228.23,74.84A105.8,105.8 0 0 1 228.91,75.55L220.04,83.92A93.6,93.6 0 0 0 219.44,83.3Z" fill="#ffffbf"/>
<path d="M228.87,75.51A105.8,105.8 0 0 1 230.79,77.58L221.7,85.73A93.6,93.6 0 0 0 220.01,83.89Z" fill="#f46d43"/>
<path d="M230.75,77.54A105.8,105.8 0 0 1 232.61,79.67L223.31,87.57A93.6,93.6 0 0 0 221.67,85.69Z" fill="#fdae61"/>
<path d="M232.57,79.63A105.8,105.8 0 0 1 233.56,80.8L224.15,88.57A93.6,93.6 0 0 0 223.28,87.54Z" fill="#f46d43"/>
<path d="M233.52,80.76A105.8,105.8 0 0 1 234.49,81.95L224.98,89.59A93.6,93.6 0 0 0 224.12,88.54Z" fill="#fdae61"/>
<path d="M234.45,81.91A105.8,105.8 0 0 1 235.06,82.67L225.49,90.23A93.6,93.6 0 0 0 224.95,89.55Z" fill="#e6f598"/>
<path d="M235.03,82.63A105.8,105.8 0 0 1 236.19,84.13L226.49,91.52A93.6,93.6 0 0 0 225.46,90.19Z" fill="#f88d52"/>
<path d="M236.16,84.09A105.8,105.8 0 0 1 236.75,84.87L226.98,92.17A93.6,93.6 0 0 0 226.46,91.48Z" fill="#f46d43"/>
<path d="M236.72,84.82A105.8,105.8 0 0 1 237.52,85.91L227.66,93.09A93.6,93.6 0 0 0 226.95,92.13Z" fill="#f88d52"/>
<path d="M237.49,85.86A105.8,105.8 0 0 1 238.06,86.66L228.13,93.75A93.6,93.6 0 0 0 227.63,93.05Z" fill="#f46d43"/>
<path d="M238.03,86.61A105.8,105.8 0 0 1 238.59,87.41L228.61,94.42A93.6,93.6 0 0 0 228.11,93.71Z" fill="#fee08b"/>
<path d="M238.56,87.36A105.8,105.8 0 0 1 239.64,88.93L229.53,95.76A93.6,93.6 0 0 0 228.58,94.38Z" fill="#f46d43"/>
<path d="M239.61,88.88A105.8,105.8 0 0 1 241.16,91.24L230.88,97.81A93.6,93.6 0 0 0 229.51,95.72Z" fill="#fee08b"/>
<path d="M241.13,91.2A105.8,105.8 0 0 1 241.85,92.34L231.49,98.78A93.6,93.6 0 0 0 230.85,97.77Z" fill="#fee08b"/>
<path d="M241.82,92.29A105.8,105.8 0 0 1 243,94.23L232.51,100.46A93.6,93.6 0 0 0 231.46,98.74Z" fill="#f46d43"/>
<path d="M242.97,94.18A105.8,105.8 0 0 1 244.17,96.26L233.55,102.25A93.6,93.6 0 0 0 232.48,100.41Z" fill="#f88d52"/>
<path d="M246.77,101.16A105.8,105.8 0 0 1 247.36,102.37L236.36,107.65A93.6,93.6 0 0 0 235.84,106.58Z" fill="#fdae61"/>
<path d="M247.33,102.32A105.8,105.8 0 0 1 248.53,104.88L237.39,109.88A93.6,93.6 0 0 0 236.34,107.61Z" fill="#fdae61"/>
<path d="M248.5,104.83A105.8,105.8 0 0 1 248.9,105.72L237.73,110.62A93.6,93.6 0 0 0 237.37,109.83Z" fill="#fdae61"/>
<path d="M248.88,105.67A105.8,105.8 0 0 1 249.63,107.42L238.37,112.12A93.6,93.6 0 0 0 237.71,110.58Z" fill="#f46d43"/>
<path d="M249.6,107.37A105.8,105.8 0 0 1 249.98,108.28L238.68,112.88A93.6,93.6 0 0 0 238.35,112.08Z" fill="#fdae61"/>
<path d="M249.96,108.22A105.8,105.8 0 0 1 250.79,110.34L239.4,114.7A93.6,93.6 0 0 0 238.66,112.83Z" fill="#fdae61"/>
<path d="M250.77,110.28A105.8,105.8 0 0 1 251.12,111.2L239.69,115.47A93.6,93.6 0 0 0 239.38,114.66Z" fill="#f46d43"/>
<path d="M251.1,111.15A105.8,105.8 0 0 1 251.56,112.41L240.08,116.54A93.6,93.6 0 0 0 239.67,115.42Z" fill="#fdae61"/>
<path d="M251.55,112.36A105.8,105.8 0 0 1 252.29,114.51L240.73,118.39A93.6,93.6 0 0 0 240.07,116.49Z" fill="#d73027"/>
<path d="M252.27,114.45A105.8,105.8 0 0 1 252.98,116.61L241.33,120.26A93.6,93.6 0 0 0 240.71,118.35Z" fill="#f46d43"/>
<path d="M252.96,116.56A105.8,105.8 0 0 1 253.25,117.5L241.57,121.04A93.6,93.6 0 0 0 241.32,120.21Z" fill="#f46d43"/>
<path d="M253.23,117.44A105.8,105.8 0 0 1 253.61,118.74L241.9,122.13A93.6,93.6 0 0 0 241.56,120.99Z" fill="#fee08b"/>
<path d="M253.6,118.68A105.8,105.8 0 0 1 254.02,120.16L242.25,123.39A93.6,93.6 0 0 0 241.88,122.09Z" fill="#f46d43"/>
<path d="M254,120.1A105.8,105.8 0 0 1 254.58,122.3L242.75,125.29A93.6,93.6 0 0 0 242.24,123.34Z" fill="#fdae61"/>
<path d="M254.57,122.25A105.8,105.8 0 0 1 254.93,123.73L243.06,126.56A93.6,93.6 0 0 0 242.74,125.24Z" fill="#fdae61"/>
<path d="M254.92,123.68A105.8,105.8 0 0 1 255.14,124.63L243.25,127.35A93.6,93.6 0 0 0 243.05,126.51Z" fill="#f46d43"/>
<path d="M255.13,124.58A105.8,105.8 0 0 1 255.34,125.54L243.43,128.15A93.6,93.6 0 0 0 243.24,127.3Z" fill="#f46d43"/>
<path d="M255.33,125.48A105.8,105.8 0 0 1 255.8,127.7L243.83,130.07A93.6,93.6 0 0 0 243.42,128.1Z" fill="#d73027"/>
<path d="M255.79,127.65A105.8,105.8 0 0 1 256.04,128.97L244.04,131.19A93.6,93.6 0 0 0 243.82,130.02Z" fill="#f46d43"/>
<path d="M256.03,128.92A105.8,105.8 0 0 1 256.42,131.16L244.38,133.12A93.6,93.6 0 0 0 244.03,131.14Z" fill="#fdae61"/>
<path d="M256.41,131.1A105.8,105.8 0 0 1 256.65,132.62L244.58,134.41A93.6,93.6 0 0 0 244.37,133.07Z" fill="#d73027"/>
<path d="M256.64,132.56A105.8,105.8 0 0 1 256.9,134.45L244.81,136.03A93.6,93.6 0 0 0 244.57,134.37Z" fill="#f46d43"/>
<path d="M256.89,134.39A105.8,105.8 0 0 1 257.17,136.65L245.04,137.98A93.6,93.6 0 0 0 244.8,135.98Z" fill="#fee08b"/>
<path d="M257.16,136.59A105.8,105.8 0 0 1 257.39,138.85L245.23,139.93A93.6,93.6 0 0 0 245.03,137.93Z" fill="#f46d43"/>
<path d="M257.38,138.79A105.8,105.8 0 0 1 257.53,140.69L245.36,141.56A93.6,93.6 0 0 0 245.23,139.88Z" fill="#f46d43"/>
<path d="M257.53,140.64A105.8,105.8 0 0 1 257.69,143.46L245.51,144A93.6,93.6 0 0 0 245.36,141.51Z" fill="#f46d43"/>
<path d="M257.69,143.4A105.8,105.8 0 0 1 257.75,144.93L245.56,145.31A93.6,93.6 0 0 0 245.5,143.95Z" fill="#fec980"/>
<path d="M257.75,144.88A105.8,105.8 0 0 1 257.78,146.22L245.58,146.45A93.6,93.6 0 0 0 245.55,145.26Z" fill="#f88d52"/>
<path d="M257.78,146.17A105.8,105.8 0 0 1 257.8,148.44L245.6,148.41A93.6,93.6 0 0 0 245.58,146.4Z" fill="#fdae61"/>
<path d="M257.8,148.38A105.8,105.8 0 0 1 257.76,151.21L245.56,150.86A93.6,93.6 0 0 0 245.6,148.36Z" fill="#f46d43"/>
<path d="M257.76,151.15A105.8,105.8 0 0 1 257.71,152.5L245.52,152.01A93.6,93.6 0 0 0 245.56,150.81Z" fill="#f88d52"/>
<path d="M257.71,152.45A105.8,105.8 0 0 1 257.56,155.27L245.39,154.45A93.6,93.6 0 0 0 245.52,151.96Z" fill="#e6f598"/>
<path d="M257.57,155.21A105.8,105.8 0 0 1 257.39,157.48L245.24,156.41A93.6,93.6 0 0 0 245.39,154.4Z" fill="#f46d43"/>
<path d="M257.4,157.42A105.8,105.8 0 0 1 257.11,160.23L244.99,158.84A93.6,93.6 0 0 0 245.24,156.36Z" fill="#e6f598"/>
<path d="M257.12,160.18A105.8,105.8 0 0 1 256.89,162.06L244.79,160.47A93.6,93.6 0 0 0 245,158.8Z" fill="#fec980"/>
<path d="M256.89,162.01A105.8,105.8 0 0 1 256.63,163.89L244.56,162.08A93.6,93.6 0 0 0 244.8,160.42Z" fill="#d73027"/>
<path d="M256.64,163.84A105.8,105.8 0 0 1 256.49,164.81L244.44,162.89A93.6,93.6 0 0 0 244.57,162.03Z" fill="#fdae61"/>
<path d="M256.5,164.75A105.8,105.8 0 0 1 256.34,165.72L244.31,163.7A93.6,93.6 0 0 0 244.45,162.84Z" fill="#f46d43"/>
<path d="M256.35,165.66A105.8,105.8 0 0 1 256.18,166.63L244.17,164.5A93.6,93.6 0 0 0 244.32,163.65Z" fill="#f46d43"/>
<path d="M256.19,166.57A105.8,105.8 0 0 1 255.77,168.8L243.81,166.43A93.6,93.6 0 0 0 244.18,164.45Z" fill="#e6f598"/>
<path d="M255.79,168.75A105.8,105.8 0 0 1 255.48,170.25L243.54,167.71A93.6,93.6 0 0 0 243.82,166.38Z" fill="#fdae61"/>
<path d="M255.49,170.2A105.8,105.8 0 0 1 254.86,172.95L243,170.1A93.6,93.6 0 0 0 243.55,167.66Z" fill="#f88d52"/>
<path d="M254.88,172.9A105.8,105.8 0 0 1 254.42,174.74L242.61,171.68A93.6,93.6 0 0 0 243.01,170.05Z" fill="#fdae61"/>
<path d="M254.43,174.69A105.8,105.8 0 0 1 253.94,176.53L242.18,173.26A93.6,93.6 0 0 0 242.62,171.64Z" fill="#f88d52"/>
<path d="M253.95,176.47A105.8,105.8 0 0 1 253.65,177.54L241.93,174.16A93.6,93.6 0 0 0 242.2,173.21Z" fill="#fee08b"/>
<path d="M252.04,182.65A105.8,105.8 0 0 1 251.53,184.09L240.05,179.95A93.6,93.6 0 0 0 240.5,178.67Z" fill="#fee08b"/>
<path d="M251.55,184.04A105.8,105.8 0 0 1 251.08,185.3L239.66,181.03A93.6,93.6 0 0 0 240.07,179.91Z" fill="#fec980"/>
<path d="M251.1,185.25A105.8,105.8 0 0 1 250.08,187.88L238.77,183.31A93.6,93.6 0 0 0 239.67,180.98Z" fill="#f46d43"/>
<path d="M250.1,187.83A105.8,105.8 0 0 1 249.58,189.08L238.33,184.37A93.6,93.6 0 0 0 238.78,183.26Z" fill="#fdae61"/>
<path d="M249.6,189.03A105.8,105.8 0 0 1 248.85,190.78L237.69,185.87A93.6,93.6 0 0 0 238.35,184.32Z" fill="#fee08b"/>
<path d="M248.88,190.73A105.8,105.8 0 0 1 247.71,193.3L236.67,188.1A93.6,93.6 0 0 0 237.71,185.82Z" fill="#f88d52"/>
<path d="M247.73,193.25A105.8,105.8 0 0 1 246.74,195.29L235.82,189.86A93.6,93.6 0 0 0 236.69,188.05Z" fill="#d73027"/>
<path d="M246.77,195.24A105.8,105.8 0 0 1 246.33,196.12L235.45,190.59A93.6,93.6 0 0 0 235.84,189.82Z" fill="#fdae61"/>
<path d="M246.35,196.07A105.8,105.8 0 0 1 245.73,197.27L234.93,191.61A93.6,93.6 0 0 0 235.47,190.55Z" fill="#fec980"/>
<path d="M245.76,197.22A105.8,105.8 0 0 1 245.13,198.41L234.39,192.62A93.6,93.6 0 0 0 234.95,191.56Z" fill="#f88d52"/>
<path d="M245.15,198.36A105.8,105.8 0 0 1 244.69,199.22L234,193.34A93.6,93.6 0 0 0 234.41,192.57Z" fill="#f46d43"/>
<path d="M244.71,199.17A105.8,105.8 0 0 1 243.97,200.51L233.36,194.48A93.6,93.6 0 0 0 234.02,193.29Z" fill="#fdae61"/>
<path d="M243.99,200.46A105.8,105.8 0 0 1 243.04,202.1L232.54,195.89A93.6,93.6 0 0 0 233.38,194.43Z" fill="#fdae61"/>
<path d="M243.07,202.06A105.8,105.8 0 0 1 242.56,202.9L232.12,196.59A93.6,93.6 0 0 0 232.57,195.85Z" fill="#f46d43"/>
<path d="M242.59,202.85A105.8,105.8 0 0 1 241.89,204L231.52,197.56A93.6,93.6 0 0 0 232.15,196.55Z" fill="#fdae61"/>
<path d="M241.92,203.95A105.8,105.8 0 0 1 241.1,205.25L230.83,198.67A93.6,93.6 0 0 0 231.55,197.52Z" fill="#fee08b"/>
<path d="M241.13,205.2A105.8,105.8 0 0 1 239.89,207.1L229.75,200.31A93.6,93.6 0 0 0 230.85,198.63Z" fill="#f46d43"/>
<path d="M239.92,207.06A105.8,105.8 0 0 1 239.37,207.87L229.3,200.99A93.6,93.6 0 0 0 229.78,200.27Z" fill="#fdae61"/>
<path d="M239.4,207.82A105.8,105.8 0 0 1 238.63,208.93L228.64,201.93A93.6,93.6 0 0 0 229.32,200.95Z" fill="#fec980"/>
<path d="M238.67,208.88A105.8,105.8 0 0 1 237.56,210.43L227.7,203.26A93.6,93.6 0 0 0 228.67,201.89Z" fill="#fdae61"/>
<path d="M237.59,210.39A105.8,105.8 0 0 1 235.9,212.65L226.23,205.22A93.6,93.6 0 0 0 227.72,203.22Z" fill="#f88d52"/>
<path d="M235.94,212.61A105.8,105.8 0 0 1 234.19,214.83L224.71,207.14A93.6,93.6 0 0 0 226.26,205.18Z" fill="#fee08b"/>
<path d="M234.22,214.78A105.8,105.8 0 0 1 232.77,216.53L223.46,208.65A93.6,93.6 0 0 0 224.74,207.1Z" fill="#e6f598"/>
<path d="M232.81,216.49A105.8,105.8 0 0 1 231.93,217.51L222.72,209.52A93.6,93.6 0 0 0 223.49,208.61Z" fill="#ffffbf"/>
<path d="M231.97,217.47A105.8,105.8 0 0 1 231.33,218.21L222.18,210.14A93.6,93.6 0 0 0 222.75,209.48Z" fill="#fec980"/>
<path d="M231.36,218.17A105.8,105.8 0 0 1 230.71,218.9L221.63,210.75A93.6,93.6 0 0 0 222.21,210.1Z" fill="#fee08b"/>
<path d="M230.75,218.86A105.8,105.8 0 0 1 229.72,219.99L220.75,211.71A93.6,93.6 0 0 0 221.67,210.71Z" fill="#f88d52"/>
<path d="M229.75,219.95A105.8,105.8 0 0 1 228.71,221.07L219.86,212.67A93.6,93.6 0 0 0 220.79,211.68Z" fill="#e6f598"/>
<path d="M228.74,221.03A105.8,105.8 0 0 1 228.07,221.73L219.3,213.26A93.6,93.6 0 0 0 219.9,212.63Z" fill="#f46d43"/>
<path d="M228.11,221.69A105.8,105.8 0 0 1 226.51,223.31L217.92,214.65A93.6,93.6 0 0 0 219.33,213.22Z" fill="#d73027"/>
<path d="M226.55,223.27A105.8,105.8 0 0 1 225.85,223.96L217.34,215.22A93.6,93.6 0 0 0 217.95,214.62Z" fill="#fee08b"/>
<path d="M225.89,223.92A105.8,105.8 0 0 1 225.19,224.6L216.75,215.79A93.6,93.6 0 0 0 217.37,215.19Z" fill="#f88d52"/>
<path d="M225.23,224.56A105.8,105.8 0 0 1 224.11,225.61L215.8,216.69A93.6,93.6 0 0 0 216.78,215.76Z" fill="#fdae61"/>
<path d="M224.16,225.58A105.8,105.8 0 0 1 223.16,226.49L214.96,217.46A93.6,93.6 0 0 0 215.84,216.65Z" fill="#f46d43"/>
<path d="M223.2,226.45A105.8,105.8 0 0 1 222.48,227.11L214.35,218.01A93.6,93.6 0 0 0 214.99,217.43Z" fill="#fee08b"/>
<path d="M222.52,227.07A105.8,105.8 0 0 1 220.81,228.57L212.88,219.3A93.6,93.6 0 0 0 214.39,217.98Z" fill="#fdae61"/>
<path d="M220.85,228.53A105.8,105.8 0 0 1 218.68,230.34L210.99,220.87A93.6,93.6 0 0 0 212.91,219.27Z" fill="#f46d43"/>
<path d="M218.73,230.31A105.8,105.8 0 0 1 216.51,232.06L209.07,222.39A93.6,93.6 0 0 0 211.03,220.84Z" fill="#f88d52"/>
<path d="M216.55,232.02A105.8,105.8 0 0 1 214.29,233.72L207.11,223.86A93.6,93.6 0 0 0 209.11,222.36Z" fill="#f46d43"/>
<path d="M214.34,233.69A105.8,105.8 0 0 1 213.09,234.58L206.05,224.62A93.6,93.6 0 0 0 207.15,223.83Z" fill="#fdae61"/>
<path d="M213.14,234.55A105.8,105.8 0 0 1 212.34,235.11L205.38,225.09A93.6,93.6 0 0 0 206.09,224.59Z" fill="#d53e4f"/>
<path d="M212.38,235.08A105.8,105.8 0 0 1 210.81,236.15L204.03,226.01A93.6,93.6 0 0 0 205.42,225.06Z" fill="#fec980"/>
<path d="M210.86,236.12A105.8,105.8 0 0 1 210.04,236.66L203.35,226.46A93.6,93.6 0 0 0 204.07,225.98Z" fill="#f88d52"/>
<path d="M210.09,236.63A105.8,105.8 0 0 1 208.49,237.66L201.97,227.34A93.6,93.6 0 0 0 203.39,226.43Z" fill="#e6f598"/>
<path d="M208.53,237.63A105.8,105.8 0 0 1 207.7,238.15L201.28,227.78A93.6,93.6 0 0 0 202.02,227.32Z" fill="#f88d52"/>
<path d="M207.75,238.12A105.8,105.8 0 0 1 206.13,239.11L199.89,228.62A93.6,93.6 0 0 0 201.32,227.75Z" fill="#ffffbf"/>
<path d="M206.17,239.08A105.8,105.8 0 0 1 205.33,239.58L199.18,229.04A93.6,93.6 0 0 0 199.93,228.6Z" fill="#d73027"/>
<path d="M205.38,239.55A105.8,105.8 0 0 1 202.92,240.94L197.05,230.25A93.6,93.6 0 0 0 199.22,229.01Z" fill="#fdae61"/>
<path d="M202.97,240.91A105.8,105.8 0 0 1 201.29,241.81L195.61,231.02A93.6,93.6 0 0 0 197.09,230.22Z" fill="#ffffbf"/>
<path d="M201.34,241.79A105.8,105.8 0 0 1 200.48,242.24L194.89,231.4A93.6,93.6 0 0 0 195.65,231Z" fill="#d73027"/>
<path d="M200.53,242.22A105.8,105.8 0 0 1 199.65,242.66L194.16,231.77A93.6,93.6 0 0 0 194.93,231.37Z" fill="#f46d43"/>
<path d="M199.7,242.64A105.8,105.8 0 0 1 198.83,243.07L193.43,232.13A93.6,93.6 0 0 0 194.2,231.75Z" fill="#d73027"/>
<path d="M198.88,243.05A105.8,105.8 0 0 1 198.38,243.29L193.03,232.33A93.6,93.6 0 0 0 193.47,232.11Z" fill="#fdae61"/>
<path d="M192.91,245.77A105.8,105.8 0 0 1 191.15,246.49L186.64,235.15A93.6,93.6 0 0 0 188.2,234.52Z" fill="#f88d52"/>
<path d="M191.2,246.47A105.8,105.8 0 0 1 189.78,247.03L185.42,235.63A93.6,93.6 0 0 0 186.68,235.14Z" fill="#fdae61"/>
<path d="M189.83,247.01A105.8,105.8 0 0 1 187.18,247.98L183.12,236.47A93.6,93.6 0 0 0 185.47,235.61Z" fill="#f88d52"/>
<path d="M187.23,247.96A105.8,105.8 0 0 1 185.08,248.7L181.27,237.11A93.6,93.6 0 0 0 183.17,236.46Z" fill="#fee08b"/>
<path d="M185.13,248.68A105.8,105.8 0 0 1 183.32,249.26L179.71,237.6A93.6,93.6 0 0 0 181.31,237.09Z" fill="#fee08b"/>
<path d="M183.37,249.24A105.8,105.8 0 0 1 181.2,249.89L177.83,238.17A93.6,93.6 0 0 0 179.76,237.59Z" fill="#f46d43"/>
<path d="M181.25,249.88A105.8,105.8 0 0 1 179.06,250.48L175.94,238.69A93.6,93.6 0 0 0 177.88,238.15Z" fill="#f88d52"/>
<path d="M179.12,250.47A105.8,105.8 0 0 1 176.91,251.02L174.04,239.17A93.6,93.6 0 0 0 175.99,238.67Z" fill="#f46d43"/>
<path d="M176.97,251.01A105.8,105.8 0 0 1 175.48,251.36L172.77,239.47A93.6,93.6 0 0 0 174.09,239.16Z" fill="#d73027"/>
<path d="M175.53,251.35A105.8,105.8 0 0 1 174.57,251.56L171.97,239.64A93.6,93.6 0 0 0 172.82,239.46Z" fill="#fee08b"/>
<path d="M174.63,251.55A105.8,105.8 0 0 1 173.67,251.76L171.17,239.82A93.6,93.6 0 0 0 172.02,239.63Z" fill="#fdae61"/>
<path d="M173.73,251.75A105.8,105.8 0 0 1 170.95,252.29L168.77,240.29A93.6,93.6 0 0 0 171.22,239.81Z" fill="#f46d43"/>
<path d="M171.01,252.28A105.8,105.8 0 0 1 169.13,252.6L167.16,240.56A93.6,93.6 0 0 0 168.82,240.28Z" fill="#f88d52"/>
<path d="M169.19,252.59A105.8,105.8 0 0 1 166.94,252.94L165.22,240.86A93.6,93.6 0 0 0 167.21,240.56Z" fill="#d53e4f"/>
<path d="M167,252.93A105.8,105.8 0 0 1 165.11,253.18L163.6,241.08A93.6,93.6 0 0 0 165.27,240.85Z" fill="#fdae61"/>
<path d="M165.17,253.18A105.8,105.8 0 0 1 164.2,253.29L162.79,241.18A93.6,93.6 0 0 0 163.65,241.07Z" fill="#fdae61"/>
<path d="M164.25,253.29A105.8,105.8 0 0 1 162.73,253.45L161.49,241.32A93.6,93.6 0 0 0 162.84,241.17Z" fill="#f46d43"/>
<path d="M162.78,253.45A105.8,105.8 0 0 1 159.97,253.7L159.05,241.53A93.6,93.6 0 0 0 161.54,241.31Z" fill="#d73027"/>
<path d="M160.02,253.7A105.8,105.8 0 0 1 158.68,253.79L157.91,241.61A93.6,93.6 0 0 0 159.1,241.53Z" fill="#fee08b"/>
<path d="M158.74,253.79A105.8,105.8 0 0 1 157.39,253.86L156.77,241.68A93.6,93.6 0 0 0 157.96,241.61Z" fill="#f88d52"/>
<path d="M157.44,253.86A105.8,105.8 0 0 1 155.91,253.93L155.46,241.74A93.6,93.6 0 0 0 156.82,241.68Z" fill="#d53e4f"/>
<path d="M155.97,253.93A105.8,105.8 0 0 1 154.07,253.98L153.83,241.78A93.6,93.6 0 0 0 155.51,241.73Z" fill="#fee08b"/>
<path d="M154.12,253.98A105.8,105.8 0 0 1 152.78,254L152.69,241.8A93.6,93.6 0 0 0 153.88,241.78Z" fill="#fdae61"/>
<path d="M152.83,254A105.8,105.8 0 0 1 150.93,253.99L151.05,241.8A93.6,93.6 0 0 0 152.74,241.8Z" fill="#d53e4f"/>
<path d="M150.98,254A105.8,105.8 0 0 1 149.45,253.97L149.75,241.77A93.6,93.6 0 0 0 151.1,241.8Z" fill="#f46d43"/>
<path d="M149.51,253.97A105.8,105.8 0 0 1 146.68,253.87L147.3,241.68A93.6,93.6 0 0 0 149.79,241.77Z" fill="#fdae61"/>
<path d="M146.74,253.87A105.8,105.8 0 0 1 145.39,253.79L146.16,241.62A93.6,93.6 0 0 0 147.35,241.68Z" fill="#fec980"/>
<path d="M145.45,253.8A105.8,105.8 0 0 1 144.1,253.7L145.01,241.54A93.6,93.6 0 0 0 146.2,241.62Z" fill="#fdae61"/>
<path d="M144.16,253.71A105.8,105.8 0 0 1 142.82,253.6L143.87,241.45A93.6,93.6 0 0 0 145.06,241.54Z" fill="#ffffbf"/>
<path d="M142.87,253.61A105.8,105.8 0 0 1 141.34,253.46L142.57,241.32A93.6,93.6 0 0 0 143.92,241.45Z" fill="#f46d43"/>
<path d="M141.4,253.47A105.8,105.8 0 0 1 140.06,253.32L141.44,241.2A93.6,93.6 0 0 0 142.62,241.33Z" fill="#f46d43"/>
<path d="M140.11,253.33A105.8,105.8 0 0 1 138.23,253.1L139.82,241A93.6,93.6 0 0 0 141.49,241.21Z" fill="#fdae61"/>
<path d="M138.28,253.11A105.8,105.8 0 0 1 137.31,252.98L139.01,240.89A93.6,93.6 0 0 0 139.86,241.01Z" fill="#f88d52"/>
<path d="M137.37,252.98A105.8,105.8 0 0 1 136.4,252.84L138.2,240.78A93.6,93.6 0 0 0 139.05,240.9Z" fill="#e6f598"/>
<path d="M136.45,252.85A105.8,105.8 0 0 1 134.94,252.62L136.91,240.57A93.6,93.6 0 0 0 138.25,240.78Z" fill="#f88d52"/>
<path d="M134.99,252.62A105.8,105.8 0 0 1 133.66,252.4L135.78,240.38A93.6,93.6 0 0 0 136.95,240.58Z" fill="#f46d43"/>
<path d="M133.72,252.41A105.8,105.8 0 0 1 131.85,252.06L134.17,240.09A93.6,93.6 0 0 0 135.83,240.39Z" fill="#fee08b"/>
<path d="M131.9,252.07A105.8,105.8 0 0 1 130.4,251.77L132.89,239.83A93.6,93.6 0 0 0 134.22,240.1Z" fill="#fec980"/>
<path d="M130.45,251.78A105.8,105.8 0 0 1 129.14,251.5L131.77,239.59A93.6,93.6 0 0 0 132.94,239.84Z" fill="#f88d52"/>
<path d="M129.19,251.51A105.8,105.8 0 0 1 127.84,251.2L130.63,239.33A93.6,93.6 0 0 0 131.82,239.6Z" fill="#fdae61"/>
<path d="M121.77,249.59A105.8,105.8 0 0 1 119.08,248.75L122.87,237.15A93.6,93.6 0 0 0 125.26,237.9Z" fill="#d53e4f"/>
<path d="M119.13,248.76A105.8,105.8 0 0 1 117.33,248.16L121.33,236.63A93.6,93.6 0 0 0 122.92,237.17Z" fill="#d73027"/>
<path d="M117.38,248.18A105.8,105.8 0 0 1 114.72,247.22L119.02,235.8A93.6,93.6 0 0 0 121.37,236.65Z" fill="#fec980"/>
<path d="M114.78,247.24A105.8,105.8 0 0 1 113.34,246.69L117.8,235.33A93.6,93.6 0 0 0 119.07,235.82Z" fill="#f46d43"/>
<path d="M113.4,246.71A105.8,105.8 0 0 1 112.49,246.34L117.04,235.03A93.6,93.6 0 0 0 117.85,235.35Z" fill="#fee08b"/>
<path d="M112.54,246.37A105.8,105.8 0 0 1 110.44,245.5L115.23,234.28A93.6,93.6 0 0 0 117.09,235.05Z" fill="#f46d43"/>
<path d="M110.49,245.52A105.8,105.8 0 0 1 107.91,244.37L112.99,233.28A93.6,93.6 0 0 0 115.28,234.3Z" fill="#fee08b"/>
<path d="M107.96,244.4A105.8,105.8 0 0 1 105.9,243.43L111.22,232.45A93.6,93.6 0 0 0 113.04,233.3Z" fill="#f88d52"/>
<path d="M105.95,243.45A105.8,105.8 0 0 1 104.58,242.78L110.05,231.87A93.6,93.6 0 0 0 111.26,232.47Z" fill="#f46d43"/>
<path d="M104.63,242.8A105.8,105.8 0 0 1 102.12,241.5L107.87,230.74A93.6,93.6 0 0 0 110.09,231.89Z" fill="#fdae61"/>
<path d="M102.17,241.53A105.8,105.8 0 0 1 100.5,240.62L106.44,229.96A93.6,93.6 0 0 0 107.91,230.77Z" fill="#fec980"/>
<path d="M100.55,240.65A105.8,105.8 0 0 1 99.37,239.98L105.44,229.4A93.6,93.6 0 0 0 106.48,229.99Z" fill="#f46d43"/>
<path d="M99.42,240.01A105.8,105.8 0 0 1 98.1,239.24L104.31,228.74A93.6,93.6 0 0 0 105.48,229.42Z" fill="#fee08b"/>
<path d="M98.14,239.27A105.8,105.8 0 0 1 96.99,238.57L103.33,228.15A93.6,93.6 0 0 0 104.35,228.77Z" fill="#f46d43"/>
<path d="M97.03,238.6A105.8,105.8 0 0 1 94.64,237.1L101.25,226.85A93.6,93.6 0 0 0 103.37,228.18Z" fill="#fdae61"/>
<path d="M94.69,237.13A105.8,105.8 0 0 1 93.1,236.09L99.89,225.95A93.6,93.6 0 0 0 101.3,226.88Z" fill="#f46d43"/>
<path d="M93.14,236.12A105.8,105.8 0 0 1 90.82,234.52L97.87,224.56A93.6,93.6 0 0 0 99.93,225.98Z" fill="#d53e4f"/>
<path d="M90.86,234.55A105.8,105.8 0 0 1 88.58,232.88L95.89,223.12A93.6,93.6 0 0 0 97.91,224.59Z" fill="#f88d52"/>
<path d="M88.62,232.92A105.8,105.8 0 0 1 87.84,232.33L95.24,222.63A93.6,93.6 0 0 0 95.93,223.15Z" fill="#fdae61"/>
<path d="M87.89,232.36A105.8,105.8 0 0 1 86.82,231.54L94.34,221.93A93.6,93.6 0 0 0 95.28,222.66Z" fill="#e6f598"/>
<path d="M86.86,231.57A105.8,105.8 0 0 1 85.66,230.62L93.31,221.12A93.6,93.6 0 0 0 94.37,221.96Z" fill="#fdae61"/>
<path d="M81.21,226.82A105.8,105.8 0 0 1 79.13,224.91L87.53,216.06A93.6,93.6 0 0 0 89.37,217.76Z" fill="#f46d43"/>
<path d="M79.17,224.94A105.8,105.8 0 0 1 77.8,223.62L86.36,214.93A93.6,93.6 0 0 0 87.57,216.1Z" fill="#d53e4f"/>
<path d="M77.84,223.66A105.8,105.8 0 0 1 75.86,221.65L84.64,213.18A93.6,93.6 0 0 0 86.39,214.96Z" fill="#f46d43"/>
<path d="M75.89,221.69A105.8,105.8 0 0 1 74.96,220.72L83.85,212.36A93.6,93.6 0 0 0 84.67,213.22Z" fill="#fee08b"/>
<path d="M75,220.76A105.8,105.8 0 0 1 73.96,219.64L82.96,211.4A93.6,93.6 0 0 0 83.88,212.39Z" fill="#f88d52"/>
<path d="M74,219.68A105.8,105.8 0 0 1 72.48,217.99L81.65,209.94A93.6,93.6 0 0 0 82.99,211.44Z" fill="#d53e4f"/>
<path d="M72.52,218.03A105.8,105.8 0 0 1 71.04,216.31L80.37,208.45A93.6,93.6 0 0 0 81.68,209.98Z" fill="#fdae61"/>
<path d="M71.07,216.35A105.8,105.8 0 0 1 69.86,214.88L79.33,207.19A93.6,93.6 0 0 0 80.4,208.49Z" fill="#fee08b"/>
<path d="M69.89,214.93A105.8,105.8 0 0 1 69.28,214.16L78.82,206.56A93.6,93.6 0 0 0 79.36,207.23Z" fill="#f88d52"/>
<path d="M69.32,214.21A105.8,105.8 0 0 1 67.58,211.98L77.32,204.62A93.6,93.6 0 0 0 78.85,206.6Z" fill="#f88d52"/>
<path d="M67.62,212.02A105.8,105.8 0 0 1 66.81,210.94L76.63,203.7A93.6,93.6 0 0 0 77.35,204.66Z" fill="#fec980"/>
<path d="M66.84,210.98A105.8,105.8 0 0 1 65.73,209.44L75.68,202.38A93.6,93.6 0 0 0 76.66,203.74Z" fill="#fdae61"/>
<path d="M65.76,209.49A105.8,105.8 0 0 1 64.15,207.16L74.28,200.36A93.6,93.6 0 0 0 75.7,202.42Z" fill="#f46d43"/>
<path d="M64.18,207.21A105.8,105.8 0 0 1 63.14,205.62L73.38,199A93.6,93.6 0 0 0 74.31,200.4Z" fill="#abdda4"/>
<path d="M63.17,205.67A105.8,105.8 0 0 1 61.96,203.75L72.34,197.34A93.6,93.6 0 0 0 73.41,199.04Z" fill="#9e0142"/>
<path d="M61.98,203.79A105.8,105.8 0 0 1 61.19,202.49L71.66,196.23A93.6,93.6 0 0 0 72.36,197.38Z" fill="#fec980"/>
<path d="M61.22,202.53A105.8,105.8 0 0 1 60.44,201.21L71,195.1A93.6,93.6 0 0 0 71.69,196.27Z" fill="#fdae61"/>
<path d="M60.47,201.26A105.8,105.8 0 0 1 59.98,200.41L70.59,194.39A93.6,93.6 0 0 0 71.02,195.14Z" fill="#fdae61"/>
<path d="M60.01,200.46A105.8,105.8 0 0 1 59.35,199.28L70.03,193.39A93.6,93.6 0 0 0 70.62,194.43Z" fill="#fee08b"/>
<path d="M59.38,199.33A105.8,105.8 0 0 1 58.47,197.66L69.26,191.95A93.6,93.6 0 0 0 70.06,193.44Z" fill="#f46d43"/>
<path d="M58.5,197.71A105.8,105.8 0 0 1 57.79,196.35L68.65,190.8A93.6,93.6 0 0 0 69.28,192Z" fill="#d53e4f"/>
<path d="M57.82,196.4A105.8,105.8 0 0 1 57.13,195.03L68.07,189.63A93.6,93.6 0 0 0 68.68,190.84Z" fill="#fee08b"/>
<path d="M57.15,195.08A105.8,105.8 0 0 1 55.93,192.53L67.01,187.42A93.6,93.6 0 0 0 68.09,189.67Z" fill="#f46d43"/>
<path d="M55.96,192.58A105.8,105.8 0 0 1 55.32,191.18L66.47,186.23A93.6,93.6 0 0 0 67.03,187.46Z" fill="#9e0142"/>
<path d="M55.35,191.23A105.8,105.8 0 0 1 54.95,190.34L66.14,185.48A93.6,93.6 0 0 0 66.49,186.27Z" fill="#f46d43"/>
<path d="M54.98,190.39A105.8,105.8 0 0 1 54.23,188.64L65.51,183.97A93.6,93.6 0 0 0 66.16,185.52Z" fill="#d53e4f"/>
<path d="M54.25,188.69A105.8,105.8 0 0 1 54.11,188.35L65.4,183.72A93.6,93.6 0 0 0 65.52,184.02Z" fill="#f88d52"/>
<path d="M52.02,182.82A105.8,105.8 0 0 1 51.53,181.37L63.12,177.54A93.6,93.6 0 0 0 63.55,178.83Z" fill="#fee08b"/>
<path d="M51.55,181.42A105.8,105.8 0 0 1 51.25,180.49L62.87,176.77A93.6,93.6 0 0 0 63.13,177.59Z" fill="#f46d43"/>
<path d="M51.26,180.54A105.8,105.8 0 0 1 50.97,179.61L62.62,175.99A93.6,93.6 0 0 0 62.88,176.81Z" fill="#fdae61"/>
<path d="M50.99,179.66A105.8,105.8 0 0 1 50.7,178.73L62.38,175.21A93.6,93.6 0 0 0 62.63,176.03Z" fill="#f46d43"/>
<path d="M50.72,178.78A105.8,105.8 0 0 1 50.08,176.6L61.83,173.32A93.6,93.6 0 0 0 62.39,175.25Z" fill="#fdae61"/>
<path d="M50.1,176.65A105.8,105.8 0 0 1 49.37,173.92L61.21,170.95A93.6,93.6 0 0 0 61.85,173.37Z" fill="#f88d52"/>
<path d="M49.39,173.97A105.8,105.8 0 0 1 49.07,172.67L60.94,169.84A93.6,93.6 0 0 0 61.22,171Z" fill="#fee08b"/>
<path d="M49.08,172.72A105.8,105.8 0 0 1 48.78,171.41L60.68,168.73A93.6,93.6 0 0 0 60.95,169.89Z" fill="#fee08b"/>
<path d="M48.79,171.46A105.8,105.8 0 0 1 48.2,168.7L60.17,166.33A93.6,93.6 0 0 0 60.69,168.78Z" fill="#fee08b"/>
<path d="M48.21,168.75A105.8,105.8 0 0 1 47.7,165.97L59.73,163.92A93.6,93.6 0 0 0 60.18,166.38Z" fill="#f88d52"/>
<path d="M47.71,166.03A105.8,105.8 0 0 1 47.41,164.15L59.47,162.31A93.6,93.6 0 0 0 59.74,163.97Z" fill="#e6f598"/>
<path d="M47.42,164.2A105.8,105.8 0 0 1 47.15,162.32L59.24,160.69A93.6,93.6 0 0 0 59.48,162.36Z" fill="#ffffbf"/>
<path d="M47.15,162.38A105.8,105.8 0 0 1 46.81,159.57L58.94,158.26A93.6,93.6 0 0 0 59.24,160.74Z" fill="#f46d43"/>
<path d="M46.82,159.63A105.8,105.8 0 0 1 46.68,158.29L58.83,157.12A93.6,93.6 0 0 0 58.95,158.31Z" fill="#fee08b"/>
<path d="M46.69,158.34A105.8,105.8 0 0 1 46.49,156.08L58.66,155.17A93.6,93.6 0 0 0 58.83,157.17Z" fill="#fee08b"/>
<path d="M46.5,156.13A105.8,105.8 0 0 1 46.39,154.6L58.57,153.87A93.6,93.6 0 0 0 58.66,155.22Z" fill="#f88d52"/>
<path d="M46.4,154.66A105.8,105.8 0 0 1 46.26,151.84L58.46,151.42A93.6,93.6 0 0 0 58.57,153.91Z" fill="#fee08b"/>
<path d="M46.26,151.89A105.8,105.8 0 0 1 46.2,149.07L58.4,148.97A93.6,93.6 0 0 0 58.46,151.47Z" fill="#f46d43"/>
<path d="M46.2,149.12A105.8,105.8 0 0 1 46.21,146.85L58.41,147.01A93.6,93.6 0 0 0 58.4,149.02Z" fill="#fee08b"/>
<path d="M46.21,146.91A105.8,105.8 0 0 1 46.26,144.64L58.45,145.05A93.6,93.6 0 0 0 58.41,147.06Z" fill="#fdae61"/>
<path d="M46.26,144.69A105.8,105.8 0 0 1 46.32,143.16L58.51,143.74A93.6,93.6 0 0 0 58.45,145.1Z" fill="#d53e4f"/>
<path d="M46.32,143.22A105.8,105.8 0 0 1 46.42,141.32L58.6,142.11A93.6,93.6 0 0 0 58.5,143.79Z" fill="#e6f598"/>
<path d="M46.42,141.37A105.8,105.8 0 0 1 46.45,141L58.62,141.83A93.6,93.6 0 0 0 58.6,142.16Z" fill="#f46d43"/>
<path d="M46.94,135.67A105.8,105.8 0 0 1 47.14,134.15L59.23,135.77A93.6,93.6 0 0 0 59.06,137.12Z" fill="#ffffbf"/>
<path d="M47.13,134.21A105.8,105.8 0 0 1 47.45,131.96L59.51,133.83A93.6,93.6 0 0 0 59.22,135.82Z" fill="#9e0142"/>
<path d="M47.45,132.01A105.8,105.8 0 0 1 47.69,130.5L59.72,132.54A93.6,93.6 0 0 0 59.5,133.88Z" fill="#66c2a5"/>
<path d="M47.68,130.56A105.8,105.8 0 0 1 47.91,129.23L59.92,131.42A93.6,93.6 0 0 0 59.71,132.59Z" fill="#d53e4f"/>
<path d="M47.9,129.28A105.8,105.8 0 0 1 48.34,127.05L60.29,129.49A93.6,93.6 0 0 0 59.91,131.46Z" fill="#fee08b"/>
<path d="M48.32,127.11A105.8,105.8 0 0 1 48.8,124.89L60.7,127.57A93.6,93.6 0 0 0 60.28,129.54Z" fill="#fee08b"/>
<path d="M48.79,124.94A105.8,105.8 0 0 1 49.31,122.73L61.15,125.67A93.6,93.6 0 0 0 60.69,127.62Z" fill="#f46d43"/>
<path d="M49.3,122.78A105.8,105.8 0 0 1 49.54,121.83L61.35,124.88A93.6,93.6 0 0 0 61.14,125.71Z" fill="#fee08b"/>
<path d="M49.52,121.89A105.8,105.8 0 0 1 50.11,119.69L61.86,122.98A93.6,93.6 0 0 0 61.34,124.92Z" fill="#f46d43"/>
<path d="M50.1,119.75A105.8,105.8 0 0 1 50.73,117.57L62.41,121.1A93.6,93.6 0 0 0 61.85,123.03Z" fill="#fee08b"/>
<path d="M50.72,117.62A105.8,105.8 0 0 1 51.28,115.8L62.9,119.54A93.6,93.6 0 0 0 62.39,121.15Z" fill="#fee08b"/>
<path d="M51.26,115.86A105.8,105.8 0 0 1 52.16,113.18L63.68,117.22A93.6,93.6 0 0 0 62.88,119.59Z" fill="#ffffbf"/>
<path d="M52.15,113.23A105.8,105.8 0 0 1 52.47,112.31L63.95,116.45A93.6,93.6 0 0 0 63.66,117.26Z" fill="#abdda4"/>
<path d="M52.45,112.36A105.8,105.8 0 0 1 53.12,110.58L64.52,114.92A93.6,93.6 0 0 0 63.93,116.49Z" fill="#f46d43"/>
<path d="M53.1,110.63A105.8,105.8 0 0 1 53.65,109.2L64.99,113.7A93.6,93.6 0 0 0 64.5,114.96Z" fill="#e6f598"/>
<path d="M53.63,109.25A105.8,105.8 0 0 1 54.35,107.49L65.61,112.18A93.6,93.6 0 0 0 64.97,113.74Z" fill="#66c2a5"/>
<path d="M54.32,107.54A105.8,105.8 0 0 1 54.85,106.3L66.05,111.13A93.6,93.6 0 0 0 65.59,112.23Z" fill="#fdae61"/>
<path d="M54.83,106.35A105.8,105.8 0 0 1 55.6,104.61L66.71,109.64A93.6,93.6 0 0 0 66.03,111.18Z" fill="#66c2a5"/>
<path d="M55.57,104.66A105.8,105.8 0 0 1 56.53,102.6L67.54,107.86A93.6,93.6 0 0 0 66.69,109.68Z" fill="#fdae61"/>
<path d="M56.51,102.65A105.8,105.8 0 0 1 56.93,101.77L67.89,107.12A93.6,93.6 0 0 0 67.52,107.9Z" fill="#e6f598"/>
<path d="M56.91,101.82A105.8,105.8 0 0 1 57.76,100.12L68.62,105.66A93.6,93.6 0 0 0 67.87,107.17Z" fill="#fee08b"/>
<path d="M57.73,100.17A105.8,105.8 0 0 1 58.44,98.81L69.23,104.5A93.6,93.6 0 0 0 68.6,105.71Z" fill="#ffffbf"/>
<path d="M58.41,98.86A105.8,105.8 0 0 1 58.5,98.69L69.28,104.4A93.6,93.6 0 0 0 69.2,104.55Z" fill="#fee08b"/>
<path d="M61.41,93.55A105.8,105.8 0 0 1 61.92,92.72L72.3,99.11A93.6,93.6 0 0 0 71.85,99.85Z" fill="#f46d43"/>
<path d="M61.89,92.76A105.8,105.8 0 0 1 62.6,91.62L72.91,98.14A93.6,93.6 0 0 0 72.28,99.15Z" fill="#fdae61"/>
<path d="M62.57,91.67A105.8,105.8 0 0 1 63.1,90.84L73.35,97.45A93.6,93.6 0 0 0 72.88,98.18Z" fill="#fee08b"/>
<path d="M63.07,90.89A105.8,105.8 0 0 1 63.91,89.61L74.07,96.36A93.6,93.6 0 0 0 73.32,97.5Z" fill="#fdae61"/>
<path d="M63.88,89.65A105.8,105.8 0 0 1 65.47,87.32L75.45,94.34A93.6,93.6 0 0 0 74.04,96.4Z" fill="#fdae61"/>
<path d="M65.44,87.36A105.8,105.8 0 0 1 66.22,86.27L76.11,93.41A93.6,93.6 0 0 0 75.42,94.38Z" fill="#fee08b"/>
<path d="M66.19,86.31A105.8,105.8 0 0 1 67.32,84.78L77.08,92.09A93.6,93.6 0 0 0 76.08,93.45Z" fill="#f46d43"/>
<path d="M67.28,84.82A105.8,105.8 0 0 1 68.44,83.31L78.07,90.79A93.6,93.6 0 0 0 77.05,92.13Z" fill="#ffffbf"/>
<path d="M68.4,83.35A105.8,105.8 0 0 1 69.81,81.57L79.29,89.26A93.6,93.6 0 0 0 78.04,90.83Z" fill="#f46d43"/>
<path d="M69.78,81.62A105.8,105.8 0 0 1 71.23,79.87L80.54,87.75A93.6,93.6 0 0 0 79.26,89.3Z" fill="#fee08b"/>
<path d="M71.19,79.91A105.8,105.8 0 0 1 72.19,78.75L81.39,86.76A93.6,93.6 0 0 0 80.51,87.79Z" fill="#d73027"/>
<path d="M72.15,78.79A105.8,105.8 0 0 1 73.04,77.78L82.15,85.9A93.6,93.6 0 0 0 81.36,86.79Z" fill="#d73027"/>
<path d="M73.01,77.82A105.8,105.8 0 0 1 74.53,76.14L83.47,84.45A93.6,93.6 0 0 0 82.11,85.93Z" fill="#f88d52"/>
<path d="M74.5,76.18A105.8,105.8 0 0 1 75.17,75.47L84.03,83.85A93.6,93.6 0 0 0 83.43,84.48Z" fill="#fdae61"/>
<path d="M75.13,75.51A105.8,105.8 0 0 1 77.1,73.48L85.73,82.1A93.6,93.6 0 0 0 83.99,83.89Z" fill="#f88d52"/>
<path d="M77.06,73.52A105.8,105.8 0 0 1 78.68,71.93L87.13,80.72A93.6,93.6 0 0 0 85.7,82.13Z" fill="#fee08b"/>
<path d="M78.64,71.97A105.8,105.8 0 0 1 79.62,71.04L87.96,79.93A93.6,93.6 0 0 0 87.1,80.76Z" fill="#f88d52"/>
<path d="M79.57,71.08A105.8,105.8 0 0 1 80.56,70.16L88.8,79.16A93.6,93.6 0 0 0 87.93,79.97Z" fill="#fee08b"/>
<path d="M80.52,70.2A105.8,105.8 0 0 1 82.21,68.68L90.26,77.85A93.6,93.6 0 0 0 88.76,79.19Z" fill="#fee08b"/>
<path d="M82.17,68.72A105.8,105.8 0 0 1 83.19,67.83L91.12,77.1A93.6,93.6 0 0 0 90.22,77.88Z" fill="#f88d52"/>
<path d="M83.15,67.87A105.8,105.8 0 0 1 84.18,67L92,76.36A93.6,93.6 0 0 0 91.09,77.13Z" fill="#f88d52"/>
<path d="M84.13,67.03A105.8,105.8 0 0 1 85.89,65.6L93.52,75.12A93.6,93.6 0 0 0 91.96,76.39Z" fill="#f88d52"/>
<path d="M85.85,65.63A105.8,105.8 0 0 1 86.91,64.79L94.41,74.41A93.6,93.6 0 0 0 93.48,75.15Z" fill="#fdae61"/>
<path d="M86.86,64.83A105.8,105.8 0 0 1 89.11,63.12L96.36,72.93A93.6,93.6 0 0 0 94.37,74.44Z" fill="#fee08b"/>
<path d="M89.07,63.15A105.8,105.8 0 0 1 90.31,62.25L97.42,72.16A93.6,93.6 0 0 0 96.32,72.96Z" fill="#f46d43"/>
<path d="M90.26,62.28A105.8,105.8 0 0 1 91.51,61.4L98.49,71.41A93.6,93.6 0 0 0 97.38,72.19Z" fill="#fee08b"/>
<path d="M96.41,58.18A105.8,105.8 0 0 1 97.71,57.39L103.97,67.86A93.6,93.6 0 0 0 102.82,68.56Z" fill="#f46d43"/>
<path d="M97.67,57.42A105.8,105.8 0 0 1 98.83,56.73L104.96,67.28A93.6,93.6 0 0 0 103.93,67.89Z" fill="#f46d43"/>
<path d="M98.78,56.76A105.8,105.8 0 0 1 99.63,56.27L105.67,66.87A93.6,93.6 0 0 0 104.92,67.3Z" fill="#f46d43"/>
<path d="M99.58,56.3A105.8,105.8 0 0 1 100.76,55.64L106.66,66.31A93.6,93.6 0 0 0 105.63,66.9Z" fill="#f46d43"/>
<path d="M100.71,55.67A105.8,105.8 0 0 1 103.2,54.33L108.82,65.15A93.6,93.6 0 0 0 106.62,66.34Z" fill="#f46d43"/>
<path d="M103.15,54.35A105.8,105.8 0 0 1 104.51,53.66L109.99,64.56A93.6,93.6 0 0 0 108.78,65.18Z" fill="#fdae61"/>
<path d="M104.46,53.68A105.8,105.8 0 0 1 105.34,53.25L110.72,64.19A93.6,93.6 0 0 0 109.94,64.58Z" fill="#f88d52"/>
<path d="M105.29,53.27A105.8,105.8 0 0 1 107,52.45L112.19,63.49A93.6,93.6 0 0 0 110.68,64.22Z" fill="#f88d52"/>
<path d="M106.95,52.47A105.8,105.8 0 0 1 109.52,51.3L114.42,62.47A93.6,93.6 0 0 0 112.15,63.51Z" fill="#f46d43"/>
<path d="M109.47,51.32A105.8,105.8 0 0 1 110.71,50.79L115.47,62.02A93.6,93.6 0 0 0 114.38,62.49Z" fill="#fdae61"/>
<path d="M110.66,50.81A105.8,105.8 0 0 1 113.28,49.74L117.74,61.09A93.6,93.6 0 0 0 115.43,62.04Z" fill="#fee08b"/>
<path d="M113.22,49.76A105.8,105.8 0 0 1 114.14,49.41L118.5,60.8A93.6,93.6 0 0 0 117.7,61.11Z" fill="#f46d43"/>
<path d="M114.08,49.43A105.8,105.8 0 0 1 115.35,48.95L119.57,60.4A93.6,93.6 0 0 0 118.46,60.82Z" fill="#f88d52"/>
<path d="M115.29,48.97A105.8,105.8 0 0 1 117.96,48.03L121.88,59.58A93.6,93.6 0 0 0 119.53,60.41Z" fill="#fdae61"/>
<path d="M117.9,48.04A105.8,105.8 0 0 1 119.36,47.56L123.12,59.17A93.6,93.6 0 0 0 121.84,59.59Z" fill="#f46d43"/>
<path d="M119.31,47.58A105.8,105.8 0 0 1 122,46.74L125.46,58.44A93.6,93.6 0 0 0 123.08,59.18Z" fill="#f88d52"/>
<path d="M121.95,46.76A105.8,105.8 0 0 1 124.67,45.99L127.82,57.78A93.6,93.6 0 0 0 125.42,58.45Z" fill="#fdae61"/>
<path d="M124.62,46.01A105.8,105.8 0 0 1 126.82,45.44L129.72,57.29A93.6,93.6 0 0 0 127.77,57.79Z" fill="#fee08b"/>
<path d="M126.76,45.45A105.8,105.8 0 0 1 128.07,45.14L130.83,57.02A93.6,93.6 0 0 0 129.67,57.3Z" fill="#f46d43"/>
<path d="M128.02,45.15A105.8,105.8 0 0 1 129.88,44.74L132.43,56.67A93.6,93.6 0 0 0 130.79,57.04Z" fill="#f46d43"/>
<path d="M129.82,44.75A105.8,105.8 0 0 1 130.78,44.55L133.23,56.5A93.6,93.6 0 0 0 132.38,56.68Z" fill="#f46d43"/>
<path d="M130.73,44.56A105.8,105.8 0 0 1 132.96,44.13L135.15,56.13A93.6,93.6 0 0 0 133.18,56.51Z" fill="#fee08b"/>
<path d="M132.9,44.14A105.8,105.8 0 0 1 135.14,43.75L137.08,55.8A93.6,93.6 0 0 0 135.1,56.14Z" fill="#f88d52"/>
<path d="M135.08,43.76A105.8,105.8 0 0 1 136.96,43.47L138.7,55.55A93.6,93.6 0 0 0 137.04,55.8Z" fill="#f46d43"/>
<path d="M136.91,43.48A105.8,105.8 0 0 1 138.25,43.3L139.83,55.39A93.6,93.6 0 0 0 138.65,55.56Z" fill="#f46d43"/>
<path d="M138.19,43.31A105.8,105.8 0 0 1 139.16,43.18L140.64,55.29A93.6,93.6 0 0 0 139.78,55.4Z" fill="#f46d43"/>
<path d="M139.11,43.19A105.8,105.8 0 0 1 140.45,43.03L141.78,55.16A93.6,93.6 0 0 0 140.59,55.3Z" fill="#f46d43"/>
<path d="M140.39,43.04A105.8,105.8 0 0 1 141.91,42.88L143.08,55.03A93.6,93.6 0 0 0 141.73,55.17Z" fill="#fee08b"/>
<path d="M141.86,42.89A105.8,105.8 0 0 1 142.83,42.8L143.89,54.95A93.6,93.6 0 0 0 143.03,55.03Z" fill="#f88d52"/>
<path d="M142.78,42.8A105.8,105.8 0 0 1 142.96,42.79L144,54.94A93.6,93.6 0 0 0 143.84,54.96Z" fill="#f46d43"/>
<path d="M159.73,9.92A138.5,138.5 0 0 1 272.66,80.21L269.18,82.17A134.5,134.5 0 0 0 159.51,13.91Z" fill="#1f7512"/>
<path d="M276.06,86.62A138.5,138.5 0 0 1 285.07,186.61L281.22,185.5A134.5,134.5 0 0 0 272.47,88.4Z" fill="#1f7512"/>
<path d="M282.95,193.29A138.5,138.5 0 0 1 212.71,272.68L210.96,269.09A134.5,134.5 0 0 0 279.17,191.99Z" fill="#1f7512"/>
<path d="M205.56,275.92A138.5,138.5 0 0 1 120.37,283.04L121.29,279.15A134.5,134.5 0 0 0 204.01,272.24Z" fill="#1f7512"/>
<path d="M112.43,280.93A138.5,138.5 0 0 1 65.22,256.14L67.72,253.02A134.5,134.5 0 0 0 113.57,277.09Z" fill="#1f7512"/>
<path d="M59.33,251.13A138.5,138.5 0 0 1 23.86,200.75L27.56,199.24A134.5,134.5 0 0 0 62,248.15Z" fill="#1f7512"/>
<path d="M21.12,193.52A138.5,138.5 0 0 1 13.82,138.78L17.81,139.05A134.5,134.5 0 0 0 24.9,192.21Z" fill="#1f7512"/>
<path d="M14.47,131.8A138.5,138.5 0 0 1 29.6,83.39L33.13,85.26A134.5,134.5 0 0 0 18.45,132.27Z" fill="#1f7512"/>
<path d="M33.41,76.66A138.5,138.5 0 0 1 72.76,34.61L75.05,37.89A134.5,134.5 0 0 0 36.83,78.73Z" fill="#1f7512"/>
<path d="M79.22,30.36A138.5,138.5 0 0 1 140.17,10.21L140.51,14.19A134.5,134.5 0 0 0 81.32,33.77Z" fill="#1f7512"/>
<text x="167.61" y="10.08" transform="rotate(-83.55 167.61 10.08)" class="tk" text-anchor="start">5</text>
<line x1="175.49" y1="10.79" x2="175.69" y2="9.61" stroke="#999" stroke-width="0.6"/>
<text x="183.15" y="12.74" transform="rotate(-77.05 183.15 12.74)" class="tk" text-anchor="start">15</text>
<line x1="190.89" y1="14.34" x2="191.23" y2="13.18" stroke="#999" stroke-width="0.6"/>
<text x="198.28" y="17.13" transform="rotate(-70.55 198.28 17.13)" class="tk" text-anchor="start">25</text>
<line x1="205.8" y1="19.6" x2="206.26" y2="18.49" stroke="#999" stroke-width="0.6"/>
<text x="212.82" y="23.21" transform="rotate(-64.05 212.82 23.21)" class="tk" text-anchor="start">35</text>
<line x1="220.01" y1="26.51" x2="220.59" y2="25.47" stroke="#999" stroke-width="0.6"/>
<text x="226.58" y="30.9" transform="rotate(-57.55 226.58 30.9)" class="tk" text-anchor="start">45</text>
<line x1="233.35" y1="35" x2="234.05" y2="34.02" stroke="#999" stroke-width="0.6"/>
<text x="239.38" y="40.1" transform="rotate(-51.05 239.38 40.1)" class="tk" text-anchor="start">55</text>
<line x1="245.64" y1="44.93" x2="246.44" y2="44.04" stroke="#999" stroke-width="0.6"/>
<text x="251.06" y="50.69" transform="rotate(-44.55 251.06 50.69)" class="tk" text-anchor="start">65</text>
<line x1="256.73" y1="56.2" x2="257.63" y2="55.4" stroke="#999" stroke-width="0.6"/>
<text x="261.46" y="62.53" transform="rotate(-38.05 261.46 62.53)" class="tk" text-anchor="start">75</text>
<line x1="266.47" y1="68.64" x2="267.45" y2="67.96" stroke="#999" stroke-width="0.6"/>
<text x="270.45" y="75.47" transform="rotate(-31.55 270.45 75.47)" class="tk" text-anchor="start">85</text>
<text x="231.05" y="21.19" transform="rotate(31.9 231.05 21.19)" class="cl">1</text>
<text x="279.81" y="93.55" transform="rotate(-23.15 279.81 93.55)" class="tk" text-anchor="start">5</text>
<line x1="283.08" y1="100.75" x2="284.2" y2="100.34" stroke="#999" stroke-width="0.6"/>
<text x="285.17" y="108.37" transform="rotate(-16.65 285.17 108.37)" class="tk" text-anchor="start">15</text>
<line x1="287.6" y1="115.89" x2="288.77" y2="115.62" stroke="#999" stroke-width="0.6"/>
<text x="288.82" y="123.7" transform="rotate(-10.15 288.82 123.7)" class="tk" text-anchor="start">25</text>
<line x1="290.39" y1="131.45" x2="291.58" y2="131.31" stroke="#999" stroke-width="0.6"/>
<text x="290.72" y="139.35" transform="rotate(-3.65 290.72 139.35)" class="tk" text-anchor="start">35</text>
<line x1="291.4" y1="147.23" x2="292.6" y2="147.22" stroke="#999" stroke-width="0.6"/>
<text x="290.83" y="155.11" transform="rotate(2.85 290.83 155.11)" class="tk" text-anchor="start">45</text>
<line x1="290.61" y1="163.01" x2="291.8" y2="163.14" stroke="#999" stroke-width="0.6"/>
<text x="289.15" y="170.78" transform="rotate(9.35 289.15 170.78)" class="tk" text-anchor="start">55</text>
<line x1="288.04" y1="178.61" x2="289.21" y2="178.87" stroke="#999" stroke-width="0.6"/>
<text x="285.72" y="186.16" transform="rotate(15.85 285.72 186.16)" class="tk" text-anchor="start">65</text>
<text x="301" y="134.77" transform="rotate(84.85 301 134.77)" class="cl">2</text>
<text x="280.65" y="200.83" transform="rotate(22.25 280.65 200.83)" class="tk" text-anchor="start">5</text>
<line x1="277.82" y1="208.21" x2="278.9" y2="208.73" stroke="#999" stroke-width="0.6"/>
<text x="273.87" y="215.06" transform="rotate(28.75 273.87 215.06)" class="tk" text-anchor="start">15</text>
<line x1="270.22" y1="222.07" x2="271.24" y2="222.71" stroke="#999" stroke-width="0.6"/>
<text x="265.51" y="228.42" transform="rotate(35.25 265.51 228.42)" class="tk" text-anchor="start">25</text>
<line x1="261.1" y1="234.98" x2="262.03" y2="235.73" stroke="#999" stroke-width="0.6"/>
<text x="255.7" y="240.76" transform="rotate(41.75 255.7 240.76)" class="tk" text-anchor="start">35</text>
<line x1="250.57" y1="246.77" x2="251.42" y2="247.62" stroke="#999" stroke-width="0.6"/>
<text x="244.56" y="251.9" transform="rotate(48.25 244.56 251.9)" class="tk" text-anchor="start">45</text>
<line x1="238.78" y1="257.3" x2="239.53" y2="258.23" stroke="#999" stroke-width="0.6"/>
<text x="232.22" y="261.71" transform="rotate(54.75 232.22 261.71)" class="tk" text-anchor="start">55</text>
<line x1="225.87" y1="266.42" x2="226.51" y2="267.44" stroke="#999" stroke-width="0.6"/>
<text x="218.86" y="270.07" transform="rotate(61.25 218.86 270.07)" class="tk" text-anchor="start">65</text>
<text x="264.04" y="247.33" transform="rotate(-48.5 264.04 247.33)" class="cl">3</text>
<text x="198.4" y="279.23" transform="rotate(70.5 198.4 279.23)" class="tk" text-anchor="start">5</text>
<line x1="191.01" y1="282.03" x2="191.34" y2="283.18" stroke="#999" stroke-width="0.6"/>
<text x="183.27" y="283.64" transform="rotate(77 183.27 283.64)" class="tk" text-anchor="start">15</text>
<line x1="175.61" y1="285.59" x2="175.81" y2="286.77" stroke="#999" stroke-width="0.6"/>
<text x="167.74" y="286.31" transform="rotate(83.5 167.74 286.31)" class="tk" text-anchor="start">25</text>
<line x1="159.9" y1="287.38" x2="159.97" y2="288.57" stroke="#999" stroke-width="0.6"/>
<text x="152" y="287.2" transform="rotate(270 152 287.2)" class="tk" text-anchor="end">35</text>
<line x1="144.1" y1="287.38" x2="144.03" y2="288.57" stroke="#999" stroke-width="0.6"/>
<text x="136.26" y="286.31" transform="rotate(276.5 136.26 286.31)" class="tk" text-anchor="end">45</text>
<line x1="128.39" y1="285.59" x2="128.19" y2="286.77" stroke="#999" stroke-width="0.6"/>
<text x="120.73" y="283.64" transform="rotate(283 120.73 283.64)" class="tk" text-anchor="end">55</text>
<text x="164.45" y="297.28" transform="rotate(-4.78 164.45 297.28)" class="cl">4</text>
<text x="104.8" y="278.94" transform="rotate(289.85 104.8 278.94)" class="tk" text-anchor="end">5</text>
<line x1="97.31" y1="276.42" x2="96.84" y2="277.53" stroke="#999" stroke-width="0.6"/>
<text x="90.3" y="272.76" transform="rotate(296.35 90.3 272.76)" class="tk" text-anchor="end">15</text>
<line x1="83.14" y1="269.41" x2="82.55" y2="270.45" stroke="#999" stroke-width="0.6"/>
<text x="76.6" y="264.97" transform="rotate(302.85 76.6 264.97)" class="tk" text-anchor="end">25</text>
<line x1="69.87" y1="260.83" x2="69.16" y2="261.8" stroke="#999" stroke-width="0.6"/>
<text x="82.46" y="280.65" transform="rotate(27.7 82.46 280.65)" class="cl">5</text>
<text x="53.28" y="246.06" transform="rotate(315.25 53.28 246.06)" class="tk" text-anchor="end">5</text>
<line x1="47.6" y1="240.57" x2="46.7" y2="241.36" stroke="#999" stroke-width="0.6"/>
<text x="42.84" y="234.25" transform="rotate(321.75 42.84 234.25)" class="tk" text-anchor="end">15</text>
<line x1="37.81" y1="228.16" x2="36.83" y2="228.84" stroke="#999" stroke-width="0.6"/>
<text x="33.8" y="221.34" transform="rotate(328.25 33.8 221.34)" class="tk" text-anchor="end">25</text>
<line x1="29.49" y1="214.72" x2="28.44" y2="215.29" stroke="#999" stroke-width="0.6"/>
<text x="26.28" y="207.49" transform="rotate(334.75 26.28 207.49)" class="tk" text-anchor="end">35</text>
<text x="29.68" y="234.33" transform="rotate(54.85 29.68 234.33)" class="cl">6</text>
<text x="18.28" y="186.16" transform="rotate(344.15 18.28 186.16)" class="tk" text-anchor="end">5</text>
<line x1="15.96" y1="178.61" x2="14.79" y2="178.87" stroke="#999" stroke-width="0.6"/>
<text x="14.85" y="170.78" transform="rotate(350.65 14.85 170.78)" class="tk" text-anchor="end">15</text>
<line x1="13.39" y1="163.01" x2="12.2" y2="163.14" stroke="#999" stroke-width="0.6"/>
<text x="13.17" y="155.11" transform="rotate(357.15 13.17 155.11)" class="tk" text-anchor="end">25</text>
<line x1="12.6" y1="147.23" x2="11.4" y2="147.22" stroke="#999" stroke-width="0.6"/>
<text x="13.28" y="139.35" transform="rotate(363.65 13.28 139.35)" class="tk" text-anchor="end">35</text>
<text x="3.71" y="167.99" transform="rotate(82.4 3.71 167.99)" class="cl">7</text>
<text x="15.13" y="123.94" transform="rotate(370.05 15.13 123.94)" class="tk" text-anchor="end">5</text>
<line x1="16.34" y1="116.13" x2="15.17" y2="115.86" stroke="#999" stroke-width="0.6"/>
<text x="18.76" y="108.61" transform="rotate(376.55 18.76 108.61)" class="tk" text-anchor="end">15</text>
<line x1="20.84" y1="100.98" x2="19.71" y2="100.57" stroke="#999" stroke-width="0.6"/>
<text x="24.1" y="93.78" transform="rotate(383.05 24.1 93.78)" class="tk" text-anchor="end">25</text>
<line x1="27.03" y1="86.44" x2="25.95" y2="85.9" stroke="#999" stroke-width="0.6"/>
<text x="9.21" y="103.59" transform="rotate(287.35 9.21 103.59)" class="cl">8</text>
<text x="37.24" y="69.77" transform="rotate(394.35 37.24 69.77)" class="tk" text-anchor="end">5</text>
<line x1="41.55" y1="63.15" x2="40.6" y2="62.41" stroke="#999" stroke-width="0.6"/>
<text x="46.86" y="57.28" transform="rotate(400.85 46.86 57.28)" class="tk" text-anchor="end">15</text>
<line x1="51.89" y1="51.19" x2="51.03" y2="50.35" stroke="#999" stroke-width="0.6"/>
<text x="57.82" y="45.96" transform="rotate(407.35 57.82 45.96)" class="tk" text-anchor="end">25</text>
<line x1="63.52" y1="40.48" x2="62.76" y2="39.55" stroke="#999" stroke-width="0.6"/>
<text x="70" y="35.96" transform="rotate(413.85 70 35.96)" class="tk" text-anchor="end">35</text>
<text x="42.77" y="45.98" transform="rotate(313.1 42.77 45.98)" class="cl">9</text>
<text x="85.78" y="25.99" transform="rotate(421.55 85.78 25.99)" class="tk" text-anchor="end">5</text>
<line x1="92.65" y1="22.07" x2="92.14" y2="20.98" stroke="#999" stroke-width="0.6"/>
<text x="100.04" y="19.28" transform="rotate(428.05 100.04 19.28)" class="tk" text-anchor="end">15</text>
<line x1="107.31" y1="16.16" x2="106.92" y2="15.02" stroke="#999" stroke-width="0.6"/>
<text x="114.97" y="14.22" transform="rotate(434.55 114.97 14.22)" class="tk" text-anchor="end">25</text>
<line x1="122.54" y1="11.95" x2="122.29" y2="10.78" stroke="#999" stroke-width="0.6"/>
<text x="130.38" y="10.89" transform="rotate(441.05 130.38 10.89)" class="tk" text-anchor="end">35</text>
<line x1="138.15" y1="9.49" x2="138.04" y2="8.3" stroke="#999" stroke-width="0.6"/>
<text x="105.03" y="6.17" transform="rotate(341.7 105.03 6.17)" class="cl">10</text><path d="M110.47,64.54Q152,148.2 136.42,240.29A93.4,93.4 0 0 0 142.89,241.15Q152,148.2 116.41,61.85A93.4,93.4 0 0 0 110.47,64.54Z" fill="#ebc4a8" fill-opacity="0.35" stroke="#b5764a" stroke-width="0.55"/>
<path d="M113.42,63.14Q152,148.2 139.65,240.78" fill="none" stroke="#c08058" stroke-width="0.45"/>
<path d="M122.52,59.57Q152,148.2 148.01,241.51A93.4,93.4 0 0 0 148.74,241.54Q152,148.2 123.22,59.35A93.4,93.4 0 0 0 122.52,59.57Z" fill="#ebc4a8" fill-opacity="0.35" stroke="#b5764a" stroke-width="0.55"/>
<path d="M125.47,58.65Q152,148.2 151.27,241.6A93.4,93.4 0 0 0 152,241.6Q152,148.2 126.18,58.44A93.4,93.4 0 0 0 125.47,58.65Z" fill="#ebc4a8" fill-opacity="0.35" stroke="#b5764a" stroke-width="0.55"/>
<path d="M128.3,57.86Q152,148.2 154.85,241.56A93.4,93.4 0 0 0 155.59,241.53Q152,148.2 129.01,57.67A93.4,93.4 0 0 0 128.3,57.86Z" fill="#ebc4a8" fill-opacity="0.35" stroke="#b5764a" stroke-width="0.55"/>
<path d="M131.15,57.16Q152,148.2 158.43,241.38A93.4,93.4 0 0 0 159.17,241.32Q152,148.2 131.86,57A93.4,93.4 0 0 0 131.15,57.16Z" fill="#ebc4a8" fill-opacity="0.35" stroke="#b5764a" stroke-width="0.55"/>
<path d="M78.6,205.96Q152,148.2 144.75,241.32A93.4,93.4 0 0 0 145.48,241.37Q152,148.2 78.15,205.38A93.4,93.4 0 0 0 78.6,205.96Z" fill="#e2b898" fill-opacity="0.35" stroke="#ad6a3a" stroke-width="0.55"/>
<path d="M76.82,203.63Q152,148.2 150.45,241.59A93.4,93.4 0 0 0 151.18,241.6Q152,148.2 76.39,203.03A93.4,93.4 0 0 0 76.82,203.63Z" fill="#e2b898" fill-opacity="0.35" stroke="#ad6a3a" stroke-width="0.55"/>
<path d="M75.12,201.24Q152,148.2 156.16,241.51A93.4,93.4 0 0 0 156.89,241.47Q152,148.2 74.7,200.63A93.4,93.4 0 0 0 75.12,201.24Z" fill="#e2b898" fill-opacity="0.35" stroke="#ad6a3a" stroke-width="0.55"/>
<path d="M73.49,198.8Q152,148.2 161.84,241.08A93.4,93.4 0 0 0 162.57,241Q152,148.2 73.1,198.18A93.4,93.4 0 0 0 73.49,198.8Z" fill="#e2b898" fill-opacity="0.35" stroke="#ad6a3a" stroke-width="0.55"/>
<path d="M71.94,196.3Q152,148.2 169.1,240.02A93.4,93.4 0 0 0 169.82,239.88Q152,148.2 71.57,195.67A93.4,93.4 0 0 0 71.94,196.3Z" fill="#e2b898" fill-opacity="0.35" stroke="#ad6a3a" stroke-width="0.55"/>
<path d="M70.79,194.33Q152,148.2 176.25,238.4A93.4,93.4 0 0 0 176.96,238.2Q152,148.2 70.43,193.69A93.4,93.4 0 0 0 70.79,194.33Z" fill="#e2b898" fill-opacity="0.35" stroke="#ad6a3a" stroke-width="0.55"/>
<path d="M85.73,82.39Q152,148.2 202.87,226.53A93.4,93.4 0 0 0 207.95,222.99Q152,148.2 89.5,78.79A93.4,93.4 0 0 0 85.73,82.39Z" fill="#7f8b97" fill-opacity="0.8" stroke="#535f6b" stroke-width="0.6"/>
<path d="M87.59,80.56Q152,148.2 205.44,224.8" fill="none" stroke="#aab4bd" stroke-width="0.5"/>
<path d="M90.48,77.92Q152,148.2 213.28,218.69A93.4,93.4 0 0 0 216.29,215.95Q152,148.2 92.97,75.82A93.4,93.4 0 0 0 90.48,77.92Z" fill="#a2acb6" fill-opacity="0.6" stroke="#56626e" stroke-width="0.6"/>
<path d="M93.48,75.41Q152,148.2 219.64,212.61A93.4,93.4 0 0 0 222.49,209.48Q152,148.2 96.18,73.31A93.4,93.4 0 0 0 93.48,75.41Z" fill="#a2acb6" fill-opacity="0.6" stroke="#5c6874" stroke-width="0.6"/>
<path d="M75.96,93.96Q152,148.2 227.37,203.36A93.4,93.4 0 0 0 228.51,201.77Q152,148.2 77.02,92.51A93.4,93.4 0 0 0 75.96,93.96Z" fill="#a2acb6" fill-opacity="0.55" stroke="#626e7a" stroke-width="0.55"/>
<path d="M78,91.21Q152,148.2 235.51,190.02A93.4,93.4 0 0 0 236.3,188.41Q152,148.2 79.21,89.68A93.4,93.4 0 0 0 78,91.21Z" fill="#a2acb6" fill-opacity="0.55" stroke="#626e7a" stroke-width="0.55"/>
<path d="M59.46,135.52Q152,148.2 120.67,236.19A93.4,93.4 0 0 0 122.67,236.88Q152,148.2 60.25,130.7A93.4,93.4 0 0 0 59.46,135.52Z" fill="#dfe3e7" fill-opacity="0.2" stroke="#6c7986" stroke-width="0.7"/>
<path d="M245.11,140.87Q152,148.2 155.26,241.54" fill="none" stroke="#d6ec8c" stroke-width="0.7"/>
<path d="M58.61,149.18Q152,148.2 245.4,147.55A93.4,93.4 0 0 0 245.22,142.34Q152,148.2 58.76,142.66A93.4,93.4 0 0 0 58.61,149.18Z" fill="#e6b0cd" fill-opacity="0.45" stroke="#b75a8c" stroke-width="0.45"/>
<path d="M58.71,152.76Q152,148.2 245.19,142.01A93.4,93.4 0 0 0 245.14,141.2Q152,148.2 58.64,150.81A93.4,93.4 0 0 0 58.71,152.76Z" fill="#e6b0cd" fill-opacity="0.35" stroke="#b75a8c" stroke-width="0.4"/>
<path d="M58.91,155.85Q152,148.2 245.09,140.55A93.4,93.4 0 0 0 245.03,139.9Q152,148.2 58.82,154.55A93.4,93.4 0 0 0 58.91,155.85Z" fill="#e6b0cd" fill-opacity="0.3" stroke="#c27aa3" stroke-width="0.4"/>
<path d="M184.86,60.77Q152,148.2 65.71,112.46" fill="none" stroke="#6cc49a" stroke-width="0.8"/>
<path d="M211.79,76.44Q152,148.2 243.39,167.46A93.4,93.4 0 0 0 243.89,164.9Q152,148.2 213.77,78.14A93.4,93.4 0 0 0 211.79,76.44Z" fill="#c5e9d6" fill-opacity="0.45" stroke="#62bb8e" stroke-width="0.6"/>
<text x="147.5" y="30" class="tl">A</text>
<text x="147.5" y="49.2" class="tl">B</text>
<text x="147.3" y="68.4" class="tl">C</text>
</svg>
</body></html>
